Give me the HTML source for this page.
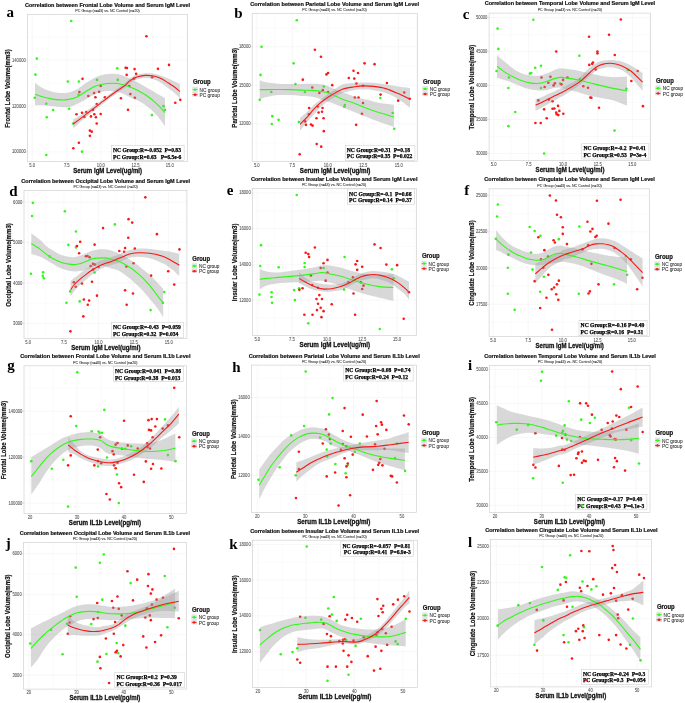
<!DOCTYPE html><html><head><meta charset="utf-8"><style>html,body{margin:0;padding:0;background:#fff;}svg{display:block;will-change:transform;}</style></head><body><svg width="685" height="703" viewBox="0 0 685 703">
<rect width="685" height="703" fill="#fff"/>
<clipPath id="clipa"><rect x="27.5" y="14.5" width="160.00" height="147.10"/></clipPath>
<line x1="49.45" y1="14.5" x2="49.45" y2="161.6" stroke="#f5f5f5" stroke-width="0.4"/><line x1="83.85" y1="14.5" x2="83.85" y2="161.6" stroke="#f5f5f5" stroke-width="0.4"/><line x1="118.25" y1="14.5" x2="118.25" y2="161.6" stroke="#f5f5f5" stroke-width="0.4"/><line x1="152.70" y1="14.5" x2="152.70" y2="161.6" stroke="#f5f5f5" stroke-width="0.4"/><line x1="187.01" y1="14.5" x2="187.01" y2="161.6" stroke="#f5f5f5" stroke-width="0.4"/><line x1="27.5" y1="37.28" x2="187.5" y2="37.28" stroke="#f5f5f5" stroke-width="0.4"/><line x1="27.5" y1="83.20" x2="187.5" y2="83.20" stroke="#f5f5f5" stroke-width="0.4"/><line x1="27.5" y1="129.05" x2="187.5" y2="129.05" stroke="#f5f5f5" stroke-width="0.4"/><line x1="32.10" y1="14.5" x2="32.10" y2="161.6" stroke="#efefef" stroke-width="0.45"/><line x1="66.80" y1="14.5" x2="66.80" y2="161.6" stroke="#efefef" stroke-width="0.45"/><line x1="100.90" y1="14.5" x2="100.90" y2="161.6" stroke="#efefef" stroke-width="0.45"/><line x1="135.60" y1="14.5" x2="135.60" y2="161.6" stroke="#efefef" stroke-width="0.45"/><line x1="169.80" y1="14.5" x2="169.80" y2="161.6" stroke="#efefef" stroke-width="0.45"/><line x1="27.5" y1="60.20" x2="187.5" y2="60.20" stroke="#efefef" stroke-width="0.45"/><line x1="27.5" y1="106.20" x2="187.5" y2="106.20" stroke="#efefef" stroke-width="0.45"/><line x1="27.5" y1="151.90" x2="187.5" y2="151.90" stroke="#efefef" stroke-width="0.45"/>
<g clip-path="url(#clipa)">
<rect x="111.4" y="145.39999999999998" width="72.69" height="15.20" fill="#fff" stroke="#c8c8c8" stroke-width="0.5"/>
<text x="113.00" y="151.90" font-family="Liberation Serif" font-size="5.6" fill="#000" stroke="#000" stroke-width="0.25" font-weight="bold" xml:space="preserve">NC Group:R=-0.052  P=0.83</text>
<text x="113.00" y="158.60" font-family="Liberation Serif" font-size="5.6" fill="#000" stroke="#000" stroke-width="0.25" font-weight="bold" xml:space="preserve">PC Group:R=0.63   P=6.5e-6</text>
<circle cx="71.24" cy="21.04" r="1.3" fill="#30f818"/>
<circle cx="36.82" cy="58.61" r="1.3" fill="#30f818"/>
<circle cx="35.50" cy="74.64" r="1.3" fill="#30f818"/>
<circle cx="67.82" cy="81.47" r="1.3" fill="#30f818"/>
<circle cx="78.86" cy="81.47" r="1.3" fill="#30f818"/>
<circle cx="96.99" cy="79.90" r="1.3" fill="#30f818"/>
<circle cx="117.23" cy="68.34" r="1.3" fill="#30f818"/>
<circle cx="117.75" cy="79.90" r="1.3" fill="#30f818"/>
<circle cx="34.72" cy="97.77" r="1.3" fill="#30f818"/>
<circle cx="78.60" cy="94.87" r="1.3" fill="#30f818"/>
<circle cx="46.28" cy="103.81" r="1.3" fill="#30f818"/>
<circle cx="53.11" cy="110.12" r="1.3" fill="#30f818"/>
<circle cx="69.14" cy="108.80" r="1.3" fill="#30f818"/>
<circle cx="46.80" cy="117.21" r="1.3" fill="#30f818"/>
<circle cx="73.08" cy="123.52" r="1.3" fill="#30f818"/>
<circle cx="82.01" cy="151.63" r="1.3" fill="#30f818"/>
<circle cx="46.28" cy="155.05" r="1.3" fill="#30f818"/>
<circle cx="151.91" cy="115.11" r="1.3" fill="#30f818"/>
<circle cx="163.47" cy="106.17" r="1.3" fill="#30f818"/>
<circle cx="165.05" cy="109.85" r="1.3" fill="#30f818"/>
<circle cx="146.39" cy="36.28" r="1.3" fill="#f81818"/>
<circle cx="168.99" cy="64.92" r="1.3" fill="#f81818"/>
<circle cx="157.95" cy="68.86" r="1.3" fill="#f81818"/>
<circle cx="125.63" cy="67.81" r="1.3" fill="#f81818"/>
<circle cx="126.95" cy="68.07" r="1.3" fill="#f81818"/>
<circle cx="134.57" cy="69.12" r="1.3" fill="#f81818"/>
<circle cx="126.68" cy="74.90" r="1.3" fill="#f81818"/>
<circle cx="136.14" cy="73.85" r="1.3" fill="#f81818"/>
<circle cx="82.54" cy="78.85" r="1.3" fill="#f81818"/>
<circle cx="134.04" cy="78.58" r="1.3" fill="#f81818"/>
<circle cx="152.17" cy="77.27" r="1.3" fill="#f81818"/>
<circle cx="129.31" cy="85.94" r="1.3" fill="#f81818"/>
<circle cx="100.67" cy="85.94" r="1.3" fill="#f81818"/>
<circle cx="79.39" cy="91.98" r="1.3" fill="#f81818"/>
<circle cx="94.10" cy="93.04" r="1.3" fill="#f81818"/>
<circle cx="99.09" cy="91.72" r="1.3" fill="#f81818"/>
<circle cx="88.32" cy="95.93" r="1.3" fill="#f81818"/>
<circle cx="95.42" cy="97.24" r="1.3" fill="#f81818"/>
<circle cx="104.87" cy="97.24" r="1.3" fill="#f81818"/>
<circle cx="130.36" cy="94.09" r="1.3" fill="#f81818"/>
<circle cx="134.83" cy="97.77" r="1.3" fill="#f81818"/>
<circle cx="120.90" cy="98.29" r="1.3" fill="#f81818"/>
<circle cx="96.73" cy="104.07" r="1.3" fill="#f81818"/>
<circle cx="128.00" cy="109.85" r="1.3" fill="#f81818"/>
<circle cx="175.30" cy="102.76" r="1.3" fill="#f81818"/>
<circle cx="180.29" cy="99.87" r="1.3" fill="#f81818"/>
<circle cx="76.50" cy="114.32" r="1.3" fill="#f81818"/>
<circle cx="82.01" cy="112.74" r="1.3" fill="#f81818"/>
<circle cx="86.22" cy="111.96" r="1.3" fill="#f81818"/>
<circle cx="84.38" cy="116.95" r="1.3" fill="#f81818"/>
<circle cx="90.95" cy="116.42" r="1.3" fill="#f81818"/>
<circle cx="94.36" cy="114.32" r="1.3" fill="#f81818"/>
<circle cx="95.94" cy="117.21" r="1.3" fill="#f81818"/>
<circle cx="100.67" cy="114.06" r="1.3" fill="#f81818"/>
<circle cx="93.05" cy="109.85" r="1.3" fill="#f81818"/>
<circle cx="96.73" cy="123.52" r="1.3" fill="#f81818"/>
<circle cx="89.90" cy="130.61" r="1.3" fill="#f81818"/>
<circle cx="91.74" cy="131.66" r="1.3" fill="#f81818"/>
<circle cx="89.90" cy="135.87" r="1.3" fill="#f81818"/>
<circle cx="78.86" cy="142.70" r="1.3" fill="#f81818"/>
<circle cx="73.34" cy="148.22" r="1.3" fill="#f81818"/>
<path d="M35.00,82.80 C36.25,83.67 39.78,86.55 42.50,88.00 C45.22,89.45 48.38,90.68 51.30,91.50 C54.22,92.32 57.08,92.75 60.00,92.90 C62.92,93.05 65.87,93.07 68.80,92.40 C71.73,91.73 74.68,90.50 77.60,88.90 C80.52,87.30 83.38,84.70 86.30,82.80 C89.22,80.90 92.18,78.90 95.10,77.50 C98.02,76.10 100.88,75.03 103.80,74.40 C106.72,73.77 109.67,73.62 112.60,73.70 C115.53,73.78 118.50,74.05 121.40,74.90 C124.30,75.75 127.10,77.43 130.00,78.80 C132.90,80.17 135.88,81.57 138.80,83.10 C141.72,84.63 144.58,86.32 147.50,88.00 C150.42,89.68 153.38,91.53 156.30,93.20 C159.22,94.87 163.55,97.20 165.00,98.00 L165.00,126.10 C163.55,124.20 159.22,117.92 156.30,114.70 C153.38,111.48 150.42,109.07 147.50,106.80 C144.58,104.53 141.72,102.70 138.80,101.10 C135.88,99.50 132.90,98.57 130.00,97.20 C127.10,95.83 124.30,93.90 121.40,92.90 C118.50,91.90 115.53,91.43 112.60,91.20 C109.67,90.97 106.72,91.00 103.80,91.50 C100.88,92.00 98.02,92.97 95.10,94.20 C92.18,95.43 89.22,97.30 86.30,98.90 C83.38,100.50 80.52,102.45 77.60,103.80 C74.68,105.15 71.73,106.47 68.80,107.00 C65.87,107.53 62.92,107.18 60.00,107.00 C57.08,106.82 54.22,106.20 51.30,105.90 C48.38,105.60 45.22,105.32 42.50,105.20 C39.78,105.08 36.25,105.20 35.00,105.20 Z" fill="#999" fill-opacity="0.38"/>
<path d="M73.20,119.60 C74.33,118.93 77.20,117.43 80.00,115.60 C82.80,113.77 86.67,110.98 90.00,108.60 C93.33,106.22 96.28,104.07 100.00,101.30 C103.72,98.53 109.03,94.40 112.30,92.00 C115.57,89.60 117.42,88.43 119.60,86.90 C121.78,85.37 123.82,84.12 125.40,82.80 C126.98,81.48 127.88,80.05 129.10,79.00 C130.32,77.95 131.25,77.28 132.70,76.50 C134.15,75.72 135.73,74.85 137.80,74.30 C139.87,73.75 142.67,73.33 145.10,73.20 C147.53,73.07 149.92,73.15 152.40,73.50 C154.88,73.85 157.38,74.47 160.00,75.30 C162.62,76.13 165.80,77.55 168.10,78.50 C170.40,79.45 171.83,80.08 173.80,81.00 C175.77,81.92 178.88,83.50 179.90,84.00 L179.90,98.00 C178.88,97.08 175.77,94.17 173.80,92.50 C171.83,90.83 170.40,89.72 168.10,88.00 C165.80,86.28 162.62,83.72 160.00,82.20 C157.38,80.68 154.88,79.58 152.40,78.90 C149.92,78.22 147.53,78.05 145.10,78.10 C142.67,78.15 139.87,78.65 137.80,79.20 C135.73,79.75 134.15,80.62 132.70,81.40 C131.25,82.18 130.32,82.88 129.10,83.90 C127.88,84.92 126.98,86.25 125.40,87.50 C123.82,88.75 121.78,89.92 119.60,91.40 C117.42,92.88 115.57,93.97 112.30,96.40 C109.03,98.83 103.72,103.07 100.00,106.00 C96.28,108.93 93.33,111.28 90.00,114.00 C86.67,116.72 82.80,119.85 80.00,122.30 C77.20,124.75 74.33,127.63 73.20,128.70 Z" fill="#999" fill-opacity="0.38"/>
<path d="M35.00,94.20 C36.25,94.63 39.78,96.02 42.50,96.80 C45.22,97.58 48.38,98.38 51.30,98.90 C54.22,99.42 57.08,99.82 60.00,99.90 C62.92,99.98 65.87,99.92 68.80,99.40 C71.73,98.88 74.68,98.17 77.60,96.80 C80.52,95.43 83.38,92.95 86.30,91.20 C89.22,89.45 92.18,87.50 95.10,86.30 C98.02,85.10 100.88,84.50 103.80,84.00 C106.72,83.50 109.67,83.27 112.60,83.30 C115.53,83.33 118.50,83.57 121.40,84.20 C124.30,84.83 127.10,85.97 130.00,87.10 C132.90,88.23 135.88,89.47 138.80,91.00 C141.72,92.53 144.58,94.25 147.50,96.30 C150.42,98.35 153.38,100.60 156.30,103.30 C159.22,106.00 163.55,110.97 165.00,112.50" fill="none" stroke="#30f818" stroke-width="1.1"/>
<path d="M73.20,124.00 C74.33,123.15 77.20,121.02 80.00,118.90 C82.80,116.78 86.67,113.85 90.00,111.30 C93.33,108.75 96.28,106.45 100.00,103.60 C103.72,100.75 109.03,96.62 112.30,94.20 C115.57,91.78 117.42,90.62 119.60,89.10 C121.78,87.58 123.82,86.38 125.40,85.10 C126.98,83.82 127.88,82.43 129.10,81.40 C130.32,80.37 131.25,79.68 132.70,78.90 C134.15,78.12 135.73,77.28 137.80,76.70 C139.87,76.12 142.67,75.55 145.10,75.40 C147.53,75.25 149.92,75.37 152.40,75.80 C154.88,76.23 157.38,76.83 160.00,78.00 C162.62,79.17 165.80,81.38 168.10,82.80 C170.40,84.22 171.83,85.05 173.80,86.50 C175.77,87.95 178.88,90.67 179.90,91.50" fill="none" stroke="#f81818" stroke-width="1.1"/>
</g>
<rect x="27.5" y="14.5" width="160.00" height="147.10" fill="none" stroke="#d2d2d2" stroke-width="0.7"/>
<line x1="32.10" y1="161.6" x2="32.10" y2="162.80" stroke="#c4c4c4" stroke-width="0.5"/>
<text x="0" y="0" transform="translate(32.10 166.80) scale(1 1.35)" font-family="Liberation Sans" font-size="4.15" fill="#5a5a5a" stroke="#5a5a5a" stroke-width="0.08" text-anchor="middle" xml:space="preserve">5.0</text>
<line x1="66.80" y1="161.6" x2="66.80" y2="162.80" stroke="#c4c4c4" stroke-width="0.5"/>
<text x="0" y="0" transform="translate(66.80 166.80) scale(1 1.35)" font-family="Liberation Sans" font-size="4.15" fill="#5a5a5a" stroke="#5a5a5a" stroke-width="0.08" text-anchor="middle" xml:space="preserve">7.5</text>
<line x1="100.90" y1="161.6" x2="100.90" y2="162.80" stroke="#c4c4c4" stroke-width="0.5"/>
<text x="0" y="0" transform="translate(100.90 166.80) scale(1 1.35)" font-family="Liberation Sans" font-size="4.15" fill="#5a5a5a" stroke="#5a5a5a" stroke-width="0.08" text-anchor="middle" xml:space="preserve">10.0</text>
<line x1="135.60" y1="161.6" x2="135.60" y2="162.80" stroke="#c4c4c4" stroke-width="0.5"/>
<text x="0" y="0" transform="translate(135.60 166.80) scale(1 1.35)" font-family="Liberation Sans" font-size="4.15" fill="#5a5a5a" stroke="#5a5a5a" stroke-width="0.08" text-anchor="middle" xml:space="preserve">12.5</text>
<line x1="169.80" y1="161.6" x2="169.80" y2="162.80" stroke="#c4c4c4" stroke-width="0.5"/>
<text x="0" y="0" transform="translate(169.80 166.80) scale(1 1.35)" font-family="Liberation Sans" font-size="4.15" fill="#5a5a5a" stroke="#5a5a5a" stroke-width="0.08" text-anchor="middle" xml:space="preserve">15.0</text>
<line x1="26.30" y1="60.20" x2="27.5" y2="60.20" stroke="#c4c4c4" stroke-width="0.5"/>
<text x="0" y="0" transform="translate(25.80 61.75) scale(1 1.35)" font-family="Liberation Sans" font-size="4.15" fill="#5a5a5a" stroke="#5a5a5a" stroke-width="0.08" text-anchor="end" xml:space="preserve">140000</text>
<line x1="26.30" y1="106.20" x2="27.5" y2="106.20" stroke="#c4c4c4" stroke-width="0.5"/>
<text x="0" y="0" transform="translate(25.80 107.75) scale(1 1.35)" font-family="Liberation Sans" font-size="4.15" fill="#5a5a5a" stroke="#5a5a5a" stroke-width="0.08" text-anchor="end" xml:space="preserve">120000</text>
<line x1="26.30" y1="151.90" x2="27.5" y2="151.90" stroke="#c4c4c4" stroke-width="0.5"/>
<text x="0" y="0" transform="translate(25.80 153.45) scale(1 1.35)" font-family="Liberation Sans" font-size="4.15" fill="#5a5a5a" stroke="#5a5a5a" stroke-width="0.08" text-anchor="end" xml:space="preserve">100000</text>
<text x="25.05" y="7.00" font-family="Liberation Sans" font-size="5.5" fill="#111" stroke="#111" stroke-width="0.2" font-weight="bold" textLength="165.10" lengthAdjust="spacingAndGlyphs" xml:space="preserve">Correlation between Frontal Lobe Volume and Serum IgM Level</text>
<text x="0" y="0" transform="translate(107.50 12.25) scale(1 1.15)" font-family="Liberation Sans" font-size="3.66" fill="#333" stroke="#333" stroke-width="0.08" text-anchor="middle" xml:space="preserve">PC Group (n=43) vs. NC Control (n=20)</text>
<text x="0" y="0" transform="translate(107.65 172.80) scale(1 1.12)" font-family="Liberation Sans" font-size="6.1" fill="#111" stroke="#111" stroke-width="0.25" font-weight="bold" text-anchor="middle" textLength="68.80" lengthAdjust="spacingAndGlyphs" xml:space="preserve">Serum IgM Level(ug/ml)</text>
<text x="0" y="0" transform="translate(9.86 88.45) rotate(-90) scale(1 1.12)" font-family="Liberation Sans" font-size="6.1" fill="#111" stroke="#111" stroke-width="0.18" font-weight="bold" text-anchor="middle" xml:space="preserve">Frontal Lobe Volume(mm3)</text>
<text x="0" y="0" transform="translate(192.90 84.30) scale(1 1.1)" font-family="Liberation Sans" font-size="5.95" fill="#111" stroke="#111" stroke-width="0.2" font-weight="bold" xml:space="preserve">Group</text>
<rect x="192.30" y="86.70" width="5.5" height="10.0" fill="#e4e4e4"/>
<line x1="192.60" y1="89.60" x2="197.50" y2="89.60" stroke="#30f818" stroke-width="0.9"/>
<circle cx="195.05" cy="89.60" r="1.2" fill="#30f818"/>
<text x="0" y="0" transform="translate(199.60 91.70) scale(1 1.12)" font-family="Liberation Sans" font-size="4.8" fill="#333" stroke="#333" stroke-width="0.08" xml:space="preserve">NC group</text>
<line x1="192.60" y1="94.70" x2="197.50" y2="94.70" stroke="#f81818" stroke-width="0.9"/>
<circle cx="195.05" cy="94.70" r="1.2" fill="#f81818"/>
<text x="0" y="0" transform="translate(199.60 96.80) scale(1 1.12)" font-family="Liberation Sans" font-size="4.8" fill="#333" stroke="#333" stroke-width="0.08" xml:space="preserve">PC group</text>
<text x="6.45" y="16.95" font-family="Liberation Serif" font-size="15" fill="#000" font-weight="bold" xml:space="preserve">a</text>
<clipPath id="clipb"><rect x="252.2" y="13.4" width="165.40" height="147.90"/></clipPath>
<line x1="274.55" y1="13.4" x2="274.55" y2="161.3" stroke="#f5f5f5" stroke-width="0.4"/><line x1="310.05" y1="13.4" x2="310.05" y2="161.3" stroke="#f5f5f5" stroke-width="0.4"/><line x1="345.50" y1="13.4" x2="345.50" y2="161.3" stroke="#f5f5f5" stroke-width="0.4"/><line x1="380.95" y1="13.4" x2="380.95" y2="161.3" stroke="#f5f5f5" stroke-width="0.4"/><line x1="416.44" y1="13.4" x2="416.44" y2="161.3" stroke="#f5f5f5" stroke-width="0.4"/><line x1="252.2" y1="27.55" x2="417.6" y2="27.55" stroke="#f5f5f5" stroke-width="0.4"/><line x1="252.2" y1="66.00" x2="417.6" y2="66.00" stroke="#f5f5f5" stroke-width="0.4"/><line x1="252.2" y1="104.50" x2="417.6" y2="104.50" stroke="#f5f5f5" stroke-width="0.4"/><line x1="252.2" y1="143.05" x2="417.6" y2="143.05" stroke="#f5f5f5" stroke-width="0.4"/><line x1="256.80" y1="13.4" x2="256.80" y2="161.3" stroke="#efefef" stroke-width="0.45"/><line x1="292.30" y1="13.4" x2="292.30" y2="161.3" stroke="#efefef" stroke-width="0.45"/><line x1="327.80" y1="13.4" x2="327.80" y2="161.3" stroke="#efefef" stroke-width="0.45"/><line x1="363.20" y1="13.4" x2="363.20" y2="161.3" stroke="#efefef" stroke-width="0.45"/><line x1="398.70" y1="13.4" x2="398.70" y2="161.3" stroke="#efefef" stroke-width="0.45"/><line x1="252.2" y1="46.80" x2="417.6" y2="46.80" stroke="#efefef" stroke-width="0.45"/><line x1="252.2" y1="85.20" x2="417.6" y2="85.20" stroke="#efefef" stroke-width="0.45"/><line x1="252.2" y1="123.80" x2="417.6" y2="123.80" stroke="#efefef" stroke-width="0.45"/>
<g clip-path="url(#clipb)">
<rect x="345.2" y="145.2" width="69.74" height="15.20" fill="#fff" stroke="#c8c8c8" stroke-width="0.5"/>
<text x="346.80" y="151.70" font-family="Liberation Serif" font-size="5.6" fill="#000" stroke="#000" stroke-width="0.25" font-weight="bold" xml:space="preserve">NC Group:R=0.31  P=0.18</text>
<text x="346.80" y="158.40" font-family="Liberation Serif" font-size="5.6" fill="#000" stroke="#000" stroke-width="0.25" font-weight="bold" xml:space="preserve">PC Group:R=0.35  P=0.022</text>
<circle cx="296.77" cy="20.25" r="1.3" fill="#30f818"/>
<circle cx="261.55" cy="46.79" r="1.3" fill="#30f818"/>
<circle cx="260.50" cy="74.90" r="1.3" fill="#30f818"/>
<circle cx="293.61" cy="63.34" r="1.3" fill="#30f818"/>
<circle cx="295.45" cy="84.10" r="1.3" fill="#30f818"/>
<circle cx="323.83" cy="86.47" r="1.3" fill="#30f818"/>
<circle cx="271.28" cy="91.98" r="1.3" fill="#30f818"/>
<circle cx="304.91" cy="91.98" r="1.3" fill="#30f818"/>
<circle cx="259.72" cy="99.87" r="1.3" fill="#30f818"/>
<circle cx="272.33" cy="116.16" r="1.3" fill="#30f818"/>
<circle cx="278.63" cy="119.84" r="1.3" fill="#30f818"/>
<circle cx="271.80" cy="124.04" r="1.3" fill="#30f818"/>
<circle cx="298.87" cy="121.94" r="1.3" fill="#30f818"/>
<circle cx="344.85" cy="105.12" r="1.3" fill="#30f818"/>
<circle cx="344.33" cy="106.70" r="1.3" fill="#30f818"/>
<circle cx="380.33" cy="98.03" r="1.3" fill="#30f818"/>
<circle cx="392.68" cy="113.01" r="1.3" fill="#30f818"/>
<circle cx="394.25" cy="128.77" r="1.3" fill="#30f818"/>
<circle cx="314.90" cy="49.68" r="1.3" fill="#f81818"/>
<circle cx="320.94" cy="56.77" r="1.3" fill="#f81818"/>
<circle cx="364.56" cy="63.34" r="1.3" fill="#f81818"/>
<circle cx="374.55" cy="64.13" r="1.3" fill="#f81818"/>
<circle cx="326.46" cy="74.38" r="1.3" fill="#f81818"/>
<circle cx="328.04" cy="73.06" r="1.3" fill="#f81818"/>
<circle cx="353.52" cy="70.70" r="1.3" fill="#f81818"/>
<circle cx="357.99" cy="73.06" r="1.3" fill="#f81818"/>
<circle cx="348.79" cy="78.06" r="1.3" fill="#f81818"/>
<circle cx="354.31" cy="78.58" r="1.3" fill="#f81818"/>
<circle cx="356.41" cy="83.58" r="1.3" fill="#f81818"/>
<circle cx="386.90" cy="83.05" r="1.3" fill="#f81818"/>
<circle cx="362.98" cy="85.68" r="1.3" fill="#f81818"/>
<circle cx="302.81" cy="79.63" r="1.3" fill="#f81818"/>
<circle cx="312.27" cy="87.52" r="1.3" fill="#f81818"/>
<circle cx="332.24" cy="85.15" r="1.3" fill="#f81818"/>
<circle cx="319.36" cy="93.04" r="1.3" fill="#f81818"/>
<circle cx="328.04" cy="91.98" r="1.3" fill="#f81818"/>
<circle cx="380.59" cy="94.61" r="1.3" fill="#f81818"/>
<circle cx="404.24" cy="92.51" r="1.3" fill="#f81818"/>
<circle cx="409.76" cy="98.82" r="1.3" fill="#f81818"/>
<circle cx="398.20" cy="100.66" r="1.3" fill="#f81818"/>
<circle cx="354.84" cy="97.50" r="1.3" fill="#f81818"/>
<circle cx="358.52" cy="97.50" r="1.3" fill="#f81818"/>
<circle cx="362.98" cy="103.02" r="1.3" fill="#f81818"/>
<circle cx="309.12" cy="108.01" r="1.3" fill="#f81818"/>
<circle cx="317.79" cy="106.44" r="1.3" fill="#f81818"/>
<circle cx="322.52" cy="108.01" r="1.3" fill="#f81818"/>
<circle cx="318.58" cy="112.48" r="1.3" fill="#f81818"/>
<circle cx="321.99" cy="111.69" r="1.3" fill="#f81818"/>
<circle cx="308.85" cy="114.32" r="1.3" fill="#f81818"/>
<circle cx="316.47" cy="118.26" r="1.3" fill="#f81818"/>
<circle cx="323.57" cy="118.26" r="1.3" fill="#f81818"/>
<circle cx="305.17" cy="121.41" r="1.3" fill="#f81818"/>
<circle cx="305.96" cy="124.83" r="1.3" fill="#f81818"/>
<circle cx="310.96" cy="124.57" r="1.3" fill="#f81818"/>
<circle cx="312.53" cy="125.62" r="1.3" fill="#f81818"/>
<circle cx="361.93" cy="113.79" r="1.3" fill="#f81818"/>
<circle cx="356.15" cy="124.83" r="1.3" fill="#f81818"/>
<circle cx="323.83" cy="131.14" r="1.3" fill="#f81818"/>
<circle cx="316.74" cy="144.01" r="1.3" fill="#f81818"/>
<circle cx="321.20" cy="146.64" r="1.3" fill="#f81818"/>
<circle cx="299.66" cy="154.26" r="1.3" fill="#f81818"/>
<circle cx="322.78" cy="90.15" r="1.3" fill="#f81818"/>
<path d="M259.70,80.30 C260.87,80.63 263.58,81.72 266.70,82.30 C269.82,82.88 274.52,83.52 278.40,83.80 C282.28,84.08 286.12,83.97 290.00,84.00 C293.88,84.03 297.80,84.03 301.70,84.00 C305.60,83.97 309.90,83.70 313.40,83.80 C316.90,83.90 319.93,84.07 322.70,84.60 C325.47,85.13 326.72,85.72 330.00,87.00 C333.28,88.28 338.27,90.68 342.40,92.30 C346.53,93.92 350.67,95.45 354.80,96.70 C358.93,97.95 363.07,98.77 367.20,99.80 C371.33,100.83 375.15,102.08 379.60,102.90 C384.05,103.72 391.52,104.40 393.90,104.70 L393.90,127.10 C391.52,126.27 384.05,123.75 379.60,122.10 C375.15,120.45 371.33,118.85 367.20,117.20 C363.07,115.55 358.93,113.87 354.80,112.20 C350.67,110.53 346.53,108.85 342.40,107.20 C338.27,105.55 333.28,103.53 330.00,102.30 C326.72,101.07 325.47,100.70 322.70,99.80 C319.93,98.90 316.90,97.55 313.40,96.90 C309.90,96.25 305.60,96.20 301.70,95.90 C297.80,95.60 293.88,95.23 290.00,95.10 C286.12,94.97 282.28,94.77 278.40,95.10 C274.52,95.43 269.82,96.42 266.70,97.10 C263.58,97.78 260.87,98.85 259.70,99.20 Z" fill="#999" fill-opacity="0.38"/>
<path d="M300.00,117.90 C301.27,116.83 305.37,113.55 307.60,111.50 C309.83,109.45 311.47,107.42 313.40,105.60 C315.33,103.78 317.25,102.15 319.20,100.60 C321.15,99.05 323.15,97.73 325.10,96.30 C327.05,94.87 328.02,93.95 330.90,92.00 C333.78,90.05 338.42,86.10 342.40,84.60 C346.38,83.10 351.28,83.37 354.80,83.00 C358.32,82.63 360.40,82.43 363.50,82.40 C366.60,82.37 369.68,82.45 373.40,82.80 C377.12,83.15 381.67,83.88 385.80,84.50 C389.93,85.12 394.17,85.92 398.20,86.50 C402.23,87.08 408.03,87.75 410.00,88.00 L410.00,107.80 C408.03,106.33 402.23,101.47 398.20,99.00 C394.17,96.53 389.93,94.45 385.80,93.00 C381.67,91.55 377.12,90.87 373.40,90.30 C369.68,89.73 366.60,89.67 363.50,89.60 C360.40,89.53 358.32,89.33 354.80,89.90 C351.28,90.47 346.38,91.40 342.40,93.00 C338.42,94.60 333.78,97.78 330.90,99.50 C328.02,101.22 327.05,101.80 325.10,103.30 C323.15,104.80 321.15,106.55 319.20,108.50 C317.25,110.45 315.33,112.85 313.40,115.00 C311.47,117.15 309.83,118.78 307.60,121.40 C305.37,124.02 301.27,129.15 300.00,130.70 Z" fill="#999" fill-opacity="0.38"/>
<path d="M259.70,89.60 C260.87,89.60 263.58,89.62 266.70,89.60 C269.82,89.58 274.52,89.50 278.40,89.50 C282.28,89.50 286.12,89.50 290.00,89.60 C293.88,89.70 297.80,89.97 301.70,90.10 C305.60,90.23 309.90,90.15 313.40,90.40 C316.90,90.65 319.93,91.07 322.70,91.60 C325.47,92.13 326.72,92.33 330.00,93.60 C333.28,94.87 338.27,97.55 342.40,99.20 C346.53,100.85 350.67,101.95 354.80,103.50 C358.93,105.05 363.07,106.95 367.20,108.50 C371.33,110.05 375.15,111.40 379.60,112.80 C384.05,114.20 391.52,116.22 393.90,116.90" fill="none" stroke="#30f818" stroke-width="1.1"/>
<path d="M300.00,124.30 C301.27,123.03 305.37,119.13 307.60,116.70 C309.83,114.27 311.47,111.83 313.40,109.70 C315.33,107.57 317.25,105.65 319.20,103.90 C321.15,102.15 323.15,100.62 325.10,99.20 C327.05,97.78 328.02,97.07 330.90,95.40 C333.78,93.73 338.42,90.63 342.40,89.20 C346.38,87.77 351.28,87.35 354.80,86.80 C358.32,86.25 360.40,85.97 363.50,85.90 C366.60,85.83 369.68,85.95 373.40,86.40 C377.12,86.85 381.67,87.40 385.80,88.60 C389.93,89.80 394.17,91.83 398.20,93.60 C402.23,95.37 408.03,98.27 410.00,99.20" fill="none" stroke="#f81818" stroke-width="1.1"/>
</g>
<rect x="252.2" y="13.4" width="165.40" height="147.90" fill="none" stroke="#d2d2d2" stroke-width="0.7"/>
<line x1="256.80" y1="161.3" x2="256.80" y2="162.50" stroke="#c4c4c4" stroke-width="0.5"/>
<text x="0" y="0" transform="translate(256.80 166.50) scale(1 1.35)" font-family="Liberation Sans" font-size="4.15" fill="#5a5a5a" stroke="#5a5a5a" stroke-width="0.08" text-anchor="middle" xml:space="preserve">5.0</text>
<line x1="292.30" y1="161.3" x2="292.30" y2="162.50" stroke="#c4c4c4" stroke-width="0.5"/>
<text x="0" y="0" transform="translate(292.30 166.50) scale(1 1.35)" font-family="Liberation Sans" font-size="4.15" fill="#5a5a5a" stroke="#5a5a5a" stroke-width="0.08" text-anchor="middle" xml:space="preserve">7.5</text>
<line x1="327.80" y1="161.3" x2="327.80" y2="162.50" stroke="#c4c4c4" stroke-width="0.5"/>
<text x="0" y="0" transform="translate(327.80 166.50) scale(1 1.35)" font-family="Liberation Sans" font-size="4.15" fill="#5a5a5a" stroke="#5a5a5a" stroke-width="0.08" text-anchor="middle" xml:space="preserve">10.0</text>
<line x1="363.20" y1="161.3" x2="363.20" y2="162.50" stroke="#c4c4c4" stroke-width="0.5"/>
<text x="0" y="0" transform="translate(363.20 166.50) scale(1 1.35)" font-family="Liberation Sans" font-size="4.15" fill="#5a5a5a" stroke="#5a5a5a" stroke-width="0.08" text-anchor="middle" xml:space="preserve">12.5</text>
<line x1="398.70" y1="161.3" x2="398.70" y2="162.50" stroke="#c4c4c4" stroke-width="0.5"/>
<text x="0" y="0" transform="translate(398.70 166.50) scale(1 1.35)" font-family="Liberation Sans" font-size="4.15" fill="#5a5a5a" stroke="#5a5a5a" stroke-width="0.08" text-anchor="middle" xml:space="preserve">15.0</text>
<line x1="251.00" y1="46.80" x2="252.2" y2="46.80" stroke="#c4c4c4" stroke-width="0.5"/>
<text x="0" y="0" transform="translate(250.50 48.35) scale(1 1.35)" font-family="Liberation Sans" font-size="4.15" fill="#5a5a5a" stroke="#5a5a5a" stroke-width="0.08" text-anchor="end" xml:space="preserve">18000</text>
<line x1="251.00" y1="85.20" x2="252.2" y2="85.20" stroke="#c4c4c4" stroke-width="0.5"/>
<text x="0" y="0" transform="translate(250.50 86.75) scale(1 1.35)" font-family="Liberation Sans" font-size="4.15" fill="#5a5a5a" stroke="#5a5a5a" stroke-width="0.08" text-anchor="end" xml:space="preserve">15000</text>
<line x1="251.00" y1="123.80" x2="252.2" y2="123.80" stroke="#c4c4c4" stroke-width="0.5"/>
<text x="0" y="0" transform="translate(250.50 125.35) scale(1 1.35)" font-family="Liberation Sans" font-size="4.15" fill="#5a5a5a" stroke="#5a5a5a" stroke-width="0.08" text-anchor="end" xml:space="preserve">12000</text>
<text x="250.25" y="5.90" font-family="Liberation Sans" font-size="5.5" fill="#111" stroke="#111" stroke-width="0.2" font-weight="bold" textLength="168.70" lengthAdjust="spacingAndGlyphs" xml:space="preserve">Correlation between Parietal Lobe Volume and Serum IgM Level</text>
<text x="0" y="0" transform="translate(334.50 11.15) scale(1 1.15)" font-family="Liberation Sans" font-size="3.66" fill="#333" stroke="#333" stroke-width="0.08" text-anchor="middle" xml:space="preserve">PC Group (n=43) vs. NC Control (n=20)</text>
<text x="0" y="0" transform="translate(335.10 172.50) scale(1 1.12)" font-family="Liberation Sans" font-size="6.1" fill="#111" stroke="#111" stroke-width="0.25" font-weight="bold" text-anchor="middle" textLength="70.70" lengthAdjust="spacingAndGlyphs" xml:space="preserve">Serum IgM Level(ug/ml)</text>
<text x="0" y="0" transform="translate(236.86 87.75) rotate(-90) scale(1 1.12)" font-family="Liberation Sans" font-size="6.1" fill="#111" stroke="#111" stroke-width="0.18" font-weight="bold" text-anchor="middle" xml:space="preserve">Parietal Lobe Volume(mm3)</text>
<text x="0" y="0" transform="translate(423.00 83.60) scale(1 1.1)" font-family="Liberation Sans" font-size="5.95" fill="#111" stroke="#111" stroke-width="0.2" font-weight="bold" xml:space="preserve">Group</text>
<rect x="422.40" y="86.00" width="5.5" height="10.0" fill="#e4e4e4"/>
<line x1="422.70" y1="88.90" x2="427.60" y2="88.90" stroke="#30f818" stroke-width="0.9"/>
<circle cx="425.15" cy="88.90" r="1.2" fill="#30f818"/>
<text x="0" y="0" transform="translate(429.70 91.00) scale(1 1.12)" font-family="Liberation Sans" font-size="4.8" fill="#333" stroke="#333" stroke-width="0.08" xml:space="preserve">NC group</text>
<line x1="422.70" y1="94.00" x2="427.60" y2="94.00" stroke="#f81818" stroke-width="0.9"/>
<circle cx="425.15" cy="94.00" r="1.2" fill="#f81818"/>
<text x="0" y="0" transform="translate(429.70 96.10) scale(1 1.12)" font-family="Liberation Sans" font-size="4.8" fill="#333" stroke="#333" stroke-width="0.08" xml:space="preserve">PC group</text>
<text x="234.35" y="17.80" font-family="Liberation Serif" font-size="15" fill="#000" font-weight="bold" xml:space="preserve">b</text>
<clipPath id="clipc"><rect x="489.1" y="13.1" width="161.50" height="147.30"/></clipPath>
<line x1="511.15" y1="13.1" x2="511.15" y2="160.4" stroke="#f5f5f5" stroke-width="0.4"/><line x1="545.80" y1="13.1" x2="545.80" y2="160.4" stroke="#f5f5f5" stroke-width="0.4"/><line x1="580.35" y1="13.1" x2="580.35" y2="160.4" stroke="#f5f5f5" stroke-width="0.4"/><line x1="615.05" y1="13.1" x2="615.05" y2="160.4" stroke="#f5f5f5" stroke-width="0.4"/><line x1="649.74" y1="13.1" x2="649.74" y2="160.4" stroke="#f5f5f5" stroke-width="0.4"/><line x1="489.1" y1="34.55" x2="650.6" y2="34.55" stroke="#f5f5f5" stroke-width="0.4"/><line x1="489.1" y1="68.45" x2="650.6" y2="68.45" stroke="#f5f5f5" stroke-width="0.4"/><line x1="489.1" y1="102.50" x2="650.6" y2="102.50" stroke="#f5f5f5" stroke-width="0.4"/><line x1="489.1" y1="136.55" x2="650.6" y2="136.55" stroke="#f5f5f5" stroke-width="0.4"/><line x1="493.70" y1="13.1" x2="493.70" y2="160.4" stroke="#efefef" stroke-width="0.45"/><line x1="528.60" y1="13.1" x2="528.60" y2="160.4" stroke="#efefef" stroke-width="0.45"/><line x1="563.00" y1="13.1" x2="563.00" y2="160.4" stroke="#efefef" stroke-width="0.45"/><line x1="597.70" y1="13.1" x2="597.70" y2="160.4" stroke="#efefef" stroke-width="0.45"/><line x1="632.40" y1="13.1" x2="632.40" y2="160.4" stroke="#efefef" stroke-width="0.45"/><line x1="489.1" y1="17.60" x2="650.6" y2="17.60" stroke="#efefef" stroke-width="0.45"/><line x1="489.1" y1="51.50" x2="650.6" y2="51.50" stroke="#efefef" stroke-width="0.45"/><line x1="489.1" y1="85.40" x2="650.6" y2="85.40" stroke="#efefef" stroke-width="0.45"/><line x1="489.1" y1="119.60" x2="650.6" y2="119.60" stroke="#efefef" stroke-width="0.45"/><line x1="489.1" y1="153.50" x2="650.6" y2="153.50" stroke="#efefef" stroke-width="0.45"/>
<g clip-path="url(#clipc)">
<rect x="581.8" y="143.79999999999998" width="67.10" height="15.20" fill="#fff" stroke="#c8c8c8" stroke-width="0.5"/>
<text x="583.40" y="150.30" font-family="Liberation Serif" font-size="5.6" fill="#000" stroke="#000" stroke-width="0.25" font-weight="bold" xml:space="preserve">NC Group:R=-0.2  P=0.41</text>
<text x="583.40" y="157.00" font-family="Liberation Serif" font-size="5.6" fill="#000" stroke="#000" stroke-width="0.25" font-weight="bold" xml:space="preserve">PC Group:R=0.53  P=3e-4</text>
<circle cx="533.34" cy="19.72" r="1.3" fill="#30f818"/>
<circle cx="497.61" cy="28.66" r="1.3" fill="#30f818"/>
<circle cx="498.39" cy="48.89" r="1.3" fill="#30f818"/>
<circle cx="579.33" cy="55.72" r="1.3" fill="#30f818"/>
<circle cx="540.96" cy="65.71" r="1.3" fill="#30f818"/>
<circle cx="535.18" cy="67.81" r="1.3" fill="#30f818"/>
<circle cx="531.24" cy="73.06" r="1.3" fill="#30f818"/>
<circle cx="529.93" cy="73.59" r="1.3" fill="#30f818"/>
<circle cx="496.55" cy="70.96" r="1.3" fill="#30f818"/>
<circle cx="508.90" cy="77.53" r="1.3" fill="#30f818"/>
<circle cx="508.38" cy="88.04" r="1.3" fill="#30f818"/>
<circle cx="540.96" cy="88.04" r="1.3" fill="#30f818"/>
<circle cx="560.15" cy="83.58" r="1.3" fill="#30f818"/>
<circle cx="579.85" cy="79.11" r="1.3" fill="#30f818"/>
<circle cx="627.94" cy="69.91" r="1.3" fill="#30f818"/>
<circle cx="626.36" cy="88.83" r="1.3" fill="#30f818"/>
<circle cx="515.21" cy="111.96" r="1.3" fill="#30f818"/>
<circle cx="508.38" cy="126.14" r="1.3" fill="#30f818"/>
<circle cx="614.54" cy="130.61" r="1.3" fill="#30f818"/>
<circle cx="544.12" cy="153.47" r="1.3" fill="#30f818"/>
<circle cx="620.85" cy="19.46" r="1.3" fill="#f81818"/>
<circle cx="589.05" cy="36.80" r="1.3" fill="#f81818"/>
<circle cx="609.02" cy="34.70" r="1.3" fill="#f81818"/>
<circle cx="556.20" cy="51.52" r="1.3" fill="#f81818"/>
<circle cx="597.46" cy="51.52" r="1.3" fill="#f81818"/>
<circle cx="597.46" cy="53.36" r="1.3" fill="#f81818"/>
<circle cx="614.80" cy="54.93" r="1.3" fill="#f81818"/>
<circle cx="592.99" cy="62.55" r="1.3" fill="#f81818"/>
<circle cx="592.20" cy="63.87" r="1.3" fill="#f81818"/>
<circle cx="589.31" cy="64.92" r="1.3" fill="#f81818"/>
<circle cx="595.62" cy="69.39" r="1.3" fill="#f81818"/>
<circle cx="637.66" cy="70.96" r="1.3" fill="#f81818"/>
<circle cx="541.49" cy="77.53" r="1.3" fill="#f81818"/>
<circle cx="550.42" cy="76.74" r="1.3" fill="#f81818"/>
<circle cx="567.50" cy="77.53" r="1.3" fill="#f81818"/>
<circle cx="563.04" cy="79.90" r="1.3" fill="#f81818"/>
<circle cx="548.32" cy="82.79" r="1.3" fill="#f81818"/>
<circle cx="554.89" cy="83.31" r="1.3" fill="#f81818"/>
<circle cx="553.58" cy="85.42" r="1.3" fill="#f81818"/>
<circle cx="561.46" cy="84.36" r="1.3" fill="#f81818"/>
<circle cx="544.64" cy="86.99" r="1.3" fill="#f81818"/>
<circle cx="583.27" cy="86.20" r="1.3" fill="#f81818"/>
<circle cx="588.00" cy="87.78" r="1.3" fill="#f81818"/>
<circle cx="631.36" cy="80.95" r="1.3" fill="#f81818"/>
<circle cx="590.36" cy="97.50" r="1.3" fill="#f81818"/>
<circle cx="591.41" cy="97.77" r="1.3" fill="#f81818"/>
<circle cx="538.34" cy="100.39" r="1.3" fill="#f81818"/>
<circle cx="548.85" cy="99.60" r="1.3" fill="#f81818"/>
<circle cx="552.52" cy="101.18" r="1.3" fill="#f81818"/>
<circle cx="558.04" cy="105.91" r="1.3" fill="#f81818"/>
<circle cx="552.52" cy="108.80" r="1.3" fill="#f81818"/>
<circle cx="554.36" cy="108.54" r="1.3" fill="#f81818"/>
<circle cx="544.12" cy="109.33" r="1.3" fill="#f81818"/>
<circle cx="559.36" cy="110.90" r="1.3" fill="#f81818"/>
<circle cx="556.20" cy="112.48" r="1.3" fill="#f81818"/>
<circle cx="556.73" cy="114.32" r="1.3" fill="#f81818"/>
<circle cx="558.31" cy="115.11" r="1.3" fill="#f81818"/>
<circle cx="563.30" cy="113.79" r="1.3" fill="#f81818"/>
<circle cx="546.74" cy="118.26" r="1.3" fill="#f81818"/>
<circle cx="535.44" cy="122.99" r="1.3" fill="#f81818"/>
<circle cx="540.70" cy="122.99" r="1.3" fill="#f81818"/>
<circle cx="599.04" cy="107.75" r="1.3" fill="#f81818"/>
<circle cx="642.92" cy="106.17" r="1.3" fill="#f81818"/>
<path d="M497.00,54.90 C497.78,55.63 499.95,57.78 501.70,59.30 C503.45,60.82 505.55,62.43 507.50,64.00 C509.45,65.57 511.45,67.33 513.40,68.70 C515.35,70.07 517.27,71.23 519.20,72.20 C521.13,73.17 523.05,73.95 525.00,74.50 C526.95,75.05 528.95,75.27 530.90,75.50 C532.85,75.73 534.75,75.97 536.70,75.90 C538.65,75.83 540.65,75.62 542.60,75.10 C544.55,74.58 546.47,73.67 548.40,72.80 C550.33,71.93 552.25,70.62 554.20,69.90 C556.15,69.18 558.30,68.68 560.10,68.50 C561.90,68.32 562.12,68.48 565.00,68.80 C567.88,69.12 573.27,69.65 577.40,70.40 C581.53,71.15 585.67,72.37 589.80,73.30 C593.93,74.23 598.07,75.35 602.20,76.00 C606.33,76.65 610.47,77.10 614.60,77.20 C618.73,77.30 624.93,76.70 627.00,76.60 L627.00,105.80 C624.93,104.97 618.73,102.05 614.60,100.80 C610.47,99.55 606.33,99.13 602.20,98.30 C598.07,97.47 593.93,96.83 589.80,95.80 C585.67,94.77 581.53,93.23 577.40,92.10 C573.27,90.97 567.88,89.77 565.00,89.00 C562.12,88.23 561.90,87.67 560.10,87.50 C558.30,87.33 556.15,87.63 554.20,88.00 C552.25,88.37 550.33,89.27 548.40,89.70 C546.47,90.13 544.55,90.50 542.60,90.60 C540.65,90.70 538.65,90.48 536.70,90.30 C534.75,90.12 532.85,89.88 530.90,89.50 C528.95,89.12 526.95,88.65 525.00,88.00 C523.05,87.35 521.13,86.38 519.20,85.60 C517.27,84.82 515.35,84.08 513.40,83.30 C511.45,82.52 509.45,81.58 507.50,80.90 C505.55,80.22 503.45,79.72 501.70,79.20 C499.95,78.68 497.78,78.03 497.00,77.80 Z" fill="#999" fill-opacity="0.38"/>
<path d="M535.50,99.10 C536.68,98.70 540.45,97.58 542.60,96.70 C544.75,95.82 546.47,94.67 548.40,93.80 C550.33,92.93 552.25,92.38 554.20,91.50 C556.15,90.62 558.22,89.38 560.10,88.50 C561.98,87.62 562.62,87.70 565.50,86.20 C568.38,84.70 574.38,81.62 577.40,79.50 C580.42,77.38 581.53,75.50 583.60,73.50 C585.67,71.50 587.73,69.20 589.80,67.50 C591.87,65.80 593.93,64.42 596.00,63.30 C598.07,62.18 599.72,61.37 602.20,60.80 C604.68,60.23 607.80,59.82 610.90,59.90 C614.00,59.98 617.48,60.38 620.80,61.30 C624.12,62.22 627.17,63.47 630.80,65.40 C634.43,67.33 640.63,71.65 642.60,72.90 L642.60,90.90 C640.63,88.62 634.43,80.72 630.80,77.20 C627.17,73.68 624.12,71.45 620.80,69.80 C617.48,68.15 614.00,67.55 610.90,67.30 C607.80,67.05 604.68,67.68 602.20,68.30 C599.72,68.92 598.07,69.72 596.00,71.00 C593.93,72.28 591.87,74.25 589.80,76.00 C587.73,77.75 585.67,79.75 583.60,81.50 C581.53,83.25 580.42,84.33 577.40,86.50 C574.38,88.67 568.38,92.70 565.50,94.50 C562.62,96.30 561.98,96.25 560.10,97.30 C558.22,98.35 556.15,99.73 554.20,100.80 C552.25,101.87 550.33,102.63 548.40,103.70 C546.47,104.77 544.75,105.98 542.60,107.20 C540.45,108.42 536.68,110.37 535.50,111.00 Z" fill="#999" fill-opacity="0.38"/>
<path d="M497.00,66.10 C497.78,66.73 499.95,68.60 501.70,69.90 C503.45,71.20 505.55,72.70 507.50,73.90 C509.45,75.10 511.45,76.12 513.40,77.10 C515.35,78.08 517.27,79.02 519.20,79.80 C521.13,80.58 523.05,81.25 525.00,81.80 C526.95,82.35 528.95,82.82 530.90,83.10 C532.85,83.38 534.75,83.57 536.70,83.50 C538.65,83.43 540.65,83.13 542.60,82.70 C544.55,82.27 546.47,81.58 548.40,80.90 C550.33,80.22 552.25,79.18 554.20,78.60 C556.15,78.02 558.30,77.53 560.10,77.40 C561.90,77.27 562.12,77.42 565.00,77.80 C567.88,78.18 573.27,78.87 577.40,79.70 C581.53,80.53 585.67,81.77 589.80,82.80 C593.93,83.83 598.07,84.93 602.20,85.90 C606.33,86.87 610.47,87.77 614.60,88.60 C618.73,89.43 624.93,90.52 627.00,90.90" fill="none" stroke="#30f818" stroke-width="1.1"/>
<path d="M535.50,105.10 C536.68,104.58 540.45,103.00 542.60,102.00 C544.75,101.00 546.47,100.08 548.40,99.10 C550.33,98.12 552.25,97.08 554.20,96.10 C556.15,95.12 558.22,94.12 560.10,93.20 C561.98,92.28 562.62,92.23 565.50,90.60 C568.38,88.97 574.38,85.42 577.40,83.40 C580.42,81.38 581.53,80.32 583.60,78.50 C585.67,76.68 587.73,74.37 589.80,72.50 C591.87,70.63 593.93,68.65 596.00,67.30 C598.07,65.95 599.72,65.07 602.20,64.40 C604.68,63.73 607.80,63.13 610.90,63.30 C614.00,63.47 617.48,64.12 620.80,65.40 C624.12,66.68 627.17,68.20 630.80,71.00 C634.43,73.80 640.63,80.33 642.60,82.20" fill="none" stroke="#f81818" stroke-width="1.1"/>
</g>
<rect x="489.1" y="13.1" width="161.50" height="147.30" fill="none" stroke="#d2d2d2" stroke-width="0.7"/>
<line x1="493.70" y1="160.4" x2="493.70" y2="161.60" stroke="#c4c4c4" stroke-width="0.5"/>
<text x="0" y="0" transform="translate(493.70 165.60) scale(1 1.35)" font-family="Liberation Sans" font-size="4.15" fill="#5a5a5a" stroke="#5a5a5a" stroke-width="0.08" text-anchor="middle" xml:space="preserve">5.0</text>
<line x1="528.60" y1="160.4" x2="528.60" y2="161.60" stroke="#c4c4c4" stroke-width="0.5"/>
<text x="0" y="0" transform="translate(528.60 165.60) scale(1 1.35)" font-family="Liberation Sans" font-size="4.15" fill="#5a5a5a" stroke="#5a5a5a" stroke-width="0.08" text-anchor="middle" xml:space="preserve">7.5</text>
<line x1="563.00" y1="160.4" x2="563.00" y2="161.60" stroke="#c4c4c4" stroke-width="0.5"/>
<text x="0" y="0" transform="translate(563.00 165.60) scale(1 1.35)" font-family="Liberation Sans" font-size="4.15" fill="#5a5a5a" stroke="#5a5a5a" stroke-width="0.08" text-anchor="middle" xml:space="preserve">10.0</text>
<line x1="597.70" y1="160.4" x2="597.70" y2="161.60" stroke="#c4c4c4" stroke-width="0.5"/>
<text x="0" y="0" transform="translate(597.70 165.60) scale(1 1.35)" font-family="Liberation Sans" font-size="4.15" fill="#5a5a5a" stroke="#5a5a5a" stroke-width="0.08" text-anchor="middle" xml:space="preserve">12.5</text>
<line x1="632.40" y1="160.4" x2="632.40" y2="161.60" stroke="#c4c4c4" stroke-width="0.5"/>
<text x="0" y="0" transform="translate(632.40 165.60) scale(1 1.35)" font-family="Liberation Sans" font-size="4.15" fill="#5a5a5a" stroke="#5a5a5a" stroke-width="0.08" text-anchor="middle" xml:space="preserve">15.0</text>
<line x1="487.90" y1="17.60" x2="489.1" y2="17.60" stroke="#c4c4c4" stroke-width="0.5"/>
<text x="0" y="0" transform="translate(487.40 19.15) scale(1 1.35)" font-family="Liberation Sans" font-size="4.15" fill="#5a5a5a" stroke="#5a5a5a" stroke-width="0.08" text-anchor="end" xml:space="preserve">50000</text>
<line x1="487.90" y1="51.50" x2="489.1" y2="51.50" stroke="#c4c4c4" stroke-width="0.5"/>
<text x="0" y="0" transform="translate(487.40 53.05) scale(1 1.35)" font-family="Liberation Sans" font-size="4.15" fill="#5a5a5a" stroke="#5a5a5a" stroke-width="0.08" text-anchor="end" xml:space="preserve">45000</text>
<line x1="487.90" y1="85.40" x2="489.1" y2="85.40" stroke="#c4c4c4" stroke-width="0.5"/>
<text x="0" y="0" transform="translate(487.40 86.95) scale(1 1.35)" font-family="Liberation Sans" font-size="4.15" fill="#5a5a5a" stroke="#5a5a5a" stroke-width="0.08" text-anchor="end" xml:space="preserve">40000</text>
<line x1="487.90" y1="119.60" x2="489.1" y2="119.60" stroke="#c4c4c4" stroke-width="0.5"/>
<text x="0" y="0" transform="translate(487.40 121.15) scale(1 1.35)" font-family="Liberation Sans" font-size="4.15" fill="#5a5a5a" stroke="#5a5a5a" stroke-width="0.08" text-anchor="end" xml:space="preserve">35000</text>
<line x1="487.90" y1="153.50" x2="489.1" y2="153.50" stroke="#c4c4c4" stroke-width="0.5"/>
<text x="0" y="0" transform="translate(487.40 155.05) scale(1 1.35)" font-family="Liberation Sans" font-size="4.15" fill="#5a5a5a" stroke="#5a5a5a" stroke-width="0.08" text-anchor="end" xml:space="preserve">30000</text>
<text x="484.75" y="5.30" font-family="Liberation Sans" font-size="5.5" fill="#111" stroke="#111" stroke-width="0.2" font-weight="bold" textLength="170.40" lengthAdjust="spacingAndGlyphs" xml:space="preserve">Correlation between Temporal Lobe Volume and Serum IgM Level</text>
<text x="0" y="0" transform="translate(569.85 10.85) scale(1 1.15)" font-family="Liberation Sans" font-size="3.66" fill="#333" stroke="#333" stroke-width="0.08" text-anchor="middle" xml:space="preserve">PC Group (n=43) vs. NC Control (n=20)</text>
<text x="0" y="0" transform="translate(570.00 171.60) scale(1 1.12)" font-family="Liberation Sans" font-size="6.1" fill="#111" stroke="#111" stroke-width="0.25" font-weight="bold" text-anchor="middle" textLength="68.90" lengthAdjust="spacingAndGlyphs" xml:space="preserve">Serum IgM Level(ug/ml)</text>
<text x="0" y="0" transform="translate(473.76 87.15) rotate(-90) scale(1 1.12)" font-family="Liberation Sans" font-size="6.1" fill="#111" stroke="#111" stroke-width="0.18" font-weight="bold" text-anchor="middle" xml:space="preserve">Temporal Lobe Volume(mm3)</text>
<text x="0" y="0" transform="translate(656.00 83.00) scale(1 1.1)" font-family="Liberation Sans" font-size="5.95" fill="#111" stroke="#111" stroke-width="0.2" font-weight="bold" xml:space="preserve">Group</text>
<rect x="655.40" y="85.40" width="5.5" height="10.0" fill="#e4e4e4"/>
<line x1="655.70" y1="88.30" x2="660.60" y2="88.30" stroke="#30f818" stroke-width="0.9"/>
<circle cx="658.15" cy="88.30" r="1.2" fill="#30f818"/>
<text x="0" y="0" transform="translate(662.70 90.40) scale(1 1.12)" font-family="Liberation Sans" font-size="4.8" fill="#333" stroke="#333" stroke-width="0.08" xml:space="preserve">NC group</text>
<line x1="655.70" y1="93.40" x2="660.60" y2="93.40" stroke="#f81818" stroke-width="0.9"/>
<circle cx="658.15" cy="93.40" r="1.2" fill="#f81818"/>
<text x="0" y="0" transform="translate(662.70 95.50) scale(1 1.12)" font-family="Liberation Sans" font-size="4.8" fill="#333" stroke="#333" stroke-width="0.08" xml:space="preserve">PC group</text>
<text x="462.75" y="18.60" font-family="Liberation Serif" font-size="15" fill="#000" font-weight="bold" xml:space="preserve">c</text>
<clipPath id="clipd"><rect x="24.0" y="190.6" width="162.90" height="147.80"/></clipPath>
<line x1="46.00" y1="190.6" x2="46.00" y2="338.4" stroke="#f5f5f5" stroke-width="0.4"/><line x1="81.25" y1="190.6" x2="81.25" y2="338.4" stroke="#f5f5f5" stroke-width="0.4"/><line x1="116.20" y1="190.6" x2="116.20" y2="338.4" stroke="#f5f5f5" stroke-width="0.4"/><line x1="151.25" y1="190.6" x2="151.25" y2="338.4" stroke="#f5f5f5" stroke-width="0.4"/><line x1="186.27" y1="190.6" x2="186.27" y2="338.4" stroke="#f5f5f5" stroke-width="0.4"/><line x1="24.0" y1="222.20" x2="186.9" y2="222.20" stroke="#f5f5f5" stroke-width="0.4"/><line x1="24.0" y1="262.65" x2="186.9" y2="262.65" stroke="#f5f5f5" stroke-width="0.4"/><line x1="24.0" y1="303.25" x2="186.9" y2="303.25" stroke="#f5f5f5" stroke-width="0.4"/><line x1="28.10" y1="190.6" x2="28.10" y2="338.4" stroke="#efefef" stroke-width="0.45"/><line x1="63.90" y1="190.6" x2="63.90" y2="338.4" stroke="#efefef" stroke-width="0.45"/><line x1="98.60" y1="190.6" x2="98.60" y2="338.4" stroke="#efefef" stroke-width="0.45"/><line x1="133.80" y1="190.6" x2="133.80" y2="338.4" stroke="#efefef" stroke-width="0.45"/><line x1="168.70" y1="190.6" x2="168.70" y2="338.4" stroke="#efefef" stroke-width="0.45"/><line x1="24.0" y1="202.10" x2="186.9" y2="202.10" stroke="#efefef" stroke-width="0.45"/><line x1="24.0" y1="242.30" x2="186.9" y2="242.30" stroke="#efefef" stroke-width="0.45"/><line x1="24.0" y1="283.00" x2="186.9" y2="283.00" stroke="#efefef" stroke-width="0.45"/><line x1="24.0" y1="323.50" x2="186.9" y2="323.50" stroke="#efefef" stroke-width="0.45"/>
<g clip-path="url(#clipd)">
<rect x="111.3" y="322.59999999999997" width="72.23" height="15.20" fill="#fff" stroke="#c8c8c8" stroke-width="0.5"/>
<text x="112.90" y="329.10" font-family="Liberation Serif" font-size="5.6" fill="#000" stroke="#000" stroke-width="0.25" font-weight="bold" xml:space="preserve">NC Group:R=-0.43  P=0.059</text>
<text x="112.90" y="335.80" font-family="Liberation Serif" font-size="5.6" fill="#000" stroke="#000" stroke-width="0.25" font-weight="bold" xml:space="preserve">PC Group:R=0.32  P=0.034</text>
<circle cx="32.87" cy="202.87" r="1.3" fill="#30f818"/>
<circle cx="32.08" cy="216.01" r="1.3" fill="#30f818"/>
<circle cx="64.93" cy="211.28" r="1.3" fill="#30f818"/>
<circle cx="75.96" cy="231.51" r="1.3" fill="#30f818"/>
<circle cx="68.34" cy="244.91" r="1.3" fill="#30f818"/>
<circle cx="75.96" cy="247.54" r="1.3" fill="#30f818"/>
<circle cx="76.49" cy="246.49" r="1.3" fill="#30f818"/>
<circle cx="49.69" cy="256.47" r="1.3" fill="#30f818"/>
<circle cx="114.85" cy="224.42" r="1.3" fill="#30f818"/>
<circle cx="31.03" cy="273.82" r="1.3" fill="#30f818"/>
<circle cx="43.12" cy="272.24" r="1.3" fill="#30f818"/>
<circle cx="42.85" cy="275.92" r="1.3" fill="#30f818"/>
<circle cx="43.90" cy="278.28" r="1.3" fill="#30f818"/>
<circle cx="94.62" cy="272.50" r="1.3" fill="#30f818"/>
<circle cx="70.18" cy="291.42" r="1.3" fill="#30f818"/>
<circle cx="66.50" cy="302.72" r="1.3" fill="#30f818"/>
<circle cx="79.64" cy="301.41" r="1.3" fill="#30f818"/>
<circle cx="164.25" cy="291.95" r="1.3" fill="#30f818"/>
<circle cx="162.94" cy="302.72" r="1.3" fill="#30f818"/>
<circle cx="150.59" cy="310.08" r="1.3" fill="#30f818"/>
<circle cx="145.33" cy="197.35" r="1.3" fill="#f81818"/>
<circle cx="128.52" cy="219.16" r="1.3" fill="#f81818"/>
<circle cx="132.20" cy="222.58" r="1.3" fill="#f81818"/>
<circle cx="103.03" cy="228.09" r="1.3" fill="#f81818"/>
<circle cx="156.90" cy="234.14" r="1.3" fill="#f81818"/>
<circle cx="128.25" cy="237.82" r="1.3" fill="#f81818"/>
<circle cx="80.17" cy="241.76" r="1.3" fill="#f81818"/>
<circle cx="77.01" cy="245.96" r="1.3" fill="#f81818"/>
<circle cx="94.62" cy="244.65" r="1.3" fill="#f81818"/>
<circle cx="79.12" cy="253.32" r="1.3" fill="#f81818"/>
<circle cx="125.10" cy="248.06" r="1.3" fill="#f81818"/>
<circle cx="124.05" cy="251.74" r="1.3" fill="#f81818"/>
<circle cx="119.32" cy="250.96" r="1.3" fill="#f81818"/>
<circle cx="134.82" cy="248.59" r="1.3" fill="#f81818"/>
<circle cx="179.49" cy="249.38" r="1.3" fill="#f81818"/>
<circle cx="85.95" cy="256.21" r="1.3" fill="#f81818"/>
<circle cx="87.52" cy="255.95" r="1.3" fill="#f81818"/>
<circle cx="89.63" cy="257.26" r="1.3" fill="#f81818"/>
<circle cx="93.04" cy="263.83" r="1.3" fill="#f81818"/>
<circle cx="94.88" cy="264.62" r="1.3" fill="#f81818"/>
<circle cx="90.68" cy="265.93" r="1.3" fill="#f81818"/>
<circle cx="98.56" cy="266.98" r="1.3" fill="#f81818"/>
<circle cx="93.04" cy="269.61" r="1.3" fill="#f81818"/>
<circle cx="126.41" cy="266.46" r="1.3" fill="#f81818"/>
<circle cx="133.51" cy="263.31" r="1.3" fill="#f81818"/>
<circle cx="168.20" cy="271.19" r="1.3" fill="#f81818"/>
<circle cx="151.12" cy="275.66" r="1.3" fill="#f81818"/>
<circle cx="174.24" cy="284.59" r="1.3" fill="#f81818"/>
<circle cx="73.86" cy="282.23" r="1.3" fill="#f81818"/>
<circle cx="75.70" cy="286.69" r="1.3" fill="#f81818"/>
<circle cx="82.01" cy="283.54" r="1.3" fill="#f81818"/>
<circle cx="91.99" cy="281.70" r="1.3" fill="#f81818"/>
<circle cx="125.10" cy="290.37" r="1.3" fill="#f81818"/>
<circle cx="132.98" cy="293.52" r="1.3" fill="#f81818"/>
<circle cx="96.98" cy="295.63" r="1.3" fill="#f81818"/>
<circle cx="83.85" cy="299.57" r="1.3" fill="#f81818"/>
<circle cx="89.10" cy="300.62" r="1.3" fill="#f81818"/>
<circle cx="87.79" cy="304.82" r="1.3" fill="#f81818"/>
<circle cx="126.68" cy="304.82" r="1.3" fill="#f81818"/>
<circle cx="83.32" cy="316.39" r="1.3" fill="#f81818"/>
<circle cx="70.44" cy="331.36" r="1.3" fill="#f81818"/>
<path d="M31.30,233.20 C32.70,234.27 37.33,237.57 39.70,239.60 C42.07,241.63 43.55,243.75 45.50,245.40 C47.45,247.05 49.45,248.23 51.40,249.50 C53.35,250.77 55.27,251.98 57.20,253.00 C59.13,254.02 61.05,254.97 63.00,255.60 C64.95,256.23 66.95,256.55 68.90,256.80 C70.85,257.05 72.75,257.30 74.70,257.10 C76.65,256.90 78.65,256.28 80.60,255.60 C82.55,254.92 84.47,253.82 86.40,253.00 C88.33,252.18 90.25,251.28 92.20,250.70 C94.15,250.12 95.97,249.75 98.10,249.50 C100.23,249.25 102.78,249.03 105.00,249.20 C107.22,249.37 109.27,249.87 111.40,250.50 C113.53,251.13 115.67,252.05 117.80,253.00 C119.93,253.95 122.07,255.02 124.20,256.20 C126.33,257.38 128.47,258.70 130.60,260.10 C132.73,261.50 134.87,263.00 137.00,264.60 C139.13,266.20 141.27,268.00 143.40,269.70 C145.53,271.40 147.67,272.88 149.80,274.80 C151.93,276.72 153.97,278.85 156.20,281.20 C158.43,283.55 162.03,287.62 163.20,288.90 L163.20,317.00 C162.03,315.30 158.43,309.78 156.20,306.80 C153.97,303.82 151.93,301.67 149.80,299.10 C147.67,296.53 145.53,293.75 143.40,291.40 C141.27,289.05 139.13,287.02 137.00,285.00 C134.87,282.98 132.73,281.10 130.60,279.30 C128.47,277.50 126.33,275.70 124.20,274.20 C122.07,272.70 119.93,271.27 117.80,270.30 C115.67,269.33 113.53,269.03 111.40,268.40 C109.27,267.77 107.22,267.02 105.00,266.50 C102.78,265.98 100.23,265.22 98.10,265.30 C95.97,265.38 94.15,266.32 92.20,267.00 C90.25,267.68 88.33,268.72 86.40,269.40 C84.47,270.08 82.55,270.75 80.60,271.10 C78.65,271.45 76.65,271.55 74.70,271.50 C72.75,271.45 70.85,271.20 68.90,270.80 C66.95,270.40 64.95,269.82 63.00,269.10 C61.05,268.38 59.13,267.52 57.20,266.50 C55.27,265.48 53.35,264.17 51.40,263.00 C49.45,261.83 47.45,260.58 45.50,259.50 C43.55,258.42 42.07,257.42 39.70,256.50 C37.33,255.58 32.70,254.42 31.30,254.00 Z" fill="#999" fill-opacity="0.38"/>
<path d="M70.60,281.10 C71.28,280.52 73.03,278.97 74.70,277.60 C76.37,276.23 78.65,274.37 80.60,272.90 C82.55,271.43 84.47,270.07 86.40,268.80 C88.33,267.53 90.25,266.47 92.20,265.30 C94.15,264.13 95.97,262.88 98.10,261.80 C100.23,260.72 102.78,259.62 105.00,258.80 C107.22,257.98 109.27,257.53 111.40,256.90 C113.53,256.27 115.67,255.82 117.80,255.00 C119.93,254.18 122.07,252.87 124.20,252.00 C126.33,251.13 128.03,250.37 130.60,249.80 C133.17,249.23 136.40,248.75 139.60,248.60 C142.80,248.45 145.97,248.58 149.80,248.90 C153.63,249.22 158.97,249.98 162.60,250.50 C166.23,251.02 168.83,251.47 171.60,252.00 C174.37,252.53 177.93,253.42 179.20,253.70 L179.20,276.10 C177.93,274.92 174.37,271.13 171.60,269.00 C168.83,266.87 166.23,265.10 162.60,263.30 C158.97,261.50 153.63,259.27 149.80,258.20 C145.97,257.13 142.80,257.02 139.60,256.90 C136.40,256.78 133.17,256.98 130.60,257.50 C128.03,258.02 126.33,259.08 124.20,260.00 C122.07,260.92 119.93,262.17 117.80,263.00 C115.67,263.83 113.53,264.32 111.40,265.00 C109.27,265.68 107.22,266.18 105.00,267.10 C102.78,268.02 100.23,269.25 98.10,270.50 C95.97,271.75 94.15,273.13 92.20,274.60 C90.25,276.07 88.33,277.63 86.40,279.30 C84.47,280.97 82.55,282.75 80.60,284.60 C78.65,286.45 76.37,288.42 74.70,290.40 C73.03,292.38 71.28,295.48 70.60,296.50 Z" fill="#999" fill-opacity="0.38"/>
<path d="M31.30,243.50 C32.70,244.40 37.33,247.22 39.70,248.90 C42.07,250.58 43.55,252.13 45.50,253.60 C47.45,255.07 49.45,256.53 51.40,257.70 C53.35,258.87 55.27,259.72 57.20,260.60 C59.13,261.48 61.05,262.42 63.00,263.00 C64.95,263.58 66.95,263.85 68.90,264.10 C70.85,264.35 72.75,264.60 74.70,264.50 C76.65,264.40 78.65,264.05 80.60,263.50 C82.55,262.95 84.47,261.97 86.40,261.20 C88.33,260.43 90.25,259.42 92.20,258.90 C94.15,258.38 95.97,258.27 98.10,258.10 C100.23,257.93 102.78,257.72 105.00,257.90 C107.22,258.08 109.27,258.68 111.40,259.20 C113.53,259.72 115.67,260.22 117.80,261.00 C119.93,261.78 122.07,262.77 124.20,263.90 C126.33,265.03 128.47,266.30 130.60,267.80 C132.73,269.30 134.87,271.10 137.00,272.90 C139.13,274.70 141.27,276.47 143.40,278.60 C145.53,280.73 147.67,283.13 149.80,285.70 C151.93,288.27 153.97,291.12 156.20,294.00 C158.43,296.88 162.03,301.50 163.20,303.00" fill="none" stroke="#30f818" stroke-width="1.1"/>
<path d="M70.60,289.80 C71.28,288.83 73.03,285.85 74.70,284.00 C76.37,282.15 78.65,280.35 80.60,278.70 C82.55,277.05 84.47,275.55 86.40,274.10 C88.33,272.65 90.25,271.27 92.20,270.00 C94.15,268.73 95.97,267.58 98.10,266.50 C100.23,265.42 102.78,264.35 105.00,263.50 C107.22,262.65 109.27,262.18 111.40,261.40 C113.53,260.62 115.67,259.67 117.80,258.80 C119.93,257.93 122.07,257.05 124.20,256.20 C126.33,255.35 128.03,254.27 130.60,253.70 C133.17,253.13 136.40,252.87 139.60,252.80 C142.80,252.73 145.97,252.73 149.80,253.30 C153.63,253.87 158.97,254.97 162.60,256.20 C166.23,257.43 168.83,259.20 171.60,260.70 C174.37,262.20 177.93,264.45 179.20,265.20" fill="none" stroke="#f81818" stroke-width="1.1"/>
</g>
<rect x="24.0" y="190.6" width="162.90" height="147.80" fill="none" stroke="#d2d2d2" stroke-width="0.7"/>
<line x1="28.10" y1="338.4" x2="28.10" y2="339.60" stroke="#c4c4c4" stroke-width="0.5"/>
<text x="0" y="0" transform="translate(28.10 343.60) scale(1 1.35)" font-family="Liberation Sans" font-size="4.15" fill="#5a5a5a" stroke="#5a5a5a" stroke-width="0.08" text-anchor="middle" xml:space="preserve">5.0</text>
<line x1="63.90" y1="338.4" x2="63.90" y2="339.60" stroke="#c4c4c4" stroke-width="0.5"/>
<text x="0" y="0" transform="translate(63.90 343.60) scale(1 1.35)" font-family="Liberation Sans" font-size="4.15" fill="#5a5a5a" stroke="#5a5a5a" stroke-width="0.08" text-anchor="middle" xml:space="preserve">7.5</text>
<line x1="98.60" y1="338.4" x2="98.60" y2="339.60" stroke="#c4c4c4" stroke-width="0.5"/>
<text x="0" y="0" transform="translate(98.60 343.60) scale(1 1.35)" font-family="Liberation Sans" font-size="4.15" fill="#5a5a5a" stroke="#5a5a5a" stroke-width="0.08" text-anchor="middle" xml:space="preserve">10.0</text>
<line x1="133.80" y1="338.4" x2="133.80" y2="339.60" stroke="#c4c4c4" stroke-width="0.5"/>
<text x="0" y="0" transform="translate(133.80 343.60) scale(1 1.35)" font-family="Liberation Sans" font-size="4.15" fill="#5a5a5a" stroke="#5a5a5a" stroke-width="0.08" text-anchor="middle" xml:space="preserve">12.5</text>
<line x1="168.70" y1="338.4" x2="168.70" y2="339.60" stroke="#c4c4c4" stroke-width="0.5"/>
<text x="0" y="0" transform="translate(168.70 343.60) scale(1 1.35)" font-family="Liberation Sans" font-size="4.15" fill="#5a5a5a" stroke="#5a5a5a" stroke-width="0.08" text-anchor="middle" xml:space="preserve">15.0</text>
<line x1="22.80" y1="202.10" x2="24.0" y2="202.10" stroke="#c4c4c4" stroke-width="0.5"/>
<text x="0" y="0" transform="translate(22.30 203.65) scale(1 1.35)" font-family="Liberation Sans" font-size="4.15" fill="#5a5a5a" stroke="#5a5a5a" stroke-width="0.08" text-anchor="end" xml:space="preserve">6000</text>
<line x1="22.80" y1="242.30" x2="24.0" y2="242.30" stroke="#c4c4c4" stroke-width="0.5"/>
<text x="0" y="0" transform="translate(22.30 243.85) scale(1 1.35)" font-family="Liberation Sans" font-size="4.15" fill="#5a5a5a" stroke="#5a5a5a" stroke-width="0.08" text-anchor="end" xml:space="preserve">5000</text>
<line x1="22.80" y1="283.00" x2="24.0" y2="283.00" stroke="#c4c4c4" stroke-width="0.5"/>
<text x="0" y="0" transform="translate(22.30 284.55) scale(1 1.35)" font-family="Liberation Sans" font-size="4.15" fill="#5a5a5a" stroke="#5a5a5a" stroke-width="0.08" text-anchor="end" xml:space="preserve">4000</text>
<line x1="22.80" y1="323.50" x2="24.0" y2="323.50" stroke="#c4c4c4" stroke-width="0.5"/>
<text x="0" y="0" transform="translate(22.30 325.05) scale(1 1.35)" font-family="Liberation Sans" font-size="4.15" fill="#5a5a5a" stroke="#5a5a5a" stroke-width="0.08" text-anchor="end" xml:space="preserve">3000</text>
<text x="21.35" y="183.00" font-family="Liberation Sans" font-size="5.5" fill="#111" stroke="#111" stroke-width="0.2" font-weight="bold" textLength="168.80" lengthAdjust="spacingAndGlyphs" xml:space="preserve">Correlation between Occipital Lobe Volume and Serum IgM Level</text>
<text x="0" y="0" transform="translate(105.65 188.35) scale(1 1.15)" font-family="Liberation Sans" font-size="3.66" fill="#333" stroke="#333" stroke-width="0.08" text-anchor="middle" xml:space="preserve">PC Group (n=43) vs. NC Control (n=20)</text>
<text x="0" y="0" transform="translate(105.80 349.60) scale(1 1.12)" font-family="Liberation Sans" font-size="6.1" fill="#111" stroke="#111" stroke-width="0.25" font-weight="bold" text-anchor="middle" textLength="69.30" lengthAdjust="spacingAndGlyphs" xml:space="preserve">Serum IgM Level(ug/ml)</text>
<text x="0" y="0" transform="translate(10.97 264.90) rotate(-90) scale(1 1.12)" font-family="Liberation Sans" font-size="6.1" fill="#111" stroke="#111" stroke-width="0.18" font-weight="bold" text-anchor="middle" xml:space="preserve">Occipital Lobe Volume(mm3)</text>
<text x="0" y="0" transform="translate(192.30 260.75) scale(1 1.1)" font-family="Liberation Sans" font-size="5.95" fill="#111" stroke="#111" stroke-width="0.2" font-weight="bold" xml:space="preserve">Group</text>
<rect x="191.70" y="263.15" width="5.5" height="10.0" fill="#e4e4e4"/>
<line x1="192.00" y1="266.05" x2="196.90" y2="266.05" stroke="#30f818" stroke-width="0.9"/>
<circle cx="194.45" cy="266.05" r="1.2" fill="#30f818"/>
<text x="0" y="0" transform="translate(199.00 268.15) scale(1 1.12)" font-family="Liberation Sans" font-size="4.8" fill="#333" stroke="#333" stroke-width="0.08" xml:space="preserve">NC group</text>
<line x1="192.00" y1="271.15" x2="196.90" y2="271.15" stroke="#f81818" stroke-width="0.9"/>
<circle cx="194.45" cy="271.15" r="1.2" fill="#f81818"/>
<text x="0" y="0" transform="translate(199.00 273.25) scale(1 1.12)" font-family="Liberation Sans" font-size="4.8" fill="#333" stroke="#333" stroke-width="0.08" xml:space="preserve">PC group</text>
<text x="9.30" y="196.10" font-family="Liberation Serif" font-size="15" fill="#000" font-weight="bold" xml:space="preserve">d</text>
<clipPath id="clipe"><rect x="252.4" y="188.5" width="164.10" height="146.90"/></clipPath>
<line x1="274.65" y1="188.5" x2="274.65" y2="335.4" stroke="#f5f5f5" stroke-width="0.4"/><line x1="309.50" y1="188.5" x2="309.50" y2="335.4" stroke="#f5f5f5" stroke-width="0.4"/><line x1="344.60" y1="188.5" x2="344.60" y2="335.4" stroke="#f5f5f5" stroke-width="0.4"/><line x1="379.65" y1="188.5" x2="379.65" y2="335.4" stroke="#f5f5f5" stroke-width="0.4"/><line x1="414.58" y1="188.5" x2="414.58" y2="335.4" stroke="#f5f5f5" stroke-width="0.4"/><line x1="252.4" y1="210.75" x2="416.5" y2="210.75" stroke="#f5f5f5" stroke-width="0.4"/><line x1="252.4" y1="246.50" x2="416.5" y2="246.50" stroke="#f5f5f5" stroke-width="0.4"/><line x1="252.4" y1="282.25" x2="416.5" y2="282.25" stroke="#f5f5f5" stroke-width="0.4"/><line x1="252.4" y1="317.97" x2="416.5" y2="317.97" stroke="#f5f5f5" stroke-width="0.4"/><line x1="257.30" y1="188.5" x2="257.30" y2="335.4" stroke="#efefef" stroke-width="0.45"/><line x1="292.00" y1="188.5" x2="292.00" y2="335.4" stroke="#efefef" stroke-width="0.45"/><line x1="327.00" y1="188.5" x2="327.00" y2="335.4" stroke="#efefef" stroke-width="0.45"/><line x1="362.20" y1="188.5" x2="362.20" y2="335.4" stroke="#efefef" stroke-width="0.45"/><line x1="397.10" y1="188.5" x2="397.10" y2="335.4" stroke="#efefef" stroke-width="0.45"/><line x1="252.4" y1="192.90" x2="416.5" y2="192.90" stroke="#efefef" stroke-width="0.45"/><line x1="252.4" y1="228.60" x2="416.5" y2="228.60" stroke="#efefef" stroke-width="0.45"/><line x1="252.4" y1="264.40" x2="416.5" y2="264.40" stroke="#efefef" stroke-width="0.45"/><line x1="252.4" y1="300.10" x2="416.5" y2="300.10" stroke="#efefef" stroke-width="0.45"/>
<g clip-path="url(#clipe)">
<rect x="347.5" y="189.0" width="66.94" height="15.20" fill="#fff" stroke="#c8c8c8" stroke-width="0.5"/>
<text x="349.10" y="195.50" font-family="Liberation Serif" font-size="5.6" fill="#000" stroke="#000" stroke-width="0.25" font-weight="bold" xml:space="preserve">NC Group:R=-0.1  P=0.66</text>
<text x="349.10" y="202.20" font-family="Liberation Serif" font-size="5.6" fill="#000" stroke="#000" stroke-width="0.25" font-weight="bold" xml:space="preserve">PC Group:R=0.14  P=0.37</text>
<circle cx="296.76" cy="194.99" r="1.3" fill="#30f818"/>
<circle cx="261.02" cy="245.17" r="1.3" fill="#30f818"/>
<circle cx="260.23" cy="265.93" r="1.3" fill="#30f818"/>
<circle cx="278.63" cy="267.25" r="1.3" fill="#30f818"/>
<circle cx="304.64" cy="263.04" r="1.3" fill="#30f818"/>
<circle cx="304.64" cy="266.98" r="1.3" fill="#30f818"/>
<circle cx="344.58" cy="257.00" r="1.3" fill="#30f818"/>
<circle cx="323.56" cy="268.04" r="1.3" fill="#30f818"/>
<circle cx="259.45" cy="294.58" r="1.3" fill="#30f818"/>
<circle cx="271.53" cy="292.21" r="1.3" fill="#30f818"/>
<circle cx="271.53" cy="296.94" r="1.3" fill="#30f818"/>
<circle cx="272.06" cy="302.72" r="1.3" fill="#30f818"/>
<circle cx="294.13" cy="290.11" r="1.3" fill="#30f818"/>
<circle cx="299.12" cy="288.27" r="1.3" fill="#30f818"/>
<circle cx="294.92" cy="300.09" r="1.3" fill="#30f818"/>
<circle cx="344.06" cy="289.58" r="1.3" fill="#30f818"/>
<circle cx="391.88" cy="269.35" r="1.3" fill="#30f818"/>
<circle cx="393.72" cy="278.28" r="1.3" fill="#30f818"/>
<circle cx="308.32" cy="323.22" r="1.3" fill="#30f818"/>
<circle cx="379.79" cy="329.00" r="1.3" fill="#30f818"/>
<circle cx="374.54" cy="244.39" r="1.3" fill="#f81818"/>
<circle cx="380.58" cy="248.06" r="1.3" fill="#f81818"/>
<circle cx="314.89" cy="247.54" r="1.3" fill="#f81818"/>
<circle cx="305.69" cy="252.79" r="1.3" fill="#f81818"/>
<circle cx="308.32" cy="254.11" r="1.3" fill="#f81818"/>
<circle cx="309.11" cy="257.00" r="1.3" fill="#f81818"/>
<circle cx="327.50" cy="259.89" r="1.3" fill="#f81818"/>
<circle cx="323.56" cy="263.31" r="1.3" fill="#f81818"/>
<circle cx="320.67" cy="268.04" r="1.3" fill="#f81818"/>
<circle cx="327.50" cy="272.50" r="1.3" fill="#f81818"/>
<circle cx="357.20" cy="260.94" r="1.3" fill="#f81818"/>
<circle cx="355.62" cy="264.36" r="1.3" fill="#f81818"/>
<circle cx="362.19" cy="266.72" r="1.3" fill="#f81818"/>
<circle cx="357.20" cy="269.87" r="1.3" fill="#f81818"/>
<circle cx="386.36" cy="264.62" r="1.3" fill="#f81818"/>
<circle cx="397.14" cy="265.15" r="1.3" fill="#f81818"/>
<circle cx="310.95" cy="275.39" r="1.3" fill="#f81818"/>
<circle cx="325.66" cy="280.65" r="1.3" fill="#f81818"/>
<circle cx="352.99" cy="277.23" r="1.3" fill="#f81818"/>
<circle cx="348.52" cy="282.23" r="1.3" fill="#f81818"/>
<circle cx="360.87" cy="282.23" r="1.3" fill="#f81818"/>
<circle cx="363.50" cy="285.64" r="1.3" fill="#f81818"/>
<circle cx="362.19" cy="289.06" r="1.3" fill="#f81818"/>
<circle cx="312.26" cy="285.12" r="1.3" fill="#f81818"/>
<circle cx="318.04" cy="287.74" r="1.3" fill="#f81818"/>
<circle cx="302.54" cy="288.27" r="1.3" fill="#f81818"/>
<circle cx="299.39" cy="289.85" r="1.3" fill="#f81818"/>
<circle cx="353.52" cy="293.52" r="1.3" fill="#f81818"/>
<circle cx="319.36" cy="295.10" r="1.3" fill="#f81818"/>
<circle cx="316.47" cy="299.04" r="1.3" fill="#f81818"/>
<circle cx="321.98" cy="299.04" r="1.3" fill="#f81818"/>
<circle cx="318.04" cy="303.77" r="1.3" fill="#f81818"/>
<circle cx="331.71" cy="304.30" r="1.3" fill="#f81818"/>
<circle cx="320.67" cy="307.71" r="1.3" fill="#f81818"/>
<circle cx="316.99" cy="310.08" r="1.3" fill="#f81818"/>
<circle cx="323.56" cy="311.13" r="1.3" fill="#f81818"/>
<circle cx="304.38" cy="314.81" r="1.3" fill="#f81818"/>
<circle cx="312.52" cy="314.81" r="1.3" fill="#f81818"/>
<circle cx="321.46" cy="317.17" r="1.3" fill="#f81818"/>
<circle cx="355.09" cy="314.81" r="1.3" fill="#f81818"/>
<circle cx="403.71" cy="318.75" r="1.3" fill="#f81818"/>
<circle cx="408.96" cy="292.21" r="1.3" fill="#f81818"/>
<path d="M259.70,269.00 C260.87,269.40 263.58,270.82 266.70,271.40 C269.82,271.98 274.52,272.55 278.40,272.50 C282.28,272.45 286.12,271.58 290.00,271.10 C293.88,270.62 297.80,270.18 301.70,269.60 C305.60,269.02 310.08,268.28 313.40,267.60 C316.72,266.92 318.83,265.83 321.60,265.50 C324.37,265.17 326.53,265.18 330.00,265.60 C333.47,266.02 338.27,266.97 342.40,268.00 C346.53,269.03 350.67,270.77 354.80,271.80 C358.93,272.83 363.07,273.68 367.20,274.20 C371.33,274.72 375.25,274.90 379.60,274.90 C383.95,274.90 391.02,274.32 393.30,274.20 L393.30,300.90 C391.02,300.38 383.95,298.83 379.60,297.80 C375.25,296.77 371.33,295.83 367.20,294.70 C363.07,293.57 358.93,292.35 354.80,291.00 C350.67,289.65 346.53,288.00 342.40,286.60 C338.27,285.20 333.47,283.58 330.00,282.60 C326.53,281.62 324.37,280.92 321.60,280.70 C318.83,280.48 316.72,281.02 313.40,281.30 C310.08,281.58 305.60,282.22 301.70,282.40 C297.80,282.58 293.88,282.25 290.00,282.40 C286.12,282.55 282.28,282.77 278.40,283.30 C274.52,283.83 269.82,284.57 266.70,285.60 C263.58,286.63 260.87,288.85 259.70,289.50 Z" fill="#999" fill-opacity="0.38"/>
<path d="M299.10,272.30 C300.12,273.22 303.20,276.30 305.20,277.80 C307.20,279.30 309.15,280.43 311.10,281.30 C313.05,282.17 314.97,282.55 316.90,283.00 C318.83,283.45 320.75,283.75 322.70,284.00 C324.65,284.25 326.55,284.42 328.60,284.50 C330.65,284.58 332.70,284.70 335.00,284.50 C337.30,284.30 340.13,284.05 342.40,283.30 C344.67,282.55 346.53,281.10 348.60,280.00 C350.67,278.90 352.73,277.73 354.80,276.70 C356.87,275.67 358.93,274.62 361.00,273.80 C363.07,272.98 365.13,272.28 367.20,271.80 C369.27,271.32 371.33,270.97 373.40,270.90 C375.47,270.83 377.53,271.18 379.60,271.40 C381.67,271.62 383.73,271.83 385.80,272.20 C387.87,272.57 389.93,272.97 392.00,273.60 C394.07,274.23 396.12,275.07 398.20,276.00 C400.28,276.93 402.70,278.25 404.50,279.20 C406.30,280.15 408.25,281.28 409.00,281.70 L409.00,299.70 C408.25,298.77 406.30,295.88 404.50,294.10 C402.70,292.32 400.28,290.65 398.20,289.00 C396.12,287.35 394.07,285.48 392.00,284.20 C389.93,282.92 387.87,282.13 385.80,281.30 C383.73,280.47 381.67,279.70 379.60,279.20 C377.53,278.70 375.47,278.30 373.40,278.30 C371.33,278.30 369.27,278.83 367.20,279.20 C365.13,279.57 363.07,279.88 361.00,280.50 C358.93,281.12 356.87,281.90 354.80,282.90 C352.73,283.90 350.67,285.37 348.60,286.50 C346.53,287.63 344.67,288.95 342.40,289.70 C340.13,290.45 337.30,290.65 335.00,291.00 C332.70,291.35 330.65,291.73 328.60,291.80 C326.55,291.87 324.65,291.60 322.70,291.40 C320.75,291.20 318.83,291.02 316.90,290.60 C314.97,290.18 313.05,289.62 311.10,288.90 C309.15,288.18 307.20,287.28 305.20,286.30 C303.20,285.32 300.12,283.55 299.10,283.00 Z" fill="#999" fill-opacity="0.38"/>
<path d="M259.70,279.30 C260.87,279.15 263.58,278.72 266.70,278.40 C269.82,278.08 274.52,277.73 278.40,277.40 C282.28,277.07 286.12,276.73 290.00,276.40 C293.88,276.07 297.80,275.82 301.70,275.40 C305.60,274.98 310.08,274.38 313.40,273.90 C316.72,273.42 318.83,272.50 321.60,272.50 C324.37,272.50 326.53,273.20 330.00,273.90 C333.47,274.60 338.27,275.55 342.40,276.70 C346.53,277.85 350.67,279.55 354.80,280.80 C358.93,282.05 363.07,283.23 367.20,284.20 C371.33,285.17 375.25,286.05 379.60,286.60 C383.95,287.15 391.02,287.35 393.30,287.50" fill="none" stroke="#30f818" stroke-width="1.1"/>
<path d="M299.10,278.40 C300.12,279.02 303.20,280.98 305.20,282.10 C307.20,283.22 309.15,284.20 311.10,285.10 C313.05,286.00 314.97,286.87 316.90,287.50 C318.83,288.13 320.75,288.65 322.70,288.90 C324.65,289.15 326.55,289.15 328.60,289.00 C330.65,288.85 332.70,288.50 335.00,288.00 C337.30,287.50 340.13,286.78 342.40,286.00 C344.67,285.22 346.53,284.33 348.60,283.30 C350.67,282.27 352.73,280.90 354.80,279.80 C356.87,278.70 358.93,277.48 361.00,276.70 C363.07,275.92 365.13,275.47 367.20,275.10 C369.27,274.73 371.33,274.50 373.40,274.50 C375.47,274.50 377.53,274.73 379.60,275.10 C381.67,275.47 383.73,276.02 385.80,276.70 C387.87,277.38 389.93,278.17 392.00,279.20 C394.07,280.23 396.12,281.45 398.20,282.90 C400.28,284.35 402.70,286.35 404.50,287.90 C406.30,289.45 408.25,291.48 409.00,292.20" fill="none" stroke="#f81818" stroke-width="1.1"/>
</g>
<rect x="252.4" y="188.5" width="164.10" height="146.90" fill="none" stroke="#d2d2d2" stroke-width="0.7"/>
<line x1="257.30" y1="335.4" x2="257.30" y2="336.60" stroke="#c4c4c4" stroke-width="0.5"/>
<text x="0" y="0" transform="translate(257.30 340.60) scale(1 1.35)" font-family="Liberation Sans" font-size="4.15" fill="#5a5a5a" stroke="#5a5a5a" stroke-width="0.08" text-anchor="middle" xml:space="preserve">5.0</text>
<line x1="292.00" y1="335.4" x2="292.00" y2="336.60" stroke="#c4c4c4" stroke-width="0.5"/>
<text x="0" y="0" transform="translate(292.00 340.60) scale(1 1.35)" font-family="Liberation Sans" font-size="4.15" fill="#5a5a5a" stroke="#5a5a5a" stroke-width="0.08" text-anchor="middle" xml:space="preserve">7.5</text>
<line x1="327.00" y1="335.4" x2="327.00" y2="336.60" stroke="#c4c4c4" stroke-width="0.5"/>
<text x="0" y="0" transform="translate(327.00 340.60) scale(1 1.35)" font-family="Liberation Sans" font-size="4.15" fill="#5a5a5a" stroke="#5a5a5a" stroke-width="0.08" text-anchor="middle" xml:space="preserve">10.0</text>
<line x1="362.20" y1="335.4" x2="362.20" y2="336.60" stroke="#c4c4c4" stroke-width="0.5"/>
<text x="0" y="0" transform="translate(362.20 340.60) scale(1 1.35)" font-family="Liberation Sans" font-size="4.15" fill="#5a5a5a" stroke="#5a5a5a" stroke-width="0.08" text-anchor="middle" xml:space="preserve">12.5</text>
<line x1="397.10" y1="335.4" x2="397.10" y2="336.60" stroke="#c4c4c4" stroke-width="0.5"/>
<text x="0" y="0" transform="translate(397.10 340.60) scale(1 1.35)" font-family="Liberation Sans" font-size="4.15" fill="#5a5a5a" stroke="#5a5a5a" stroke-width="0.08" text-anchor="middle" xml:space="preserve">15.0</text>
<line x1="251.20" y1="192.90" x2="252.4" y2="192.90" stroke="#c4c4c4" stroke-width="0.5"/>
<text x="0" y="0" transform="translate(250.70 194.45) scale(1 1.35)" font-family="Liberation Sans" font-size="4.15" fill="#5a5a5a" stroke="#5a5a5a" stroke-width="0.08" text-anchor="end" xml:space="preserve">18000</text>
<line x1="251.20" y1="228.60" x2="252.4" y2="228.60" stroke="#c4c4c4" stroke-width="0.5"/>
<text x="0" y="0" transform="translate(250.70 230.15) scale(1 1.35)" font-family="Liberation Sans" font-size="4.15" fill="#5a5a5a" stroke="#5a5a5a" stroke-width="0.08" text-anchor="end" xml:space="preserve">16000</text>
<line x1="251.20" y1="264.40" x2="252.4" y2="264.40" stroke="#c4c4c4" stroke-width="0.5"/>
<text x="0" y="0" transform="translate(250.70 265.95) scale(1 1.35)" font-family="Liberation Sans" font-size="4.15" fill="#5a5a5a" stroke="#5a5a5a" stroke-width="0.08" text-anchor="end" xml:space="preserve">14000</text>
<line x1="251.20" y1="300.10" x2="252.4" y2="300.10" stroke="#c4c4c4" stroke-width="0.5"/>
<text x="0" y="0" transform="translate(250.70 301.65) scale(1 1.35)" font-family="Liberation Sans" font-size="4.15" fill="#5a5a5a" stroke="#5a5a5a" stroke-width="0.08" text-anchor="end" xml:space="preserve">12000</text>
<text x="250.95" y="180.90" font-family="Liberation Sans" font-size="5.5" fill="#111" stroke="#111" stroke-width="0.2" font-weight="bold" textLength="166.50" lengthAdjust="spacingAndGlyphs" xml:space="preserve">Correlation between Insular Lobe Volume and Serum IgM Level</text>
<text x="0" y="0" transform="translate(334.10 186.25) scale(1 1.15)" font-family="Liberation Sans" font-size="3.66" fill="#333" stroke="#333" stroke-width="0.08" text-anchor="middle" xml:space="preserve">PC Group (n=43) vs. NC Control (n=20)</text>
<text x="0" y="0" transform="translate(334.75 346.60) scale(1 1.12)" font-family="Liberation Sans" font-size="6.1" fill="#111" stroke="#111" stroke-width="0.25" font-weight="bold" text-anchor="middle" textLength="70.60" lengthAdjust="spacingAndGlyphs" xml:space="preserve">Serum IgM Level(ug/ml)</text>
<text x="0" y="0" transform="translate(237.06 262.35) rotate(-90) scale(1 1.12)" font-family="Liberation Sans" font-size="6.1" fill="#111" stroke="#111" stroke-width="0.18" font-weight="bold" text-anchor="middle" xml:space="preserve">Insular Lobe Volume(mm3)</text>
<text x="0" y="0" transform="translate(421.90 258.20) scale(1 1.1)" font-family="Liberation Sans" font-size="5.95" fill="#111" stroke="#111" stroke-width="0.2" font-weight="bold" xml:space="preserve">Group</text>
<rect x="421.30" y="260.60" width="5.5" height="10.0" fill="#e4e4e4"/>
<line x1="421.60" y1="263.50" x2="426.50" y2="263.50" stroke="#30f818" stroke-width="0.9"/>
<circle cx="424.05" cy="263.50" r="1.2" fill="#30f818"/>
<text x="0" y="0" transform="translate(428.60 265.60) scale(1 1.12)" font-family="Liberation Sans" font-size="4.8" fill="#333" stroke="#333" stroke-width="0.08" xml:space="preserve">NC group</text>
<line x1="421.60" y1="268.60" x2="426.50" y2="268.60" stroke="#f81818" stroke-width="0.9"/>
<circle cx="424.05" cy="268.60" r="1.2" fill="#f81818"/>
<text x="0" y="0" transform="translate(428.60 270.70) scale(1 1.12)" font-family="Liberation Sans" font-size="4.8" fill="#333" stroke="#333" stroke-width="0.08" xml:space="preserve">PC group</text>
<text x="226.65" y="194.85" font-family="Liberation Serif" font-size="15" fill="#000" font-weight="bold" xml:space="preserve">e</text>
<clipPath id="clipf"><rect x="489.1" y="188.8" width="160.50" height="147.60"/></clipPath>
<line x1="510.60" y1="188.8" x2="510.60" y2="336.4" stroke="#f5f5f5" stroke-width="0.4"/><line x1="545.45" y1="188.8" x2="545.45" y2="336.4" stroke="#f5f5f5" stroke-width="0.4"/><line x1="580.15" y1="188.8" x2="580.15" y2="336.4" stroke="#f5f5f5" stroke-width="0.4"/><line x1="614.70" y1="188.8" x2="614.70" y2="336.4" stroke="#f5f5f5" stroke-width="0.4"/><line x1="649.25" y1="188.8" x2="649.25" y2="336.4" stroke="#f5f5f5" stroke-width="0.4"/><line x1="489.1" y1="213.65" x2="649.6" y2="213.65" stroke="#f5f5f5" stroke-width="0.4"/><line x1="489.1" y1="249.90" x2="649.6" y2="249.90" stroke="#f5f5f5" stroke-width="0.4"/><line x1="489.1" y1="286.15" x2="649.6" y2="286.15" stroke="#f5f5f5" stroke-width="0.4"/><line x1="489.1" y1="322.43" x2="649.6" y2="322.43" stroke="#f5f5f5" stroke-width="0.4"/><line x1="493.10" y1="188.8" x2="493.10" y2="336.4" stroke="#efefef" stroke-width="0.45"/><line x1="528.10" y1="188.8" x2="528.10" y2="336.4" stroke="#efefef" stroke-width="0.45"/><line x1="562.80" y1="188.8" x2="562.80" y2="336.4" stroke="#efefef" stroke-width="0.45"/><line x1="597.50" y1="188.8" x2="597.50" y2="336.4" stroke="#efefef" stroke-width="0.45"/><line x1="631.90" y1="188.8" x2="631.90" y2="336.4" stroke="#efefef" stroke-width="0.45"/><line x1="489.1" y1="195.50" x2="649.6" y2="195.50" stroke="#efefef" stroke-width="0.45"/><line x1="489.1" y1="231.80" x2="649.6" y2="231.80" stroke="#efefef" stroke-width="0.45"/><line x1="489.1" y1="268.00" x2="649.6" y2="268.00" stroke="#efefef" stroke-width="0.45"/><line x1="489.1" y1="304.30" x2="649.6" y2="304.30" stroke="#efefef" stroke-width="0.45"/>
<g clip-path="url(#clipf)">
<rect x="579.0" y="320.59999999999997" width="68.03" height="15.20" fill="#fff" stroke="#c8c8c8" stroke-width="0.5"/>
<text x="580.60" y="327.10" font-family="Liberation Serif" font-size="5.6" fill="#000" stroke="#000" stroke-width="0.25" font-weight="bold" xml:space="preserve">NC Group:R=-0.16 P=0.49</text>
<text x="580.60" y="333.80" font-family="Liberation Serif" font-size="5.6" fill="#000" stroke="#000" stroke-width="0.25" font-weight="bold" xml:space="preserve">PC Group:R=0.16  P=0.31</text>
<circle cx="497.87" cy="204.45" r="1.3" fill="#30f818"/>
<circle cx="497.08" cy="216.53" r="1.3" fill="#30f818"/>
<circle cx="529.66" cy="227.04" r="1.3" fill="#30f818"/>
<circle cx="534.66" cy="230.98" r="1.3" fill="#30f818"/>
<circle cx="540.44" cy="235.71" r="1.3" fill="#30f818"/>
<circle cx="558.83" cy="239.13" r="1.3" fill="#30f818"/>
<circle cx="579.33" cy="226.52" r="1.3" fill="#30f818"/>
<circle cx="495.77" cy="238.87" r="1.3" fill="#30f818"/>
<circle cx="530.98" cy="252.53" r="1.3" fill="#30f818"/>
<circle cx="508.38" cy="254.63" r="1.3" fill="#30f818"/>
<circle cx="507.85" cy="267.77" r="1.3" fill="#30f818"/>
<circle cx="532.55" cy="269.61" r="1.3" fill="#30f818"/>
<circle cx="543.85" cy="276.71" r="1.3" fill="#30f818"/>
<circle cx="540.17" cy="291.68" r="1.3" fill="#30f818"/>
<circle cx="507.85" cy="293.79" r="1.3" fill="#30f818"/>
<circle cx="514.69" cy="309.82" r="1.3" fill="#30f818"/>
<circle cx="578.80" cy="293.79" r="1.3" fill="#30f818"/>
<circle cx="614.01" cy="284.33" r="1.3" fill="#30f818"/>
<circle cx="625.84" cy="255.95" r="1.3" fill="#30f818"/>
<circle cx="627.15" cy="274.87" r="1.3" fill="#30f818"/>
<circle cx="549.90" cy="195.51" r="1.3" fill="#f81818"/>
<circle cx="555.94" cy="200.50" r="1.3" fill="#f81818"/>
<circle cx="620.58" cy="199.72" r="1.3" fill="#f81818"/>
<circle cx="596.93" cy="200.77" r="1.3" fill="#f81818"/>
<circle cx="556.99" cy="214.69" r="1.3" fill="#f81818"/>
<circle cx="560.93" cy="217.32" r="1.3" fill="#f81818"/>
<circle cx="587.47" cy="221.79" r="1.3" fill="#f81818"/>
<circle cx="608.49" cy="223.63" r="1.3" fill="#f81818"/>
<circle cx="562.77" cy="227.31" r="1.3" fill="#f81818"/>
<circle cx="592.47" cy="228.88" r="1.3" fill="#f81818"/>
<circle cx="590.36" cy="231.51" r="1.3" fill="#f81818"/>
<circle cx="562.77" cy="233.88" r="1.3" fill="#f81818"/>
<circle cx="596.67" cy="235.71" r="1.3" fill="#f81818"/>
<circle cx="595.36" cy="237.03" r="1.3" fill="#f81818"/>
<circle cx="538.34" cy="237.29" r="1.3" fill="#f81818"/>
<circle cx="553.58" cy="240.18" r="1.3" fill="#f81818"/>
<circle cx="554.89" cy="242.55" r="1.3" fill="#f81818"/>
<circle cx="566.98" cy="244.12" r="1.3" fill="#f81818"/>
<circle cx="588.26" cy="245.17" r="1.3" fill="#f81818"/>
<circle cx="544.38" cy="250.17" r="1.3" fill="#f81818"/>
<circle cx="582.48" cy="249.38" r="1.3" fill="#f81818"/>
<circle cx="548.06" cy="256.47" r="1.3" fill="#f81818"/>
<circle cx="540.96" cy="259.36" r="1.3" fill="#f81818"/>
<circle cx="614.54" cy="248.06" r="1.3" fill="#f81818"/>
<circle cx="630.83" cy="259.36" r="1.3" fill="#f81818"/>
<circle cx="591.41" cy="263.83" r="1.3" fill="#f81818"/>
<circle cx="543.33" cy="267.77" r="1.3" fill="#f81818"/>
<circle cx="548.32" cy="274.87" r="1.3" fill="#f81818"/>
<circle cx="558.83" cy="280.65" r="1.3" fill="#f81818"/>
<circle cx="556.99" cy="284.33" r="1.3" fill="#f81818"/>
<circle cx="554.10" cy="287.48" r="1.3" fill="#f81818"/>
<circle cx="551.74" cy="289.32" r="1.3" fill="#f81818"/>
<circle cx="534.66" cy="281.17" r="1.3" fill="#f81818"/>
<circle cx="556.20" cy="294.31" r="1.3" fill="#f81818"/>
<circle cx="558.31" cy="299.83" r="1.3" fill="#f81818"/>
<circle cx="546.48" cy="297.73" r="1.3" fill="#f81818"/>
<circle cx="540.17" cy="307.98" r="1.3" fill="#f81818"/>
<circle cx="598.51" cy="284.33" r="1.3" fill="#f81818"/>
<circle cx="589.84" cy="291.42" r="1.3" fill="#f81818"/>
<circle cx="588.52" cy="293.52" r="1.3" fill="#f81818"/>
<circle cx="637.14" cy="289.32" r="1.3" fill="#f81818"/>
<circle cx="642.39" cy="277.76" r="1.3" fill="#f81818"/>
<circle cx="552.00" cy="329.79" r="1.3" fill="#f81818"/>
<path d="M496.10,230.30 C497.03,231.37 499.80,234.67 501.70,236.70 C503.60,238.73 505.55,240.85 507.50,242.50 C509.45,244.15 511.45,245.47 513.40,246.60 C515.35,247.73 517.27,248.47 519.20,249.30 C521.13,250.13 523.05,250.98 525.00,251.60 C526.95,252.22 528.95,252.60 530.90,253.00 C532.85,253.40 534.75,254.03 536.70,254.00 C538.65,253.97 540.65,253.55 542.60,252.80 C544.55,252.05 546.47,250.53 548.40,249.50 C550.33,248.47 552.25,247.28 554.20,246.60 C556.15,245.92 558.30,245.40 560.10,245.40 C561.90,245.40 562.12,245.98 565.00,246.60 C567.88,247.22 573.27,248.20 577.40,249.10 C581.53,250.00 585.67,251.10 589.80,252.00 C593.93,252.90 598.07,253.73 602.20,254.50 C606.33,255.27 610.47,256.05 614.60,256.60 C618.73,257.15 624.93,257.60 627.00,257.80 L627.00,283.90 C624.93,282.97 618.73,279.97 614.60,278.30 C610.47,276.63 606.33,275.45 602.20,273.90 C598.07,272.35 593.93,270.55 589.80,269.00 C585.67,267.45 581.53,265.78 577.40,264.60 C573.27,263.42 567.88,262.32 565.00,261.90 C562.12,261.48 561.90,261.92 560.10,262.10 C558.30,262.28 556.15,262.67 554.20,263.00 C552.25,263.33 550.33,263.72 548.40,264.10 C546.47,264.48 544.55,265.10 542.60,265.30 C540.65,265.50 538.65,265.40 536.70,265.30 C534.75,265.20 532.85,265.00 530.90,264.70 C528.95,264.40 526.95,264.08 525.00,263.50 C523.05,262.92 521.13,262.07 519.20,261.20 C517.27,260.33 515.35,259.27 513.40,258.30 C511.45,257.33 509.45,256.38 507.50,255.40 C505.55,254.42 503.60,253.28 501.70,252.40 C499.80,251.52 497.03,250.48 496.10,250.10 Z" fill="#999" fill-opacity="0.38"/>
<path d="M535.30,263.50 C536.52,263.02 540.42,261.57 542.60,260.60 C544.78,259.63 546.47,258.67 548.40,257.70 C550.33,256.73 552.25,255.77 554.20,254.80 C556.15,253.83 558.30,252.78 560.10,251.90 C561.90,251.02 563.35,250.13 565.00,249.50 C566.65,248.87 567.93,248.78 570.00,248.10 C572.07,247.42 575.13,246.22 577.40,245.40 C579.67,244.58 581.53,243.92 583.60,243.20 C585.67,242.48 587.73,241.83 589.80,241.10 C591.87,240.37 593.93,239.28 596.00,238.80 C598.07,238.32 600.13,238.17 602.20,238.20 C604.27,238.23 606.33,238.52 608.40,239.00 C610.47,239.48 612.53,240.18 614.60,241.10 C616.67,242.02 618.73,243.27 620.80,244.50 C622.87,245.73 624.93,247.17 627.00,248.50 C629.07,249.83 630.60,250.85 633.20,252.50 C635.80,254.15 641.03,257.42 642.60,258.40 L642.60,286.30 C641.03,284.00 635.80,276.22 633.20,272.50 C630.60,268.78 629.07,266.45 627.00,264.00 C624.93,261.55 622.87,259.67 620.80,257.80 C618.73,255.93 616.67,254.10 614.60,252.80 C612.53,251.50 610.47,250.67 608.40,250.00 C606.33,249.33 604.27,248.98 602.20,248.80 C600.13,248.62 598.07,248.75 596.00,248.90 C593.93,249.05 591.87,249.15 589.80,249.70 C587.73,250.25 585.67,251.37 583.60,252.20 C581.53,253.03 579.67,253.68 577.40,254.70 C575.13,255.72 572.07,257.58 570.00,258.30 C567.93,259.02 566.65,258.42 565.00,259.00 C563.35,259.58 561.90,260.85 560.10,261.80 C558.30,262.75 556.15,263.53 554.20,264.70 C552.25,265.87 550.33,267.05 548.40,268.80 C546.47,270.55 544.78,272.77 542.60,275.20 C540.42,277.63 536.52,282.03 535.30,283.40 Z" fill="#999" fill-opacity="0.38"/>
<path d="M496.10,239.00 C497.03,239.88 499.80,242.65 501.70,244.30 C503.60,245.95 505.55,247.48 507.50,248.90 C509.45,250.32 511.45,251.68 513.40,252.80 C515.35,253.92 517.27,254.75 519.20,255.60 C521.13,256.45 523.05,257.25 525.00,257.90 C526.95,258.55 528.95,259.10 530.90,259.50 C532.85,259.90 534.75,260.25 536.70,260.30 C538.65,260.35 540.65,260.33 542.60,259.80 C544.55,259.27 546.47,258.03 548.40,257.10 C550.33,256.17 552.25,254.83 554.20,254.20 C556.15,253.57 558.30,253.32 560.10,253.30 C561.90,253.28 562.12,253.45 565.00,254.10 C567.88,254.75 573.27,256.07 577.40,257.20 C581.53,258.33 585.67,259.70 589.80,260.90 C593.93,262.10 598.07,263.27 602.20,264.40 C606.33,265.53 610.47,266.52 614.60,267.70 C618.73,268.88 624.93,270.87 627.00,271.50" fill="none" stroke="#30f818" stroke-width="1.1"/>
<path d="M535.30,273.80 C536.52,272.77 540.42,269.40 542.60,267.60 C544.78,265.80 546.47,264.35 548.40,263.00 C550.33,261.65 552.25,260.58 554.20,259.50 C556.15,258.42 558.30,257.33 560.10,256.50 C561.90,255.67 563.35,255.12 565.00,254.50 C566.65,253.88 567.93,253.48 570.00,252.80 C572.07,252.12 575.13,251.12 577.40,250.40 C579.67,249.68 581.53,249.33 583.60,248.50 C585.67,247.67 587.73,246.17 589.80,245.40 C591.87,244.63 593.93,244.17 596.00,243.90 C598.07,243.63 600.13,243.65 602.20,243.80 C604.27,243.95 606.33,244.22 608.40,244.80 C610.47,245.38 612.53,246.17 614.60,247.30 C616.67,248.43 618.73,250.05 620.80,251.60 C622.87,253.15 624.93,254.73 627.00,256.60 C629.07,258.47 630.60,260.12 633.20,262.80 C635.80,265.48 641.03,271.05 642.60,272.70" fill="none" stroke="#f81818" stroke-width="1.1"/>
</g>
<rect x="489.1" y="188.8" width="160.50" height="147.60" fill="none" stroke="#d2d2d2" stroke-width="0.7"/>
<line x1="493.10" y1="336.4" x2="493.10" y2="337.60" stroke="#c4c4c4" stroke-width="0.5"/>
<text x="0" y="0" transform="translate(493.10 341.60) scale(1 1.35)" font-family="Liberation Sans" font-size="4.15" fill="#5a5a5a" stroke="#5a5a5a" stroke-width="0.08" text-anchor="middle" xml:space="preserve">5.0</text>
<line x1="528.10" y1="336.4" x2="528.10" y2="337.60" stroke="#c4c4c4" stroke-width="0.5"/>
<text x="0" y="0" transform="translate(528.10 341.60) scale(1 1.35)" font-family="Liberation Sans" font-size="4.15" fill="#5a5a5a" stroke="#5a5a5a" stroke-width="0.08" text-anchor="middle" xml:space="preserve">7.5</text>
<line x1="562.80" y1="336.4" x2="562.80" y2="337.60" stroke="#c4c4c4" stroke-width="0.5"/>
<text x="0" y="0" transform="translate(562.80 341.60) scale(1 1.35)" font-family="Liberation Sans" font-size="4.15" fill="#5a5a5a" stroke="#5a5a5a" stroke-width="0.08" text-anchor="middle" xml:space="preserve">10.0</text>
<line x1="597.50" y1="336.4" x2="597.50" y2="337.60" stroke="#c4c4c4" stroke-width="0.5"/>
<text x="0" y="0" transform="translate(597.50 341.60) scale(1 1.35)" font-family="Liberation Sans" font-size="4.15" fill="#5a5a5a" stroke="#5a5a5a" stroke-width="0.08" text-anchor="middle" xml:space="preserve">12.5</text>
<line x1="631.90" y1="336.4" x2="631.90" y2="337.60" stroke="#c4c4c4" stroke-width="0.5"/>
<text x="0" y="0" transform="translate(631.90 341.60) scale(1 1.35)" font-family="Liberation Sans" font-size="4.15" fill="#5a5a5a" stroke="#5a5a5a" stroke-width="0.08" text-anchor="middle" xml:space="preserve">15.0</text>
<line x1="487.90" y1="195.50" x2="489.1" y2="195.50" stroke="#c4c4c4" stroke-width="0.5"/>
<text x="0" y="0" transform="translate(487.40 197.05) scale(1 1.35)" font-family="Liberation Sans" font-size="4.15" fill="#5a5a5a" stroke="#5a5a5a" stroke-width="0.08" text-anchor="end" xml:space="preserve">25000</text>
<line x1="487.90" y1="231.80" x2="489.1" y2="231.80" stroke="#c4c4c4" stroke-width="0.5"/>
<text x="0" y="0" transform="translate(487.40 233.35) scale(1 1.35)" font-family="Liberation Sans" font-size="4.15" fill="#5a5a5a" stroke="#5a5a5a" stroke-width="0.08" text-anchor="end" xml:space="preserve">22500</text>
<line x1="487.90" y1="268.00" x2="489.1" y2="268.00" stroke="#c4c4c4" stroke-width="0.5"/>
<text x="0" y="0" transform="translate(487.40 269.55) scale(1 1.35)" font-family="Liberation Sans" font-size="4.15" fill="#5a5a5a" stroke="#5a5a5a" stroke-width="0.08" text-anchor="end" xml:space="preserve">20000</text>
<line x1="487.90" y1="304.30" x2="489.1" y2="304.30" stroke="#c4c4c4" stroke-width="0.5"/>
<text x="0" y="0" transform="translate(487.40 305.85) scale(1 1.35)" font-family="Liberation Sans" font-size="4.15" fill="#5a5a5a" stroke="#5a5a5a" stroke-width="0.08" text-anchor="end" xml:space="preserve">17500</text>
<text x="484.35" y="181.20" font-family="Liberation Sans" font-size="5.5" fill="#111" stroke="#111" stroke-width="0.2" font-weight="bold" textLength="170.50" lengthAdjust="spacingAndGlyphs" xml:space="preserve">Correlation between Cingulate Lobe Volume and Serum IgM Level</text>
<text x="0" y="0" transform="translate(569.50 186.55) scale(1 1.15)" font-family="Liberation Sans" font-size="3.66" fill="#333" stroke="#333" stroke-width="0.08" text-anchor="middle" xml:space="preserve">PC Group (n=43) vs. NC Control (n=20)</text>
<text x="0" y="0" transform="translate(569.70 347.60) scale(1 1.12)" font-family="Liberation Sans" font-size="6.1" fill="#111" stroke="#111" stroke-width="0.25" font-weight="bold" text-anchor="middle" textLength="68.30" lengthAdjust="spacingAndGlyphs" xml:space="preserve">Serum IgM Level(ug/ml)</text>
<text x="0" y="0" transform="translate(473.76 263.00) rotate(-90) scale(1 1.12)" font-family="Liberation Sans" font-size="6.1" fill="#111" stroke="#111" stroke-width="0.18" font-weight="bold" text-anchor="middle" xml:space="preserve">Cingulate Lobe Volume(mm3)</text>
<text x="0" y="0" transform="translate(655.00 258.85) scale(1 1.1)" font-family="Liberation Sans" font-size="5.95" fill="#111" stroke="#111" stroke-width="0.2" font-weight="bold" xml:space="preserve">Group</text>
<rect x="654.40" y="261.25" width="5.5" height="10.0" fill="#e4e4e4"/>
<line x1="654.70" y1="264.15" x2="659.60" y2="264.15" stroke="#30f818" stroke-width="0.9"/>
<circle cx="657.15" cy="264.15" r="1.2" fill="#30f818"/>
<text x="0" y="0" transform="translate(661.70 266.25) scale(1 1.12)" font-family="Liberation Sans" font-size="4.8" fill="#333" stroke="#333" stroke-width="0.08" xml:space="preserve">NC group</text>
<line x1="654.70" y1="269.25" x2="659.60" y2="269.25" stroke="#f81818" stroke-width="0.9"/>
<circle cx="657.15" cy="269.25" r="1.2" fill="#f81818"/>
<text x="0" y="0" transform="translate(661.70 271.35) scale(1 1.12)" font-family="Liberation Sans" font-size="4.8" fill="#333" stroke="#333" stroke-width="0.08" xml:space="preserve">PC group</text>
<text x="464.15" y="195.15" font-family="Liberation Serif" font-size="15" fill="#000" font-weight="bold" xml:space="preserve">f</text>
<clipPath id="clipg"><rect x="24.0" y="365.8" width="162.60" height="147.60"/></clipPath>
<line x1="53.50" y1="365.8" x2="53.50" y2="513.4" stroke="#f5f5f5" stroke-width="0.4"/><line x1="100.55" y1="365.8" x2="100.55" y2="513.4" stroke="#f5f5f5" stroke-width="0.4"/><line x1="147.70" y1="365.8" x2="147.70" y2="513.4" stroke="#f5f5f5" stroke-width="0.4"/><line x1="24.0" y1="388.20" x2="186.6" y2="388.20" stroke="#f5f5f5" stroke-width="0.4"/><line x1="24.0" y1="434.20" x2="186.6" y2="434.20" stroke="#f5f5f5" stroke-width="0.4"/><line x1="24.0" y1="480.20" x2="186.6" y2="480.20" stroke="#f5f5f5" stroke-width="0.4"/><line x1="30.00" y1="365.8" x2="30.00" y2="513.4" stroke="#efefef" stroke-width="0.45"/><line x1="77.00" y1="365.8" x2="77.00" y2="513.4" stroke="#efefef" stroke-width="0.45"/><line x1="124.10" y1="365.8" x2="124.10" y2="513.4" stroke="#efefef" stroke-width="0.45"/><line x1="171.30" y1="365.8" x2="171.30" y2="513.4" stroke="#efefef" stroke-width="0.45"/><line x1="24.0" y1="411.20" x2="186.6" y2="411.20" stroke="#efefef" stroke-width="0.45"/><line x1="24.0" y1="457.20" x2="186.6" y2="457.20" stroke="#efefef" stroke-width="0.45"/><line x1="24.0" y1="503.20" x2="186.6" y2="503.20" stroke="#efefef" stroke-width="0.45"/>
<g clip-path="url(#clipg)">
<rect x="113.3" y="366.5" width="70.37" height="15.20" fill="#fff" stroke="#c8c8c8" stroke-width="0.5"/>
<text x="114.90" y="373.00" font-family="Liberation Serif" font-size="5.6" fill="#000" stroke="#000" stroke-width="0.25" font-weight="bold" xml:space="preserve">NC Group:R=0.041  P=0.86</text>
<text x="114.90" y="379.70" font-family="Liberation Serif" font-size="5.6" fill="#000" stroke="#000" stroke-width="0.25" font-weight="bold" xml:space="preserve">PC Group:R=0.38  P=0.013</text>
<circle cx="77.28" cy="372.34" r="1.3" fill="#30f818"/>
<circle cx="104.34" cy="409.92" r="1.3" fill="#30f818"/>
<circle cx="76.23" cy="425.95" r="1.3" fill="#30f818"/>
<circle cx="91.73" cy="431.20" r="1.3" fill="#30f818"/>
<circle cx="98.56" cy="431.47" r="1.3" fill="#30f818"/>
<circle cx="99.61" cy="432.78" r="1.3" fill="#30f818"/>
<circle cx="101.98" cy="432.78" r="1.3" fill="#30f818"/>
<circle cx="165.04" cy="419.38" r="1.3" fill="#30f818"/>
<circle cx="131.14" cy="446.18" r="1.3" fill="#30f818"/>
<circle cx="125.36" cy="448.81" r="1.3" fill="#30f818"/>
<circle cx="31.29" cy="461.16" r="1.3" fill="#30f818"/>
<circle cx="63.35" cy="459.85" r="1.3" fill="#30f818"/>
<circle cx="51.79" cy="468.78" r="1.3" fill="#30f818"/>
<circle cx="106.97" cy="457.48" r="1.3" fill="#30f818"/>
<circle cx="98.04" cy="466.41" r="1.3" fill="#30f818"/>
<circle cx="167.93" cy="455.12" r="1.3" fill="#30f818"/>
<circle cx="175.55" cy="461.16" r="1.3" fill="#30f818"/>
<circle cx="116.96" cy="474.56" r="1.3" fill="#30f818"/>
<circle cx="68.08" cy="506.62" r="1.3" fill="#30f818"/>
<circle cx="118.79" cy="502.94" r="1.3" fill="#30f818"/>
<circle cx="174.24" cy="387.85" r="1.3" fill="#f81818"/>
<circle cx="70.71" cy="416.23" r="1.3" fill="#f81818"/>
<circle cx="124.05" cy="420.69" r="1.3" fill="#f81818"/>
<circle cx="148.49" cy="420.17" r="1.3" fill="#f81818"/>
<circle cx="151.64" cy="419.12" r="1.3" fill="#f81818"/>
<circle cx="156.90" cy="419.12" r="1.3" fill="#f81818"/>
<circle cx="155.32" cy="426.47" r="1.3" fill="#f81818"/>
<circle cx="149.01" cy="429.89" r="1.3" fill="#f81818"/>
<circle cx="151.12" cy="430.42" r="1.3" fill="#f81818"/>
<circle cx="167.93" cy="425.42" r="1.3" fill="#f81818"/>
<circle cx="162.68" cy="428.58" r="1.3" fill="#f81818"/>
<circle cx="152.69" cy="437.25" r="1.3" fill="#f81818"/>
<circle cx="179.23" cy="437.25" r="1.3" fill="#f81818"/>
<circle cx="100.14" cy="437.25" r="1.3" fill="#f81818"/>
<circle cx="117.48" cy="443.03" r="1.3" fill="#f81818"/>
<circle cx="115.64" cy="444.60" r="1.3" fill="#f81818"/>
<circle cx="127.73" cy="445.39" r="1.3" fill="#f81818"/>
<circle cx="137.71" cy="448.55" r="1.3" fill="#f81818"/>
<circle cx="147.17" cy="443.29" r="1.3" fill="#f81818"/>
<circle cx="147.70" cy="446.97" r="1.3" fill="#f81818"/>
<circle cx="150.06" cy="448.55" r="1.3" fill="#f81818"/>
<circle cx="121.95" cy="448.81" r="1.3" fill="#f81818"/>
<circle cx="97.77" cy="449.60" r="1.3" fill="#f81818"/>
<circle cx="112.49" cy="451.17" r="1.3" fill="#f81818"/>
<circle cx="113.80" cy="454.33" r="1.3" fill="#f81818"/>
<circle cx="70.71" cy="455.38" r="1.3" fill="#f81818"/>
<circle cx="68.08" cy="465.36" r="1.3" fill="#f81818"/>
<circle cx="98.04" cy="461.16" r="1.3" fill="#f81818"/>
<circle cx="101.19" cy="463.26" r="1.3" fill="#f81818"/>
<circle cx="117.48" cy="462.74" r="1.3" fill="#f81818"/>
<circle cx="114.06" cy="465.36" r="1.3" fill="#f81818"/>
<circle cx="115.64" cy="468.25" r="1.3" fill="#f81818"/>
<circle cx="94.36" cy="465.36" r="1.3" fill="#f81818"/>
<circle cx="145.86" cy="461.42" r="1.3" fill="#f81818"/>
<circle cx="152.95" cy="464.05" r="1.3" fill="#f81818"/>
<circle cx="151.12" cy="468.78" r="1.3" fill="#f81818"/>
<circle cx="161.36" cy="468.52" r="1.3" fill="#f81818"/>
<circle cx="134.04" cy="474.82" r="1.3" fill="#f81818"/>
<circle cx="143.76" cy="481.92" r="1.3" fill="#f81818"/>
<circle cx="119.06" cy="483.23" r="1.3" fill="#f81818"/>
<circle cx="121.16" cy="487.17" r="1.3" fill="#f81818"/>
<circle cx="106.44" cy="494.01" r="1.3" fill="#f81818"/>
<circle cx="109.86" cy="499.52" r="1.3" fill="#f81818"/>
<path d="M31.30,457.30 C32.70,456.42 37.33,453.47 39.70,452.00 C42.07,450.53 43.55,449.67 45.50,448.50 C47.45,447.33 49.45,446.20 51.40,445.00 C53.35,443.80 55.27,442.50 57.20,441.30 C59.13,440.10 61.05,438.73 63.00,437.80 C64.95,436.87 66.95,436.35 68.90,435.70 C70.85,435.05 72.75,434.38 74.70,433.90 C76.65,433.42 78.65,433.08 80.60,432.80 C82.55,432.52 84.47,432.30 86.40,432.20 C88.33,432.10 90.25,432.00 92.20,432.20 C94.15,432.40 96.53,432.97 98.10,433.40 C99.67,433.83 100.25,433.97 101.60,434.80 C102.95,435.63 104.40,437.38 106.20,438.40 C108.00,439.42 109.30,440.17 112.40,440.90 C115.50,441.63 120.67,442.35 124.80,442.80 C128.93,443.25 133.07,443.50 137.20,443.60 C141.33,443.70 145.47,444.05 149.60,443.40 C153.73,442.75 157.70,441.35 162.00,439.70 C166.30,438.05 173.17,434.53 175.40,433.50 L175.40,462.00 C173.17,461.68 166.30,460.62 162.00,460.10 C157.70,459.58 153.73,459.30 149.60,458.90 C145.47,458.50 141.33,458.22 137.20,457.70 C133.07,457.18 128.93,456.37 124.80,455.80 C120.67,455.23 115.50,454.82 112.40,454.30 C109.30,453.78 108.00,453.58 106.20,452.70 C104.40,451.82 102.95,449.93 101.60,449.00 C100.25,448.07 99.67,447.67 98.10,447.10 C96.53,446.53 94.15,445.85 92.20,445.60 C90.25,445.35 88.33,445.50 86.40,445.60 C84.47,445.70 82.55,445.90 80.60,446.20 C78.65,446.50 76.65,446.82 74.70,447.40 C72.75,447.98 70.85,448.73 68.90,449.70 C66.95,450.67 64.95,451.73 63.00,453.20 C61.05,454.67 59.13,456.55 57.20,458.50 C55.27,460.45 53.35,462.47 51.40,464.90 C49.45,467.33 47.45,470.18 45.50,473.10 C43.55,476.02 42.07,478.87 39.70,482.40 C37.33,485.93 32.70,492.32 31.30,494.30 Z" fill="#999" fill-opacity="0.38"/>
<path d="M68.30,437.10 C69.37,438.33 72.65,442.17 74.70,444.50 C76.75,446.83 78.65,449.45 80.60,451.10 C82.55,452.75 84.47,453.50 86.40,454.40 C88.33,455.30 90.25,455.92 92.20,456.50 C94.15,457.08 96.15,457.52 98.10,457.90 C100.05,458.28 101.52,458.53 103.90,458.80 C106.28,459.07 108.92,459.97 112.40,459.50 C115.88,459.03 120.67,457.65 124.80,456.00 C128.93,454.35 133.07,452.32 137.20,449.60 C141.33,446.88 145.47,443.53 149.60,439.70 C153.73,435.87 158.27,430.63 162.00,426.60 C165.73,422.57 169.20,418.80 172.00,415.50 C174.80,412.20 177.67,408.25 178.80,406.80 L178.80,423.50 C177.67,424.53 174.80,427.32 172.00,429.70 C169.20,432.08 165.73,434.65 162.00,437.80 C158.27,440.95 153.73,445.40 149.60,448.60 C145.47,451.80 141.33,454.67 137.20,457.00 C133.07,459.33 128.93,461.15 124.80,462.60 C120.67,464.05 115.88,465.17 112.40,465.70 C108.92,466.23 106.28,465.93 103.90,465.80 C101.52,465.67 100.05,465.35 98.10,464.90 C96.15,464.45 94.15,463.78 92.20,463.10 C90.25,462.42 88.33,461.67 86.40,460.80 C84.47,459.93 82.55,458.97 80.60,457.90 C78.65,456.83 76.75,455.38 74.70,454.40 C72.65,453.42 69.37,452.40 68.30,452.00 Z" fill="#999" fill-opacity="0.38"/>
<path d="M31.30,476.60 C32.70,474.85 37.33,469.02 39.70,466.10 C42.07,463.18 43.55,461.25 45.50,459.10 C47.45,456.95 49.45,454.97 51.40,453.20 C53.35,451.43 55.27,449.90 57.20,448.50 C59.13,447.10 61.05,445.87 63.00,444.80 C64.95,443.73 66.95,442.83 68.90,442.10 C70.85,441.37 72.75,440.85 74.70,440.40 C76.65,439.95 78.65,439.63 80.60,439.40 C82.55,439.17 84.47,439.07 86.40,439.00 C88.33,438.93 90.25,438.87 92.20,439.00 C94.15,439.13 96.53,439.48 98.10,439.80 C99.67,440.12 100.25,440.10 101.60,440.90 C102.95,441.70 104.40,443.60 106.20,444.60 C108.00,445.60 109.30,446.17 112.40,446.90 C115.50,447.63 120.67,448.38 124.80,449.00 C128.93,449.62 133.07,450.18 137.20,450.60 C141.33,451.02 145.47,451.47 149.60,451.50 C153.73,451.53 157.70,451.37 162.00,450.80 C166.30,450.23 173.17,448.55 175.40,448.10" fill="none" stroke="#30f818" stroke-width="1.1"/>
<path d="M68.30,445.00 C69.37,445.88 72.65,448.78 74.70,450.30 C76.75,451.82 78.65,452.93 80.60,454.10 C82.55,455.27 84.47,456.38 86.40,457.30 C88.33,458.22 90.25,458.95 92.20,459.60 C94.15,460.25 96.15,460.75 98.10,461.20 C100.05,461.65 101.52,462.07 103.90,462.30 C106.28,462.53 108.92,463.07 112.40,462.60 C115.88,462.13 120.67,461.05 124.80,459.50 C128.93,457.95 133.07,455.88 137.20,453.30 C141.33,450.72 145.47,447.52 149.60,444.00 C153.73,440.48 158.27,435.82 162.00,432.20 C165.73,428.58 169.20,425.30 172.00,422.30 C174.80,419.30 177.67,415.55 178.80,414.20" fill="none" stroke="#f81818" stroke-width="1.1"/>
</g>
<rect x="24.0" y="365.8" width="162.60" height="147.60" fill="none" stroke="#d2d2d2" stroke-width="0.7"/>
<line x1="30.00" y1="513.4" x2="30.00" y2="514.60" stroke="#c4c4c4" stroke-width="0.5"/>
<text x="0" y="0" transform="translate(30.00 518.60) scale(1 1.35)" font-family="Liberation Sans" font-size="4.15" fill="#5a5a5a" stroke="#5a5a5a" stroke-width="0.08" text-anchor="middle" xml:space="preserve">20</text>
<line x1="77.00" y1="513.4" x2="77.00" y2="514.60" stroke="#c4c4c4" stroke-width="0.5"/>
<text x="0" y="0" transform="translate(77.00 518.60) scale(1 1.35)" font-family="Liberation Sans" font-size="4.15" fill="#5a5a5a" stroke="#5a5a5a" stroke-width="0.08" text-anchor="middle" xml:space="preserve">30</text>
<line x1="124.10" y1="513.4" x2="124.10" y2="514.60" stroke="#c4c4c4" stroke-width="0.5"/>
<text x="0" y="0" transform="translate(124.10 518.60) scale(1 1.35)" font-family="Liberation Sans" font-size="4.15" fill="#5a5a5a" stroke="#5a5a5a" stroke-width="0.08" text-anchor="middle" xml:space="preserve">40</text>
<line x1="171.30" y1="513.4" x2="171.30" y2="514.60" stroke="#c4c4c4" stroke-width="0.5"/>
<text x="0" y="0" transform="translate(171.30 518.60) scale(1 1.35)" font-family="Liberation Sans" font-size="4.15" fill="#5a5a5a" stroke="#5a5a5a" stroke-width="0.08" text-anchor="middle" xml:space="preserve">50</text>
<line x1="22.80" y1="411.20" x2="24.0" y2="411.20" stroke="#c4c4c4" stroke-width="0.5"/>
<text x="0" y="0" transform="translate(22.30 412.75) scale(1 1.35)" font-family="Liberation Sans" font-size="4.15" fill="#5a5a5a" stroke="#5a5a5a" stroke-width="0.08" text-anchor="end" xml:space="preserve">140000</text>
<line x1="22.80" y1="457.20" x2="24.0" y2="457.20" stroke="#c4c4c4" stroke-width="0.5"/>
<text x="0" y="0" transform="translate(22.30 458.75) scale(1 1.35)" font-family="Liberation Sans" font-size="4.15" fill="#5a5a5a" stroke="#5a5a5a" stroke-width="0.08" text-anchor="end" xml:space="preserve">120000</text>
<line x1="22.80" y1="503.20" x2="24.0" y2="503.20" stroke="#c4c4c4" stroke-width="0.5"/>
<text x="0" y="0" transform="translate(22.30 504.75) scale(1 1.35)" font-family="Liberation Sans" font-size="4.15" fill="#5a5a5a" stroke="#5a5a5a" stroke-width="0.08" text-anchor="end" xml:space="preserve">100000</text>
<text x="20.25" y="358.20" font-family="Liberation Sans" font-size="5.5" fill="#111" stroke="#111" stroke-width="0.2" font-weight="bold" textLength="170.20" lengthAdjust="spacingAndGlyphs" xml:space="preserve">Correlation between Frontal Lobe Volume and Serum IL1b Level</text>
<text x="0" y="0" transform="translate(105.25 363.55) scale(1 1.15)" font-family="Liberation Sans" font-size="3.66" fill="#333" stroke="#333" stroke-width="0.08" text-anchor="middle" xml:space="preserve">PC Group (n=43) vs. NC Control (n=20)</text>
<text x="0" y="0" transform="translate(104.90 524.60) scale(1 1.12)" font-family="Liberation Sans" font-size="6.1" fill="#111" stroke="#111" stroke-width="0.25" font-weight="bold" text-anchor="middle" textLength="72.30" lengthAdjust="spacingAndGlyphs" xml:space="preserve">Serum IL1b Level(pg/ml)</text>
<text x="0" y="0" transform="translate(6.36 440.00) rotate(-90) scale(1 1.12)" font-family="Liberation Sans" font-size="6.1" fill="#111" stroke="#111" stroke-width="0.18" font-weight="bold" text-anchor="middle" xml:space="preserve">Frontal Lobe Volume(mm3)</text>
<text x="0" y="0" transform="translate(192.00 435.85) scale(1 1.1)" font-family="Liberation Sans" font-size="5.95" fill="#111" stroke="#111" stroke-width="0.2" font-weight="bold" xml:space="preserve">Group</text>
<rect x="191.40" y="438.25" width="5.5" height="10.0" fill="#e4e4e4"/>
<line x1="191.70" y1="441.15" x2="196.60" y2="441.15" stroke="#30f818" stroke-width="0.9"/>
<circle cx="194.15" cy="441.15" r="1.2" fill="#30f818"/>
<text x="0" y="0" transform="translate(198.70 443.25) scale(1 1.12)" font-family="Liberation Sans" font-size="4.8" fill="#333" stroke="#333" stroke-width="0.08" xml:space="preserve">NC group</text>
<line x1="191.70" y1="446.25" x2="196.60" y2="446.25" stroke="#f81818" stroke-width="0.9"/>
<circle cx="194.15" cy="446.25" r="1.2" fill="#f81818"/>
<text x="0" y="0" transform="translate(198.70 448.35) scale(1 1.12)" font-family="Liberation Sans" font-size="4.8" fill="#333" stroke="#333" stroke-width="0.08" xml:space="preserve">PC group</text>
<text x="7.25" y="369.65" font-family="Liberation Serif" font-size="15" fill="#000" font-weight="bold" xml:space="preserve">g</text>
<clipPath id="cliph"><rect x="251.4" y="365.1" width="165.10" height="147.30"/></clipPath>
<line x1="281.25" y1="365.1" x2="281.25" y2="512.4" stroke="#f5f5f5" stroke-width="0.4"/><line x1="329.35" y1="365.1" x2="329.35" y2="512.4" stroke="#f5f5f5" stroke-width="0.4"/><line x1="377.70" y1="365.1" x2="377.70" y2="512.4" stroke="#f5f5f5" stroke-width="0.4"/><line x1="251.4" y1="378.23" x2="416.5" y2="378.23" stroke="#f5f5f5" stroke-width="0.4"/><line x1="251.4" y1="417.05" x2="416.5" y2="417.05" stroke="#f5f5f5" stroke-width="0.4"/><line x1="251.4" y1="455.80" x2="416.5" y2="455.80" stroke="#f5f5f5" stroke-width="0.4"/><line x1="251.4" y1="494.48" x2="416.5" y2="494.48" stroke="#f5f5f5" stroke-width="0.4"/><line x1="257.30" y1="365.1" x2="257.30" y2="512.4" stroke="#efefef" stroke-width="0.45"/><line x1="305.20" y1="365.1" x2="305.20" y2="512.4" stroke="#efefef" stroke-width="0.45"/><line x1="353.50" y1="365.1" x2="353.50" y2="512.4" stroke="#efefef" stroke-width="0.45"/><line x1="401.90" y1="365.1" x2="401.90" y2="512.4" stroke="#efefef" stroke-width="0.45"/><line x1="251.4" y1="397.60" x2="416.5" y2="397.60" stroke="#efefef" stroke-width="0.45"/><line x1="251.4" y1="436.50" x2="416.5" y2="436.50" stroke="#efefef" stroke-width="0.45"/><line x1="251.4" y1="475.10" x2="416.5" y2="475.10" stroke="#efefef" stroke-width="0.45"/>
<g clip-path="url(#cliph)">
<rect x="343.7" y="365.8" width="69.43" height="15.20" fill="#fff" stroke="#c8c8c8" stroke-width="0.5"/>
<text x="345.30" y="372.30" font-family="Liberation Serif" font-size="5.6" fill="#000" stroke="#000" stroke-width="0.25" font-weight="bold" xml:space="preserve">NC Group:R=-0.08  P=0.74</text>
<text x="345.30" y="379.00" font-family="Liberation Serif" font-size="5.6" fill="#000" stroke="#000" stroke-width="0.25" font-weight="bold" xml:space="preserve">PC Group:R=0.24  P=0.12</text>
<circle cx="305.69" cy="371.55" r="1.3" fill="#30f818"/>
<circle cx="332.50" cy="398.09" r="1.3" fill="#30f818"/>
<circle cx="329.08" cy="414.39" r="1.3" fill="#30f818"/>
<circle cx="304.12" cy="425.95" r="1.3" fill="#30f818"/>
<circle cx="291.24" cy="435.41" r="1.3" fill="#30f818"/>
<circle cx="320.15" cy="437.51" r="1.3" fill="#30f818"/>
<circle cx="330.66" cy="443.55" r="1.3" fill="#30f818"/>
<circle cx="326.71" cy="449.60" r="1.3" fill="#30f818"/>
<circle cx="359.82" cy="443.55" r="1.3" fill="#30f818"/>
<circle cx="354.83" cy="451.70" r="1.3" fill="#30f818"/>
<circle cx="327.24" cy="456.43" r="1.3" fill="#30f818"/>
<circle cx="335.39" cy="464.05" r="1.3" fill="#30f818"/>
<circle cx="347.74" cy="465.36" r="1.3" fill="#30f818"/>
<circle cx="345.63" cy="473.25" r="1.3" fill="#30f818"/>
<circle cx="295.71" cy="475.35" r="1.3" fill="#30f818"/>
<circle cx="279.68" cy="467.20" r="1.3" fill="#30f818"/>
<circle cx="258.39" cy="479.82" r="1.3" fill="#30f818"/>
<circle cx="396.87" cy="443.55" r="1.3" fill="#30f818"/>
<circle cx="395.03" cy="458.01" r="1.3" fill="#30f818"/>
<circle cx="405.02" cy="470.88" r="1.3" fill="#30f818"/>
<circle cx="376.64" cy="400.98" r="1.3" fill="#f81818"/>
<circle cx="344.58" cy="408.08" r="1.3" fill="#f81818"/>
<circle cx="362.71" cy="414.65" r="1.3" fill="#f81818"/>
<circle cx="403.97" cy="415.44" r="1.3" fill="#f81818"/>
<circle cx="381.11" cy="422.27" r="1.3" fill="#f81818"/>
<circle cx="381.90" cy="424.63" r="1.3" fill="#f81818"/>
<circle cx="376.12" cy="425.95" r="1.3" fill="#f81818"/>
<circle cx="408.70" cy="424.37" r="1.3" fill="#f81818"/>
<circle cx="386.36" cy="429.89" r="1.3" fill="#f81818"/>
<circle cx="325.93" cy="429.36" r="1.3" fill="#f81818"/>
<circle cx="342.74" cy="430.94" r="1.3" fill="#f81818"/>
<circle cx="328.82" cy="434.62" r="1.3" fill="#f81818"/>
<circle cx="377.69" cy="434.36" r="1.3" fill="#f81818"/>
<circle cx="366.92" cy="436.46" r="1.3" fill="#f81818"/>
<circle cx="350.89" cy="436.72" r="1.3" fill="#f81818"/>
<circle cx="329.87" cy="439.09" r="1.3" fill="#f81818"/>
<circle cx="322.77" cy="443.55" r="1.3" fill="#f81818"/>
<circle cx="342.74" cy="444.08" r="1.3" fill="#f81818"/>
<circle cx="375.06" cy="444.34" r="1.3" fill="#f81818"/>
<circle cx="346.42" cy="446.18" r="1.3" fill="#f81818"/>
<circle cx="384.52" cy="448.81" r="1.3" fill="#f81818"/>
<circle cx="340.90" cy="449.86" r="1.3" fill="#f81818"/>
<circle cx="298.86" cy="451.70" r="1.3" fill="#f81818"/>
<circle cx="352.73" cy="454.59" r="1.3" fill="#f81818"/>
<circle cx="344.58" cy="458.27" r="1.3" fill="#f81818"/>
<circle cx="380.32" cy="459.06" r="1.3" fill="#f81818"/>
<circle cx="379.27" cy="462.74" r="1.3" fill="#f81818"/>
<circle cx="378.22" cy="464.84" r="1.3" fill="#f81818"/>
<circle cx="382.42" cy="465.36" r="1.3" fill="#f81818"/>
<circle cx="347.74" cy="463.52" r="1.3" fill="#f81818"/>
<circle cx="346.42" cy="466.41" r="1.3" fill="#f81818"/>
<circle cx="335.12" cy="472.46" r="1.3" fill="#f81818"/>
<circle cx="298.86" cy="469.04" r="1.3" fill="#f81818"/>
<circle cx="372.96" cy="469.83" r="1.3" fill="#f81818"/>
<circle cx="326.71" cy="476.40" r="1.3" fill="#f81818"/>
<circle cx="346.42" cy="477.19" r="1.3" fill="#f81818"/>
<circle cx="390.83" cy="475.87" r="1.3" fill="#f81818"/>
<circle cx="392.14" cy="476.40" r="1.3" fill="#f81818"/>
<circle cx="396.87" cy="482.44" r="1.3" fill="#f81818"/>
<circle cx="295.97" cy="497.95" r="1.3" fill="#f81818"/>
<circle cx="350.10" cy="495.32" r="1.3" fill="#f81818"/>
<circle cx="338.54" cy="505.57" r="1.3" fill="#f81818"/>
<path d="M259.20,469.50 C260.12,468.20 262.78,464.32 264.70,461.70 C266.62,459.08 268.68,456.22 270.70,453.80 C272.72,451.38 274.78,449.32 276.80,447.20 C278.82,445.08 280.80,442.92 282.80,441.10 C284.80,439.28 286.78,437.70 288.80,436.30 C290.82,434.90 292.88,433.80 294.90,432.70 C296.92,431.60 298.88,430.50 300.90,429.70 C302.92,428.90 304.98,428.30 307.00,427.90 C309.02,427.50 311.00,427.30 313.00,427.30 C315.00,427.30 316.98,427.57 319.00,427.90 C321.02,428.23 323.00,428.38 325.10,429.30 C327.20,430.22 329.43,432.07 331.60,433.40 C333.77,434.73 335.92,436.10 338.10,437.30 C340.28,438.50 342.50,439.65 344.70,440.60 C346.90,441.55 348.02,442.18 351.30,443.00 C354.58,443.82 360.02,444.80 364.40,445.50 C368.78,446.20 373.22,446.70 377.60,447.20 C381.98,447.70 386.15,448.28 390.70,448.50 C395.25,448.72 402.53,448.50 404.90,448.50 L404.90,470.20 C402.53,469.53 395.25,467.52 390.70,466.20 C386.15,464.88 381.98,463.83 377.60,462.30 C373.22,460.77 368.78,458.70 364.40,457.00 C360.02,455.30 354.58,453.30 351.30,452.10 C348.02,450.90 346.90,450.52 344.70,449.80 C342.50,449.08 340.28,448.60 338.10,447.80 C335.92,447.00 333.77,446.10 331.60,445.00 C329.43,443.90 327.20,442.15 325.10,441.20 C323.00,440.25 321.02,439.72 319.00,439.30 C316.98,438.88 315.00,438.60 313.00,438.70 C311.00,438.80 309.02,439.18 307.00,439.90 C304.98,440.62 302.92,441.78 300.90,443.00 C298.88,444.22 296.92,445.60 294.90,447.20 C292.88,448.80 290.82,450.48 288.80,452.60 C286.78,454.72 284.80,457.28 282.80,459.90 C280.80,462.52 278.82,465.28 276.80,468.30 C274.78,471.32 272.72,474.67 270.70,478.00 C268.68,481.33 266.62,484.67 264.70,488.30 C262.78,491.93 260.12,497.88 259.20,499.80 Z" fill="#999" fill-opacity="0.38"/>
<path d="M296.30,462.30 C297.47,461.90 301.12,460.70 303.30,459.90 C305.48,459.10 307.38,458.32 309.40,457.50 C311.42,456.68 313.38,455.82 315.40,455.00 C317.42,454.18 319.48,453.30 321.50,452.60 C323.52,451.90 325.50,451.40 327.50,450.80 C329.50,450.20 331.73,449.50 333.50,449.00 C335.27,448.50 335.13,448.43 338.10,447.80 C341.07,447.17 346.92,446.07 351.30,445.20 C355.68,444.33 360.02,443.37 364.40,442.60 C368.78,441.83 373.22,441.37 377.60,440.60 C381.98,439.83 385.52,439.42 390.70,438.00 C395.88,436.58 405.70,433.08 408.70,432.10 L408.70,453.10 C405.70,452.62 395.88,450.68 390.70,450.20 C385.52,449.72 381.98,450.20 377.60,450.20 C373.22,450.20 368.78,450.15 364.40,450.20 C360.02,450.25 355.68,449.62 351.30,450.50 C346.92,451.38 341.07,454.30 338.10,455.50 C335.13,456.70 335.27,456.97 333.50,457.70 C331.73,458.43 329.50,459.13 327.50,459.90 C325.50,460.67 323.52,461.33 321.50,462.30 C319.48,463.27 317.42,464.38 315.40,465.70 C313.38,467.02 311.42,468.65 309.40,470.20 C307.38,471.75 305.48,473.10 303.30,475.00 C301.12,476.90 297.47,480.50 296.30,481.60 Z" fill="#999" fill-opacity="0.38"/>
<path d="M259.20,485.30 C260.12,483.78 262.78,479.33 264.70,476.20 C266.62,473.07 268.68,469.47 270.70,466.50 C272.72,463.53 274.78,460.95 276.80,458.40 C278.82,455.85 280.80,453.47 282.80,451.20 C284.80,448.93 286.78,446.68 288.80,444.80 C290.82,442.92 292.88,441.32 294.90,439.90 C296.92,438.48 298.88,437.30 300.90,436.30 C302.92,435.30 304.98,434.43 307.00,433.90 C309.02,433.37 311.00,433.17 313.00,433.10 C315.00,433.03 316.98,433.13 319.00,433.50 C321.02,433.87 323.00,434.40 325.10,435.30 C327.20,436.20 329.43,437.68 331.60,438.90 C333.77,440.12 335.92,441.50 338.10,442.60 C340.28,443.70 342.50,444.63 344.70,445.50 C346.90,446.37 348.02,446.65 351.30,447.80 C354.58,448.95 360.02,451.03 364.40,452.40 C368.78,453.77 373.22,455.00 377.60,456.00 C381.98,457.00 386.15,457.68 390.70,458.40 C395.25,459.12 402.53,459.98 404.90,460.30" fill="none" stroke="#30f818" stroke-width="1.1"/>
<path d="M296.30,472.20 C297.47,471.45 301.12,469.12 303.30,467.70 C305.48,466.28 307.38,464.90 309.40,463.70 C311.42,462.50 313.38,461.50 315.40,460.50 C317.42,459.50 319.48,458.57 321.50,457.70 C323.52,456.83 325.50,456.05 327.50,455.30 C329.50,454.55 331.73,453.78 333.50,453.20 C335.27,452.62 335.13,452.58 338.10,451.80 C341.07,451.02 346.92,449.32 351.30,448.50 C355.68,447.68 360.02,447.27 364.40,446.90 C368.78,446.53 373.22,446.67 377.60,446.30 C381.98,445.93 385.52,445.38 390.70,444.70 C395.88,444.02 405.70,442.62 408.70,442.20" fill="none" stroke="#f81818" stroke-width="1.1"/>
</g>
<rect x="251.4" y="365.1" width="165.10" height="147.30" fill="none" stroke="#d2d2d2" stroke-width="0.7"/>
<line x1="257.30" y1="512.4" x2="257.30" y2="513.60" stroke="#c4c4c4" stroke-width="0.5"/>
<text x="0" y="0" transform="translate(257.30 517.60) scale(1 1.35)" font-family="Liberation Sans" font-size="4.15" fill="#5a5a5a" stroke="#5a5a5a" stroke-width="0.08" text-anchor="middle" xml:space="preserve">20</text>
<line x1="305.20" y1="512.4" x2="305.20" y2="513.60" stroke="#c4c4c4" stroke-width="0.5"/>
<text x="0" y="0" transform="translate(305.20 517.60) scale(1 1.35)" font-family="Liberation Sans" font-size="4.15" fill="#5a5a5a" stroke="#5a5a5a" stroke-width="0.08" text-anchor="middle" xml:space="preserve">30</text>
<line x1="353.50" y1="512.4" x2="353.50" y2="513.60" stroke="#c4c4c4" stroke-width="0.5"/>
<text x="0" y="0" transform="translate(353.50 517.60) scale(1 1.35)" font-family="Liberation Sans" font-size="4.15" fill="#5a5a5a" stroke="#5a5a5a" stroke-width="0.08" text-anchor="middle" xml:space="preserve">40</text>
<line x1="401.90" y1="512.4" x2="401.90" y2="513.60" stroke="#c4c4c4" stroke-width="0.5"/>
<text x="0" y="0" transform="translate(401.90 517.60) scale(1 1.35)" font-family="Liberation Sans" font-size="4.15" fill="#5a5a5a" stroke="#5a5a5a" stroke-width="0.08" text-anchor="middle" xml:space="preserve">50</text>
<line x1="250.20" y1="397.60" x2="251.4" y2="397.60" stroke="#c4c4c4" stroke-width="0.5"/>
<text x="0" y="0" transform="translate(249.70 399.15) scale(1 1.35)" font-family="Liberation Sans" font-size="4.15" fill="#5a5a5a" stroke="#5a5a5a" stroke-width="0.08" text-anchor="end" xml:space="preserve">16000</text>
<line x1="250.20" y1="436.50" x2="251.4" y2="436.50" stroke="#c4c4c4" stroke-width="0.5"/>
<text x="0" y="0" transform="translate(249.70 438.05) scale(1 1.35)" font-family="Liberation Sans" font-size="4.15" fill="#5a5a5a" stroke="#5a5a5a" stroke-width="0.08" text-anchor="end" xml:space="preserve">14000</text>
<line x1="250.20" y1="475.10" x2="251.4" y2="475.10" stroke="#c4c4c4" stroke-width="0.5"/>
<text x="0" y="0" transform="translate(249.70 476.65) scale(1 1.35)" font-family="Liberation Sans" font-size="4.15" fill="#5a5a5a" stroke="#5a5a5a" stroke-width="0.08" text-anchor="end" xml:space="preserve">12000</text>
<text x="248.65" y="357.50" font-family="Liberation Sans" font-size="5.5" fill="#111" stroke="#111" stroke-width="0.2" font-weight="bold" textLength="171.10" lengthAdjust="spacingAndGlyphs" xml:space="preserve">Correlation between Parietal Lobe Volume and Serum IL1b Level</text>
<text x="0" y="0" transform="translate(334.10 362.85) scale(1 1.15)" font-family="Liberation Sans" font-size="3.66" fill="#333" stroke="#333" stroke-width="0.08" text-anchor="middle" xml:space="preserve">PC Group (n=43) vs. NC Control (n=20)</text>
<text x="0" y="0" transform="translate(333.80 523.60) scale(1 1.12)" font-family="Liberation Sans" font-size="6.1" fill="#111" stroke="#111" stroke-width="0.25" font-weight="bold" text-anchor="middle" textLength="73.30" lengthAdjust="spacingAndGlyphs" xml:space="preserve">Serum IL1b Level(pg/ml)</text>
<text x="0" y="0" transform="translate(236.06 439.15) rotate(-90) scale(1 1.12)" font-family="Liberation Sans" font-size="6.1" fill="#111" stroke="#111" stroke-width="0.18" font-weight="bold" text-anchor="middle" xml:space="preserve">Parietal Lobe Volume(mm3)</text>
<text x="0" y="0" transform="translate(421.90 435.00) scale(1 1.1)" font-family="Liberation Sans" font-size="5.95" fill="#111" stroke="#111" stroke-width="0.2" font-weight="bold" xml:space="preserve">Group</text>
<rect x="421.30" y="437.40" width="5.5" height="10.0" fill="#e4e4e4"/>
<line x1="421.60" y1="440.30" x2="426.50" y2="440.30" stroke="#30f818" stroke-width="0.9"/>
<circle cx="424.05" cy="440.30" r="1.2" fill="#30f818"/>
<text x="0" y="0" transform="translate(428.60 442.40) scale(1 1.12)" font-family="Liberation Sans" font-size="4.8" fill="#333" stroke="#333" stroke-width="0.08" xml:space="preserve">NC group</text>
<line x1="421.60" y1="445.40" x2="426.50" y2="445.40" stroke="#f81818" stroke-width="0.9"/>
<circle cx="424.05" cy="445.40" r="1.2" fill="#f81818"/>
<text x="0" y="0" transform="translate(428.60 447.50) scale(1 1.12)" font-family="Liberation Sans" font-size="4.8" fill="#333" stroke="#333" stroke-width="0.08" xml:space="preserve">PC group</text>
<text x="232.20" y="371.75" font-family="Liberation Serif" font-size="15" fill="#000" font-weight="bold" xml:space="preserve">h</text>
<clipPath id="clipi"><rect x="489.5" y="365.4" width="160.50" height="147.00"/></clipPath>
<line x1="518.40" y1="365.4" x2="518.40" y2="512.4" stroke="#f5f5f5" stroke-width="0.4"/><line x1="565.45" y1="365.4" x2="565.45" y2="512.4" stroke="#f5f5f5" stroke-width="0.4"/><line x1="612.60" y1="365.4" x2="612.60" y2="512.4" stroke="#f5f5f5" stroke-width="0.4"/><line x1="489.5" y1="386.55" x2="650.0" y2="386.55" stroke="#f5f5f5" stroke-width="0.4"/><line x1="489.5" y1="420.55" x2="650.0" y2="420.55" stroke="#f5f5f5" stroke-width="0.4"/><line x1="489.5" y1="454.45" x2="650.0" y2="454.45" stroke="#f5f5f5" stroke-width="0.4"/><line x1="489.5" y1="488.35" x2="650.0" y2="488.35" stroke="#f5f5f5" stroke-width="0.4"/><line x1="495.00" y1="365.4" x2="495.00" y2="512.4" stroke="#efefef" stroke-width="0.45"/><line x1="541.80" y1="365.4" x2="541.80" y2="512.4" stroke="#efefef" stroke-width="0.45"/><line x1="589.10" y1="365.4" x2="589.10" y2="512.4" stroke="#efefef" stroke-width="0.45"/><line x1="636.10" y1="365.4" x2="636.10" y2="512.4" stroke="#efefef" stroke-width="0.45"/><line x1="489.5" y1="369.50" x2="650.0" y2="369.50" stroke="#efefef" stroke-width="0.45"/><line x1="489.5" y1="403.60" x2="650.0" y2="403.60" stroke="#efefef" stroke-width="0.45"/><line x1="489.5" y1="437.50" x2="650.0" y2="437.50" stroke="#efefef" stroke-width="0.45"/><line x1="489.5" y1="471.40" x2="650.0" y2="471.40" stroke="#efefef" stroke-width="0.45"/><line x1="489.5" y1="505.30" x2="650.0" y2="505.30" stroke="#efefef" stroke-width="0.45"/>
<g clip-path="url(#clipi)">
<rect x="575.6" y="494.59999999999997" width="71.30" height="15.20" fill="#fff" stroke="#c8c8c8" stroke-width="0.5"/>
<text x="577.20" y="501.10" font-family="Liberation Serif" font-size="5.6" fill="#000" stroke="#000" stroke-width="0.25" font-weight="bold" xml:space="preserve">NC Group:R=-0.17  P=0.49</text>
<text x="577.20" y="507.80" font-family="Liberation Serif" font-size="5.6" fill="#000" stroke="#000" stroke-width="0.25" font-weight="bold" xml:space="preserve">PC Group:R=0.43  P=4.1e-3</text>
<circle cx="542.01" cy="371.82" r="1.3" fill="#30f818"/>
<circle cx="540.96" cy="380.75" r="1.3" fill="#30f818"/>
<circle cx="568.82" cy="401.25" r="1.3" fill="#30f818"/>
<circle cx="581.17" cy="419.64" r="1.3" fill="#30f818"/>
<circle cx="594.83" cy="417.80" r="1.3" fill="#30f818"/>
<circle cx="589.84" cy="423.06" r="1.3" fill="#30f818"/>
<circle cx="628.99" cy="407.82" r="1.3" fill="#30f818"/>
<circle cx="496.29" cy="422.27" r="1.3" fill="#30f818"/>
<circle cx="516.79" cy="429.63" r="1.3" fill="#30f818"/>
<circle cx="528.09" cy="424.90" r="1.3" fill="#30f818"/>
<circle cx="564.61" cy="425.42" r="1.3" fill="#30f818"/>
<circle cx="563.04" cy="430.68" r="1.3" fill="#30f818"/>
<circle cx="562.25" cy="432.52" r="1.3" fill="#30f818"/>
<circle cx="556.20" cy="435.67" r="1.3" fill="#30f818"/>
<circle cx="566.98" cy="439.61" r="1.3" fill="#30f818"/>
<circle cx="571.18" cy="440.93" r="1.3" fill="#30f818"/>
<circle cx="631.09" cy="440.14" r="1.3" fill="#30f818"/>
<circle cx="638.98" cy="463.52" r="1.3" fill="#30f818"/>
<circle cx="533.08" cy="478.24" r="1.3" fill="#30f818"/>
<circle cx="562.77" cy="482.71" r="1.3" fill="#30f818"/>
<circle cx="582.22" cy="505.57" r="1.3" fill="#30f818"/>
<circle cx="612.17" cy="371.55" r="1.3" fill="#f81818"/>
<circle cx="620.85" cy="389.16" r="1.3" fill="#f81818"/>
<circle cx="637.66" cy="386.53" r="1.3" fill="#f81818"/>
<circle cx="580.12" cy="403.35" r="1.3" fill="#f81818"/>
<circle cx="586.16" cy="403.35" r="1.3" fill="#f81818"/>
<circle cx="588.00" cy="405.71" r="1.3" fill="#f81818"/>
<circle cx="631.09" cy="407.03" r="1.3" fill="#f81818"/>
<circle cx="591.94" cy="414.65" r="1.3" fill="#f81818"/>
<circle cx="616.38" cy="415.44" r="1.3" fill="#f81818"/>
<circle cx="619.27" cy="417.01" r="1.3" fill="#f81818"/>
<circle cx="612.70" cy="421.48" r="1.3" fill="#f81818"/>
<circle cx="607.71" cy="423.06" r="1.3" fill="#f81818"/>
<circle cx="601.66" cy="429.89" r="1.3" fill="#f81818"/>
<circle cx="611.91" cy="428.58" r="1.3" fill="#f81818"/>
<circle cx="626.36" cy="429.63" r="1.3" fill="#f81818"/>
<circle cx="642.66" cy="431.99" r="1.3" fill="#f81818"/>
<circle cx="535.44" cy="433.31" r="1.3" fill="#f81818"/>
<circle cx="565.40" cy="434.62" r="1.3" fill="#f81818"/>
<circle cx="561.98" cy="438.04" r="1.3" fill="#f81818"/>
<circle cx="579.85" cy="436.98" r="1.3" fill="#f81818"/>
<circle cx="609.81" cy="435.15" r="1.3" fill="#f81818"/>
<circle cx="610.60" cy="436.46" r="1.3" fill="#f81818"/>
<circle cx="614.54" cy="439.09" r="1.3" fill="#f81818"/>
<circle cx="615.85" cy="439.61" r="1.3" fill="#f81818"/>
<circle cx="562.25" cy="449.60" r="1.3" fill="#f81818"/>
<circle cx="564.61" cy="449.86" r="1.3" fill="#f81818"/>
<circle cx="581.96" cy="451.44" r="1.3" fill="#f81818"/>
<circle cx="578.54" cy="452.49" r="1.3" fill="#f81818"/>
<circle cx="578.01" cy="454.06" r="1.3" fill="#f81818"/>
<circle cx="576.44" cy="458.27" r="1.3" fill="#f81818"/>
<circle cx="581.96" cy="462.74" r="1.3" fill="#f81818"/>
<circle cx="583.79" cy="460.63" r="1.3" fill="#f81818"/>
<circle cx="585.63" cy="461.16" r="1.3" fill="#f81818"/>
<circle cx="597.98" cy="459.85" r="1.3" fill="#f81818"/>
<circle cx="615.06" cy="458.01" r="1.3" fill="#f81818"/>
<circle cx="616.90" cy="461.16" r="1.3" fill="#f81818"/>
<circle cx="614.01" cy="467.20" r="1.3" fill="#f81818"/>
<circle cx="625.05" cy="470.62" r="1.3" fill="#f81818"/>
<circle cx="533.34" cy="464.84" r="1.3" fill="#f81818"/>
<circle cx="535.44" cy="467.47" r="1.3" fill="#f81818"/>
<circle cx="558.83" cy="465.89" r="1.3" fill="#f81818"/>
<circle cx="570.66" cy="475.09" r="1.3" fill="#f81818"/>
<circle cx="574.07" cy="474.82" r="1.3" fill="#f81818"/>
<path d="M496.80,405.30 C497.62,405.68 499.92,406.77 501.70,407.60 C503.48,408.43 505.55,409.52 507.50,410.30 C509.45,411.08 511.45,411.72 513.40,412.30 C515.35,412.88 517.27,413.37 519.20,413.80 C521.13,414.23 523.05,414.47 525.00,414.90 C526.95,415.33 528.95,415.97 530.90,416.40 C532.85,416.83 534.75,417.08 536.70,417.50 C538.65,417.92 540.65,418.42 542.60,418.90 C544.55,419.38 546.47,419.82 548.40,420.40 C550.33,420.98 552.25,421.72 554.20,422.40 C556.15,423.08 558.30,423.82 560.10,424.50 C561.90,425.18 562.12,425.58 565.00,426.50 C567.88,427.42 573.27,429.15 577.40,430.00 C581.53,430.85 585.67,431.33 589.80,431.60 C593.93,431.87 598.07,431.80 602.20,431.60 C606.33,431.40 610.47,431.08 614.60,430.40 C618.73,429.72 622.97,428.68 627.00,427.50 C631.03,426.32 636.83,424.00 638.80,423.30 L638.80,453.90 C636.83,453.38 631.03,451.67 627.00,450.80 C622.97,449.93 618.73,449.32 614.60,448.70 C610.47,448.08 606.33,447.62 602.20,447.10 C598.07,446.58 593.93,446.12 589.80,445.60 C585.67,445.08 581.53,445.10 577.40,444.00 C573.27,442.90 567.88,440.20 565.00,439.00 C562.12,437.80 561.90,437.37 560.10,436.80 C558.30,436.23 556.15,435.93 554.20,435.60 C552.25,435.27 550.33,435.08 548.40,434.80 C546.47,434.52 544.55,434.15 542.60,433.90 C540.65,433.65 538.65,433.47 536.70,433.30 C534.75,433.13 532.85,432.97 530.90,432.90 C528.95,432.83 526.95,432.73 525.00,432.90 C523.05,433.07 521.13,433.45 519.20,433.90 C517.27,434.35 515.35,434.92 513.40,435.60 C511.45,436.28 509.45,437.02 507.50,438.00 C505.55,438.98 503.48,440.33 501.70,441.50 C499.92,442.67 497.62,444.42 496.80,445.00 Z" fill="#999" fill-opacity="0.38"/>
<path d="M533.20,447.90 C534.77,448.00 540.07,448.47 542.60,448.50 C545.13,448.53 546.47,448.37 548.40,448.10 C550.33,447.83 552.25,447.33 554.20,446.90 C556.15,446.47 558.30,445.82 560.10,445.50 C561.90,445.18 562.12,445.97 565.00,445.00 C567.88,444.03 573.27,441.52 577.40,439.70 C581.53,437.88 585.67,435.97 589.80,434.10 C593.93,432.23 598.07,430.43 602.20,428.50 C606.33,426.57 610.47,424.57 614.60,422.50 C618.73,420.43 622.33,418.62 627.00,416.10 C631.67,413.58 640.00,408.85 642.60,407.40 L642.60,426.60 C640.00,427.12 631.67,428.67 627.00,429.70 C622.33,430.73 618.73,431.45 614.60,432.80 C610.47,434.15 606.33,436.13 602.20,437.80 C598.07,439.47 593.93,441.15 589.80,442.80 C585.67,444.45 581.53,445.92 577.40,447.70 C573.27,449.48 567.88,452.35 565.00,453.50 C562.12,454.65 561.90,454.08 560.10,454.60 C558.30,455.12 556.15,455.87 554.20,456.60 C552.25,457.33 550.33,458.22 548.40,459.00 C546.47,459.78 545.13,460.33 542.60,461.30 C540.07,462.27 534.77,464.22 533.20,464.80 Z" fill="#999" fill-opacity="0.38"/>
<path d="M496.80,425.10 C497.62,424.97 499.92,424.53 501.70,424.30 C503.48,424.07 505.55,423.85 507.50,423.70 C509.45,423.55 511.45,423.45 513.40,423.40 C515.35,423.35 517.27,423.35 519.20,423.40 C521.13,423.45 523.05,423.52 525.00,423.70 C526.95,423.88 528.95,424.13 530.90,424.50 C532.85,424.87 534.75,425.42 536.70,425.90 C538.65,426.38 540.65,426.82 542.60,427.40 C544.55,427.98 546.47,428.75 548.40,429.40 C550.33,430.05 552.25,430.65 554.20,431.30 C556.15,431.95 558.30,432.77 560.10,433.30 C561.90,433.83 562.12,433.85 565.00,434.50 C567.88,435.15 573.27,436.50 577.40,437.20 C581.53,437.90 585.67,438.35 589.80,438.70 C593.93,439.05 598.07,439.13 602.20,439.30 C606.33,439.47 610.47,439.68 614.60,439.70 C618.73,439.72 622.97,439.62 627.00,439.40 C631.03,439.18 636.83,438.57 638.80,438.40" fill="none" stroke="#30f818" stroke-width="1.1"/>
<path d="M533.20,457.20 C534.77,456.87 540.07,455.73 542.60,455.20 C545.13,454.67 546.47,454.48 548.40,454.00 C550.33,453.52 552.25,452.88 554.20,452.30 C556.15,451.72 558.30,451.00 560.10,450.50 C561.90,450.00 562.12,450.38 565.00,449.30 C567.88,448.22 573.27,445.82 577.40,444.00 C581.53,442.18 585.67,440.27 589.80,438.40 C593.93,436.53 598.07,434.55 602.20,432.80 C606.33,431.05 610.47,429.55 614.60,427.90 C618.73,426.25 622.33,424.70 627.00,422.90 C631.67,421.10 640.00,418.07 642.60,417.10" fill="none" stroke="#f81818" stroke-width="1.1"/>
</g>
<rect x="489.5" y="365.4" width="160.50" height="147.00" fill="none" stroke="#d2d2d2" stroke-width="0.7"/>
<line x1="495.00" y1="512.4" x2="495.00" y2="513.60" stroke="#c4c4c4" stroke-width="0.5"/>
<text x="0" y="0" transform="translate(495.00 517.60) scale(1 1.35)" font-family="Liberation Sans" font-size="4.15" fill="#5a5a5a" stroke="#5a5a5a" stroke-width="0.08" text-anchor="middle" xml:space="preserve">20</text>
<line x1="541.80" y1="512.4" x2="541.80" y2="513.60" stroke="#c4c4c4" stroke-width="0.5"/>
<text x="0" y="0" transform="translate(541.80 517.60) scale(1 1.35)" font-family="Liberation Sans" font-size="4.15" fill="#5a5a5a" stroke="#5a5a5a" stroke-width="0.08" text-anchor="middle" xml:space="preserve">30</text>
<line x1="589.10" y1="512.4" x2="589.10" y2="513.60" stroke="#c4c4c4" stroke-width="0.5"/>
<text x="0" y="0" transform="translate(589.10 517.60) scale(1 1.35)" font-family="Liberation Sans" font-size="4.15" fill="#5a5a5a" stroke="#5a5a5a" stroke-width="0.08" text-anchor="middle" xml:space="preserve">40</text>
<line x1="636.10" y1="512.4" x2="636.10" y2="513.60" stroke="#c4c4c4" stroke-width="0.5"/>
<text x="0" y="0" transform="translate(636.10 517.60) scale(1 1.35)" font-family="Liberation Sans" font-size="4.15" fill="#5a5a5a" stroke="#5a5a5a" stroke-width="0.08" text-anchor="middle" xml:space="preserve">50</text>
<line x1="488.30" y1="369.50" x2="489.5" y2="369.50" stroke="#c4c4c4" stroke-width="0.5"/>
<text x="0" y="0" transform="translate(487.80 371.05) scale(1 1.35)" font-family="Liberation Sans" font-size="4.15" fill="#5a5a5a" stroke="#5a5a5a" stroke-width="0.08" text-anchor="end" xml:space="preserve">50000</text>
<line x1="488.30" y1="403.60" x2="489.5" y2="403.60" stroke="#c4c4c4" stroke-width="0.5"/>
<text x="0" y="0" transform="translate(487.80 405.15) scale(1 1.35)" font-family="Liberation Sans" font-size="4.15" fill="#5a5a5a" stroke="#5a5a5a" stroke-width="0.08" text-anchor="end" xml:space="preserve">45000</text>
<line x1="488.30" y1="437.50" x2="489.5" y2="437.50" stroke="#c4c4c4" stroke-width="0.5"/>
<text x="0" y="0" transform="translate(487.80 439.05) scale(1 1.35)" font-family="Liberation Sans" font-size="4.15" fill="#5a5a5a" stroke="#5a5a5a" stroke-width="0.08" text-anchor="end" xml:space="preserve">40000</text>
<line x1="488.30" y1="471.40" x2="489.5" y2="471.40" stroke="#c4c4c4" stroke-width="0.5"/>
<text x="0" y="0" transform="translate(487.80 472.95) scale(1 1.35)" font-family="Liberation Sans" font-size="4.15" fill="#5a5a5a" stroke="#5a5a5a" stroke-width="0.08" text-anchor="end" xml:space="preserve">35000</text>
<line x1="488.30" y1="505.30" x2="489.5" y2="505.30" stroke="#c4c4c4" stroke-width="0.5"/>
<text x="0" y="0" transform="translate(487.80 506.85) scale(1 1.35)" font-family="Liberation Sans" font-size="4.15" fill="#5a5a5a" stroke="#5a5a5a" stroke-width="0.08" text-anchor="end" xml:space="preserve">30000</text>
<text x="484.35" y="357.80" font-family="Liberation Sans" font-size="5.5" fill="#111" stroke="#111" stroke-width="0.2" font-weight="bold" textLength="171.50" lengthAdjust="spacingAndGlyphs" xml:space="preserve">Correlation between Temporal Lobe Volume and Serum IL1b Level</text>
<text x="0" y="0" transform="translate(570.00 363.15) scale(1 1.15)" font-family="Liberation Sans" font-size="3.66" fill="#333" stroke="#333" stroke-width="0.08" text-anchor="middle" xml:space="preserve">PC Group (n=43) vs. NC Control (n=20)</text>
<text x="0" y="0" transform="translate(569.50 523.60) scale(1 1.12)" font-family="Liberation Sans" font-size="6.1" fill="#111" stroke="#111" stroke-width="0.25" font-weight="bold" text-anchor="middle" textLength="71.30" lengthAdjust="spacingAndGlyphs" xml:space="preserve">Serum IL1b Level(pg/ml)</text>
<text x="0" y="0" transform="translate(474.16 439.30) rotate(-90) scale(1 1.12)" font-family="Liberation Sans" font-size="6.1" fill="#111" stroke="#111" stroke-width="0.18" font-weight="bold" text-anchor="middle" xml:space="preserve">Temporal Lobe Volume(mm3)</text>
<text x="0" y="0" transform="translate(655.40 435.15) scale(1 1.1)" font-family="Liberation Sans" font-size="5.95" fill="#111" stroke="#111" stroke-width="0.2" font-weight="bold" xml:space="preserve">Group</text>
<rect x="654.80" y="437.55" width="5.5" height="10.0" fill="#e4e4e4"/>
<line x1="655.10" y1="440.45" x2="660.00" y2="440.45" stroke="#30f818" stroke-width="0.9"/>
<circle cx="657.55" cy="440.45" r="1.2" fill="#30f818"/>
<text x="0" y="0" transform="translate(662.10 442.55) scale(1 1.12)" font-family="Liberation Sans" font-size="4.8" fill="#333" stroke="#333" stroke-width="0.08" xml:space="preserve">NC group</text>
<line x1="655.10" y1="445.55" x2="660.00" y2="445.55" stroke="#f81818" stroke-width="0.9"/>
<circle cx="657.55" cy="445.55" r="1.2" fill="#f81818"/>
<text x="0" y="0" transform="translate(662.10 447.65) scale(1 1.12)" font-family="Liberation Sans" font-size="4.8" fill="#333" stroke="#333" stroke-width="0.08" xml:space="preserve">PC group</text>
<text x="467.90" y="370.35" font-family="Liberation Serif" font-size="15" fill="#000" font-weight="bold" xml:space="preserve">i</text>
<clipPath id="clipj"><rect x="23.4" y="542.4" width="163.20" height="146.70"/></clipPath>
<line x1="52.70" y1="542.4" x2="52.70" y2="689.1" stroke="#f5f5f5" stroke-width="0.4"/><line x1="100.20" y1="542.4" x2="100.20" y2="689.1" stroke="#f5f5f5" stroke-width="0.4"/><line x1="147.55" y1="542.4" x2="147.55" y2="689.1" stroke="#f5f5f5" stroke-width="0.4"/><line x1="23.4" y1="574.00" x2="186.6" y2="574.00" stroke="#f5f5f5" stroke-width="0.4"/><line x1="23.4" y1="614.50" x2="186.6" y2="614.50" stroke="#f5f5f5" stroke-width="0.4"/><line x1="23.4" y1="654.85" x2="186.6" y2="654.85" stroke="#f5f5f5" stroke-width="0.4"/><line x1="28.80" y1="542.4" x2="28.80" y2="689.1" stroke="#efefef" stroke-width="0.45"/><line x1="76.60" y1="542.4" x2="76.60" y2="689.1" stroke="#efefef" stroke-width="0.45"/><line x1="123.80" y1="542.4" x2="123.80" y2="689.1" stroke="#efefef" stroke-width="0.45"/><line x1="171.30" y1="542.4" x2="171.30" y2="689.1" stroke="#efefef" stroke-width="0.45"/><line x1="23.4" y1="553.60" x2="186.6" y2="553.60" stroke="#efefef" stroke-width="0.45"/><line x1="23.4" y1="594.40" x2="186.6" y2="594.40" stroke="#efefef" stroke-width="0.45"/><line x1="23.4" y1="634.60" x2="186.6" y2="634.60" stroke="#efefef" stroke-width="0.45"/><line x1="23.4" y1="675.10" x2="186.6" y2="675.10" stroke="#efefef" stroke-width="0.45"/>
<g clip-path="url(#clipj)">
<rect x="114.8" y="672.6" width="69.74" height="15.20" fill="#fff" stroke="#c8c8c8" stroke-width="0.5"/>
<text x="116.40" y="679.10" font-family="Liberation Serif" font-size="5.6" fill="#000" stroke="#000" stroke-width="0.25" font-weight="bold" xml:space="preserve">NC Group:R=0.2  P=0.39</text>
<text x="116.40" y="685.80" font-family="Liberation Serif" font-size="5.6" fill="#000" stroke="#000" stroke-width="0.25" font-weight="bold" xml:space="preserve">PC Group:R=0.36  P=0.017</text>
<circle cx="103.82" cy="554.44" r="1.3" fill="#30f818"/>
<circle cx="99.87" cy="562.85" r="1.3" fill="#30f818"/>
<circle cx="75.70" cy="567.58" r="1.3" fill="#30f818"/>
<circle cx="164.78" cy="575.98" r="1.3" fill="#30f818"/>
<circle cx="130.62" cy="583.08" r="1.3" fill="#30f818"/>
<circle cx="76.75" cy="596.74" r="1.3" fill="#30f818"/>
<circle cx="102.24" cy="599.63" r="1.3" fill="#30f818"/>
<circle cx="98.04" cy="611.98" r="1.3" fill="#30f818"/>
<circle cx="174.76" cy="607.78" r="1.3" fill="#30f818"/>
<circle cx="67.03" cy="623.81" r="1.3" fill="#30f818"/>
<circle cx="91.20" cy="624.07" r="1.3" fill="#30f818"/>
<circle cx="125.36" cy="625.65" r="1.3" fill="#30f818"/>
<circle cx="51.00" cy="629.85" r="1.3" fill="#30f818"/>
<circle cx="30.24" cy="643.52" r="1.3" fill="#30f818"/>
<circle cx="167.41" cy="627.23" r="1.3" fill="#30f818"/>
<circle cx="116.69" cy="642.99" r="1.3" fill="#30f818"/>
<circle cx="62.56" cy="654.29" r="1.3" fill="#30f818"/>
<circle cx="106.44" cy="654.03" r="1.3" fill="#30f818"/>
<circle cx="118.01" cy="653.24" r="1.3" fill="#30f818"/>
<circle cx="97.51" cy="661.65" r="1.3" fill="#30f818"/>
<circle cx="173.98" cy="548.92" r="1.3" fill="#f81818"/>
<circle cx="127.47" cy="571.25" r="1.3" fill="#f81818"/>
<circle cx="148.49" cy="574.15" r="1.3" fill="#f81818"/>
<circle cx="137.19" cy="579.66" r="1.3" fill="#f81818"/>
<circle cx="147.96" cy="585.97" r="1.3" fill="#f81818"/>
<circle cx="152.43" cy="589.39" r="1.3" fill="#f81818"/>
<circle cx="150.85" cy="593.59" r="1.3" fill="#f81818"/>
<circle cx="117.48" cy="596.48" r="1.3" fill="#f81818"/>
<circle cx="111.96" cy="600.95" r="1.3" fill="#f81818"/>
<circle cx="132.98" cy="600.42" r="1.3" fill="#f81818"/>
<circle cx="156.63" cy="599.63" r="1.3" fill="#f81818"/>
<circle cx="162.94" cy="597.79" r="1.3" fill="#f81818"/>
<circle cx="97.25" cy="603.05" r="1.3" fill="#f81818"/>
<circle cx="151.90" cy="604.63" r="1.3" fill="#f81818"/>
<circle cx="113.28" cy="607.78" r="1.3" fill="#f81818"/>
<circle cx="118.79" cy="608.83" r="1.3" fill="#f81818"/>
<circle cx="146.91" cy="608.31" r="1.3" fill="#f81818"/>
<circle cx="70.18" cy="616.19" r="1.3" fill="#f81818"/>
<circle cx="93.57" cy="619.08" r="1.3" fill="#f81818"/>
<circle cx="97.77" cy="618.03" r="1.3" fill="#f81818"/>
<circle cx="121.68" cy="615.40" r="1.3" fill="#f81818"/>
<circle cx="145.33" cy="617.50" r="1.3" fill="#f81818"/>
<circle cx="149.80" cy="615.40" r="1.3" fill="#f81818"/>
<circle cx="150.85" cy="620.13" r="1.3" fill="#f81818"/>
<circle cx="115.12" cy="621.97" r="1.3" fill="#f81818"/>
<circle cx="69.66" cy="622.50" r="1.3" fill="#f81818"/>
<circle cx="178.71" cy="618.29" r="1.3" fill="#f81818"/>
<circle cx="67.82" cy="633.79" r="1.3" fill="#f81818"/>
<circle cx="113.80" cy="633.79" r="1.3" fill="#f81818"/>
<circle cx="143.23" cy="636.42" r="1.3" fill="#f81818"/>
<circle cx="161.10" cy="635.37" r="1.3" fill="#f81818"/>
<circle cx="105.92" cy="638.52" r="1.3" fill="#f81818"/>
<circle cx="155.06" cy="641.94" r="1.3" fill="#f81818"/>
<circle cx="123.26" cy="645.09" r="1.3" fill="#f81818"/>
<circle cx="146.39" cy="647.46" r="1.3" fill="#f81818"/>
<circle cx="115.64" cy="652.19" r="1.3" fill="#f81818"/>
<circle cx="116.96" cy="650.87" r="1.3" fill="#f81818"/>
<circle cx="120.63" cy="656.39" r="1.3" fill="#f81818"/>
<circle cx="99.87" cy="656.92" r="1.3" fill="#f81818"/>
<circle cx="100.40" cy="668.22" r="1.3" fill="#f81818"/>
<circle cx="109.07" cy="682.93" r="1.3" fill="#f81818"/>
<path d="M30.90,628.50 C31.97,627.92 35.25,626.07 37.30,625.00 C39.35,623.93 41.25,623.07 43.20,622.10 C45.15,621.13 47.05,620.17 49.00,619.20 C50.95,618.23 52.95,617.27 54.90,616.30 C56.85,615.33 58.77,614.38 60.70,613.40 C62.63,612.42 64.55,611.38 66.50,610.40 C68.45,609.42 70.45,608.33 72.40,607.50 C74.35,606.67 76.25,605.92 78.20,605.40 C80.15,604.88 82.15,604.60 84.10,604.40 C86.05,604.20 87.97,604.17 89.90,604.20 C91.83,604.23 93.75,604.37 95.70,604.60 C97.65,604.83 98.82,605.20 101.60,605.60 C104.38,606.00 108.53,606.83 112.40,607.00 C116.27,607.17 120.67,606.98 124.80,606.60 C128.93,606.22 133.07,605.53 137.20,604.70 C141.33,603.87 145.47,602.93 149.60,601.60 C153.73,600.27 157.75,598.90 162.00,596.70 C166.25,594.50 172.92,589.78 175.10,588.40 L175.10,618.40 C172.92,618.35 166.25,618.20 162.00,618.10 C157.75,618.00 153.73,617.75 149.60,617.80 C145.47,617.85 141.33,618.10 137.20,618.40 C133.07,618.70 128.93,619.28 124.80,619.60 C120.67,619.92 116.27,620.27 112.40,620.30 C108.53,620.33 104.38,619.98 101.60,619.80 C98.82,619.62 97.65,619.33 95.70,619.20 C93.75,619.07 91.83,618.97 89.90,619.00 C87.97,619.03 86.05,619.08 84.10,619.40 C82.15,619.72 80.15,620.15 78.20,620.90 C76.25,621.65 74.35,622.87 72.40,623.90 C70.45,624.93 68.45,625.83 66.50,627.10 C64.55,628.37 62.63,629.90 60.70,631.50 C58.77,633.10 56.85,634.77 54.90,636.70 C52.95,638.63 50.95,640.77 49.00,643.10 C47.05,645.43 45.15,647.87 43.20,650.70 C41.25,653.53 39.35,657.27 37.30,660.10 C35.25,662.93 31.97,666.43 30.90,667.70 Z" fill="#999" fill-opacity="0.38"/>
<path d="M67.70,615.70 C68.87,616.67 72.55,620.13 74.70,621.50 C76.85,622.87 78.65,623.22 80.60,623.90 C82.55,624.58 84.47,625.12 86.40,625.60 C88.33,626.08 90.25,626.55 92.20,626.80 C94.15,627.05 96.15,627.23 98.10,627.10 C100.05,626.97 101.52,626.42 103.90,626.00 C106.28,625.58 109.95,625.52 112.40,624.60 C114.85,623.68 116.53,622.05 118.60,620.50 C120.67,618.95 122.73,616.72 124.80,615.30 C126.87,613.88 128.93,612.93 131.00,612.00 C133.07,611.07 134.10,610.92 137.20,609.70 C140.30,608.48 145.47,606.57 149.60,604.70 C153.73,602.83 157.13,600.77 162.00,598.50 C166.87,596.23 176.00,592.33 178.80,591.10 L178.80,611.60 C176.00,611.50 166.87,610.80 162.00,611.00 C157.13,611.20 153.73,611.82 149.60,612.80 C145.47,613.78 140.30,615.73 137.20,616.90 C134.10,618.07 133.07,618.72 131.00,619.80 C128.93,620.88 126.87,622.12 124.80,623.40 C122.73,624.68 120.67,626.23 118.60,627.50 C116.53,628.77 114.85,629.92 112.40,631.00 C109.95,632.08 106.28,633.25 103.90,634.00 C101.52,634.75 100.05,635.20 98.10,635.50 C96.15,635.80 94.15,635.75 92.20,635.80 C90.25,635.85 88.33,635.85 86.40,635.80 C84.47,635.75 82.55,635.63 80.60,635.50 C78.65,635.37 76.85,635.00 74.70,635.00 C72.55,635.00 68.87,635.42 67.70,635.50 Z" fill="#999" fill-opacity="0.38"/>
<path d="M30.90,648.40 C31.97,647.23 35.25,643.55 37.30,641.40 C39.35,639.25 41.25,637.35 43.20,635.50 C45.15,633.65 47.05,631.95 49.00,630.30 C50.95,628.65 52.95,627.10 54.90,625.60 C56.85,624.10 58.77,622.67 60.70,621.30 C62.63,619.93 64.55,618.53 66.50,617.40 C68.45,616.27 70.45,615.32 72.40,614.50 C74.35,613.68 76.25,612.98 78.20,612.50 C80.15,612.02 82.15,611.78 84.10,611.60 C86.05,611.42 87.97,611.40 89.90,611.40 C91.83,611.40 93.75,611.40 95.70,611.60 C97.65,611.80 98.82,612.25 101.60,612.60 C104.38,612.95 108.53,613.52 112.40,613.70 C116.27,613.88 120.67,613.95 124.80,613.70 C128.93,613.45 133.07,612.97 137.20,612.20 C141.33,611.43 145.47,610.13 149.60,609.10 C153.73,608.07 157.75,607.10 162.00,606.00 C166.25,604.90 172.92,603.08 175.10,602.50" fill="none" stroke="#30f818" stroke-width="1.1"/>
<path d="M67.70,625.00 C68.87,625.50 72.55,627.22 74.70,628.00 C76.85,628.78 78.65,629.22 80.60,629.70 C82.55,630.18 84.47,630.60 86.40,630.90 C88.33,631.20 90.25,631.42 92.20,631.50 C94.15,631.58 96.15,631.60 98.10,631.40 C100.05,631.20 101.52,630.92 103.90,630.30 C106.28,629.68 109.95,628.65 112.40,627.70 C114.85,626.75 116.53,625.95 118.60,624.60 C120.67,623.25 122.73,621.08 124.80,619.60 C126.87,618.12 128.93,616.83 131.00,615.70 C133.07,614.57 134.10,614.00 137.20,612.80 C140.30,611.60 145.47,609.85 149.60,608.50 C153.73,607.15 157.13,605.90 162.00,604.70 C166.87,603.50 176.00,601.87 178.80,601.30" fill="none" stroke="#f81818" stroke-width="1.1"/>
</g>
<rect x="23.4" y="542.4" width="163.20" height="146.70" fill="none" stroke="#d2d2d2" stroke-width="0.7"/>
<line x1="28.80" y1="689.1" x2="28.80" y2="690.30" stroke="#c4c4c4" stroke-width="0.5"/>
<text x="0" y="0" transform="translate(28.80 694.30) scale(1 1.35)" font-family="Liberation Sans" font-size="4.15" fill="#5a5a5a" stroke="#5a5a5a" stroke-width="0.08" text-anchor="middle" xml:space="preserve">20</text>
<line x1="76.60" y1="689.1" x2="76.60" y2="690.30" stroke="#c4c4c4" stroke-width="0.5"/>
<text x="0" y="0" transform="translate(76.60 694.30) scale(1 1.35)" font-family="Liberation Sans" font-size="4.15" fill="#5a5a5a" stroke="#5a5a5a" stroke-width="0.08" text-anchor="middle" xml:space="preserve">30</text>
<line x1="123.80" y1="689.1" x2="123.80" y2="690.30" stroke="#c4c4c4" stroke-width="0.5"/>
<text x="0" y="0" transform="translate(123.80 694.30) scale(1 1.35)" font-family="Liberation Sans" font-size="4.15" fill="#5a5a5a" stroke="#5a5a5a" stroke-width="0.08" text-anchor="middle" xml:space="preserve">40</text>
<line x1="171.30" y1="689.1" x2="171.30" y2="690.30" stroke="#c4c4c4" stroke-width="0.5"/>
<text x="0" y="0" transform="translate(171.30 694.30) scale(1 1.35)" font-family="Liberation Sans" font-size="4.15" fill="#5a5a5a" stroke="#5a5a5a" stroke-width="0.08" text-anchor="middle" xml:space="preserve">50</text>
<line x1="22.20" y1="553.60" x2="23.4" y2="553.60" stroke="#c4c4c4" stroke-width="0.5"/>
<text x="0" y="0" transform="translate(21.70 555.15) scale(1 1.35)" font-family="Liberation Sans" font-size="4.15" fill="#5a5a5a" stroke="#5a5a5a" stroke-width="0.08" text-anchor="end" xml:space="preserve">6000</text>
<line x1="22.20" y1="594.40" x2="23.4" y2="594.40" stroke="#c4c4c4" stroke-width="0.5"/>
<text x="0" y="0" transform="translate(21.70 595.95) scale(1 1.35)" font-family="Liberation Sans" font-size="4.15" fill="#5a5a5a" stroke="#5a5a5a" stroke-width="0.08" text-anchor="end" xml:space="preserve">5000</text>
<line x1="22.20" y1="634.60" x2="23.4" y2="634.60" stroke="#c4c4c4" stroke-width="0.5"/>
<text x="0" y="0" transform="translate(21.70 636.15) scale(1 1.35)" font-family="Liberation Sans" font-size="4.15" fill="#5a5a5a" stroke="#5a5a5a" stroke-width="0.08" text-anchor="end" xml:space="preserve">4000</text>
<line x1="22.20" y1="675.10" x2="23.4" y2="675.10" stroke="#c4c4c4" stroke-width="0.5"/>
<text x="0" y="0" transform="translate(21.70 676.65) scale(1 1.35)" font-family="Liberation Sans" font-size="4.15" fill="#5a5a5a" stroke="#5a5a5a" stroke-width="0.08" text-anchor="end" xml:space="preserve">3000</text>
<text x="19.75" y="534.80" font-family="Liberation Sans" font-size="5.5" fill="#111" stroke="#111" stroke-width="0.2" font-weight="bold" textLength="170.40" lengthAdjust="spacingAndGlyphs" xml:space="preserve">Correlation between Occipital Lobe Volume and Serum IL1b Level</text>
<text x="0" y="0" transform="translate(104.85 540.15) scale(1 1.15)" font-family="Liberation Sans" font-size="3.66" fill="#333" stroke="#333" stroke-width="0.08" text-anchor="middle" xml:space="preserve">PC Group (n=43) vs. NC Control (n=20)</text>
<text x="0" y="0" transform="translate(104.90 700.30) scale(1 1.12)" font-family="Liberation Sans" font-size="6.1" fill="#111" stroke="#111" stroke-width="0.25" font-weight="bold" text-anchor="middle" textLength="71.00" lengthAdjust="spacingAndGlyphs" xml:space="preserve">Serum IL1b Level(pg/ml)</text>
<text x="0" y="0" transform="translate(10.37 616.15) rotate(-90) scale(1 1.12)" font-family="Liberation Sans" font-size="6.1" fill="#111" stroke="#111" stroke-width="0.18" font-weight="bold" text-anchor="middle" xml:space="preserve">Occipital Lobe Volume(mm3)</text>
<text x="0" y="0" transform="translate(192.00 612.00) scale(1 1.1)" font-family="Liberation Sans" font-size="5.95" fill="#111" stroke="#111" stroke-width="0.2" font-weight="bold" xml:space="preserve">Group</text>
<rect x="191.40" y="614.40" width="5.5" height="10.0" fill="#e4e4e4"/>
<line x1="191.70" y1="617.30" x2="196.60" y2="617.30" stroke="#30f818" stroke-width="0.9"/>
<circle cx="194.15" cy="617.30" r="1.2" fill="#30f818"/>
<text x="0" y="0" transform="translate(198.70 619.40) scale(1 1.12)" font-family="Liberation Sans" font-size="4.8" fill="#333" stroke="#333" stroke-width="0.08" xml:space="preserve">NC group</text>
<line x1="191.70" y1="622.40" x2="196.60" y2="622.40" stroke="#f81818" stroke-width="0.9"/>
<circle cx="194.15" cy="622.40" r="1.2" fill="#f81818"/>
<text x="0" y="0" transform="translate(198.70 624.50) scale(1 1.12)" font-family="Liberation Sans" font-size="4.8" fill="#333" stroke="#333" stroke-width="0.08" xml:space="preserve">PC group</text>
<text x="5.75" y="547.65" font-family="Liberation Serif" font-size="15" fill="#000" font-weight="bold" xml:space="preserve">j</text>
<clipPath id="clipk"><rect x="252.4" y="540.2" width="165.00" height="147.20"/></clipPath>
<line x1="282.05" y1="540.2" x2="282.05" y2="687.4" stroke="#f5f5f5" stroke-width="0.4"/><line x1="330.25" y1="540.2" x2="330.25" y2="687.4" stroke="#f5f5f5" stroke-width="0.4"/><line x1="378.60" y1="540.2" x2="378.60" y2="687.4" stroke="#f5f5f5" stroke-width="0.4"/><line x1="252.4" y1="562.35" x2="417.4" y2="562.35" stroke="#f5f5f5" stroke-width="0.4"/><line x1="252.4" y1="598.05" x2="417.4" y2="598.05" stroke="#f5f5f5" stroke-width="0.4"/><line x1="252.4" y1="633.80" x2="417.4" y2="633.80" stroke="#f5f5f5" stroke-width="0.4"/><line x1="252.4" y1="669.57" x2="417.4" y2="669.57" stroke="#f5f5f5" stroke-width="0.4"/><line x1="257.90" y1="540.2" x2="257.90" y2="687.4" stroke="#efefef" stroke-width="0.45"/><line x1="306.20" y1="540.2" x2="306.20" y2="687.4" stroke="#efefef" stroke-width="0.45"/><line x1="354.30" y1="540.2" x2="354.30" y2="687.4" stroke="#efefef" stroke-width="0.45"/><line x1="402.90" y1="540.2" x2="402.90" y2="687.4" stroke="#efefef" stroke-width="0.45"/><line x1="252.4" y1="544.50" x2="417.4" y2="544.50" stroke="#efefef" stroke-width="0.45"/><line x1="252.4" y1="580.20" x2="417.4" y2="580.20" stroke="#efefef" stroke-width="0.45"/><line x1="252.4" y1="615.90" x2="417.4" y2="615.90" stroke="#efefef" stroke-width="0.45"/><line x1="252.4" y1="651.70" x2="417.4" y2="651.70" stroke="#efefef" stroke-width="0.45"/>
<g clip-path="url(#clipk)">
<rect x="340.8" y="541.0" width="72.70" height="15.20" fill="#fff" stroke="#c8c8c8" stroke-width="0.5"/>
<text x="342.40" y="547.50" font-family="Liberation Serif" font-size="5.6" fill="#000" stroke="#000" stroke-width="0.25" font-weight="bold" xml:space="preserve">NC Group:R=-0.057  P=0.81</text>
<text x="342.40" y="554.20" font-family="Liberation Serif" font-size="5.6" fill="#000" stroke="#000" stroke-width="0.25" font-weight="bold" xml:space="preserve"> PC Group:R=0.41  P=6.9e-3</text>
<circle cx="306.74" cy="546.55" r="1.3" fill="#30f818"/>
<circle cx="333.81" cy="597.01" r="1.3" fill="#30f818"/>
<circle cx="328.29" cy="608.57" r="1.3" fill="#30f818"/>
<circle cx="331.97" cy="614.61" r="1.3" fill="#30f818"/>
<circle cx="305.43" cy="617.77" r="1.3" fill="#30f818"/>
<circle cx="321.20" cy="619.60" r="1.3" fill="#30f818"/>
<circle cx="336.70" cy="620.92" r="1.3" fill="#30f818"/>
<circle cx="360.87" cy="618.82" r="1.3" fill="#30f818"/>
<circle cx="259.97" cy="630.12" r="1.3" fill="#30f818"/>
<circle cx="405.81" cy="618.82" r="1.3" fill="#30f818"/>
<circle cx="346.16" cy="639.84" r="1.3" fill="#30f818"/>
<circle cx="330.13" cy="641.41" r="1.3" fill="#30f818"/>
<circle cx="355.62" cy="645.88" r="1.3" fill="#30f818"/>
<circle cx="297.28" cy="648.25" r="1.3" fill="#30f818"/>
<circle cx="292.55" cy="651.93" r="1.3" fill="#30f818"/>
<circle cx="280.73" cy="654.29" r="1.3" fill="#30f818"/>
<circle cx="395.56" cy="641.41" r="1.3" fill="#30f818"/>
<circle cx="397.66" cy="644.04" r="1.3" fill="#30f818"/>
<circle cx="348.52" cy="674.79" r="1.3" fill="#30f818"/>
<circle cx="327.50" cy="680.83" r="1.3" fill="#30f818"/>
<circle cx="404.23" cy="596.22" r="1.3" fill="#f81818"/>
<circle cx="377.43" cy="599.11" r="1.3" fill="#f81818"/>
<circle cx="397.93" cy="599.63" r="1.3" fill="#f81818"/>
<circle cx="383.21" cy="605.68" r="1.3" fill="#f81818"/>
<circle cx="381.37" cy="608.83" r="1.3" fill="#f81818"/>
<circle cx="382.68" cy="612.25" r="1.3" fill="#f81818"/>
<circle cx="378.48" cy="615.93" r="1.3" fill="#f81818"/>
<circle cx="409.49" cy="611.46" r="1.3" fill="#f81818"/>
<circle cx="393.20" cy="604.36" r="1.3" fill="#f81818"/>
<circle cx="300.17" cy="616.71" r="1.3" fill="#f81818"/>
<circle cx="329.60" cy="616.19" r="1.3" fill="#f81818"/>
<circle cx="347.21" cy="614.87" r="1.3" fill="#f81818"/>
<circle cx="345.37" cy="619.60" r="1.3" fill="#f81818"/>
<circle cx="351.94" cy="618.03" r="1.3" fill="#f81818"/>
<circle cx="357.20" cy="621.71" r="1.3" fill="#f81818"/>
<circle cx="323.56" cy="624.07" r="1.3" fill="#f81818"/>
<circle cx="391.62" cy="626.70" r="1.3" fill="#f81818"/>
<circle cx="382.16" cy="629.06" r="1.3" fill="#f81818"/>
<circle cx="377.69" cy="632.22" r="1.3" fill="#f81818"/>
<circle cx="326.98" cy="634.06" r="1.3" fill="#f81818"/>
<circle cx="330.92" cy="636.16" r="1.3" fill="#f81818"/>
<circle cx="363.76" cy="637.21" r="1.3" fill="#f81818"/>
<circle cx="385.84" cy="633.27" r="1.3" fill="#f81818"/>
<circle cx="344.58" cy="639.31" r="1.3" fill="#f81818"/>
<circle cx="339.33" cy="641.15" r="1.3" fill="#f81818"/>
<circle cx="343.01" cy="639.84" r="1.3" fill="#f81818"/>
<circle cx="353.52" cy="640.63" r="1.3" fill="#f81818"/>
<circle cx="342.74" cy="643.52" r="1.3" fill="#f81818"/>
<circle cx="387.15" cy="644.83" r="1.3" fill="#f81818"/>
<circle cx="375.59" cy="646.67" r="1.3" fill="#f81818"/>
<circle cx="343.53" cy="650.87" r="1.3" fill="#f81818"/>
<circle cx="381.37" cy="650.87" r="1.3" fill="#f81818"/>
<circle cx="348.52" cy="655.34" r="1.3" fill="#f81818"/>
<circle cx="367.71" cy="656.13" r="1.3" fill="#f81818"/>
<circle cx="297.28" cy="659.55" r="1.3" fill="#f81818"/>
<circle cx="300.17" cy="662.70" r="1.3" fill="#f81818"/>
<circle cx="351.41" cy="661.91" r="1.3" fill="#f81818"/>
<circle cx="327.50" cy="666.64" r="1.3" fill="#f81818"/>
<circle cx="335.91" cy="666.64" r="1.3" fill="#f81818"/>
<circle cx="347.21" cy="666.64" r="1.3" fill="#f81818"/>
<circle cx="380.32" cy="668.74" r="1.3" fill="#f81818"/>
<circle cx="374.01" cy="670.58" r="1.3" fill="#f81818"/>
<circle cx="376.38" cy="635.11" r="1.3" fill="#f81818"/>
<path d="M259.90,627.40 C261.03,627.02 264.60,625.77 266.70,625.10 C268.80,624.43 270.55,623.98 272.50,623.40 C274.45,622.82 276.45,622.18 278.40,621.60 C280.35,621.02 282.27,620.42 284.20,619.90 C286.13,619.38 288.05,618.93 290.00,618.50 C291.95,618.07 293.95,617.62 295.90,617.30 C297.85,616.98 299.75,616.80 301.70,616.60 C303.65,616.40 305.65,616.23 307.60,616.10 C309.55,615.97 311.47,615.80 313.40,615.80 C315.33,615.80 317.25,615.92 319.20,616.10 C321.15,616.28 323.22,616.38 325.10,616.90 C326.98,617.42 328.65,618.27 330.50,619.20 C332.35,620.13 334.22,621.47 336.20,622.50 C338.18,623.53 339.30,624.45 342.40,625.40 C345.50,626.35 350.67,627.52 354.80,628.20 C358.93,628.88 363.07,629.35 367.20,629.50 C371.33,629.65 375.47,629.68 379.60,629.10 C383.73,628.52 387.65,627.65 392.00,626.00 C396.35,624.35 403.42,620.33 405.70,619.20 L405.70,646.50 C403.42,646.35 396.35,645.97 392.00,645.60 C387.65,645.23 383.73,644.78 379.60,644.30 C375.47,643.82 371.33,643.37 367.20,642.70 C363.07,642.03 358.93,641.22 354.80,640.30 C350.67,639.38 345.50,638.17 342.40,637.20 C339.30,636.23 338.18,635.37 336.20,634.50 C334.22,633.63 332.35,632.88 330.50,632.00 C328.65,631.12 326.98,629.77 325.10,629.20 C323.22,628.63 321.15,628.60 319.20,628.60 C317.25,628.60 315.33,629.00 313.40,629.20 C311.47,629.40 309.55,629.60 307.60,629.80 C305.65,630.00 303.65,630.15 301.70,630.40 C299.75,630.65 297.85,630.82 295.90,631.30 C293.95,631.78 291.95,632.48 290.00,633.30 C288.05,634.12 286.13,634.93 284.20,636.20 C282.27,637.47 280.35,639.15 278.40,640.90 C276.45,642.65 274.45,644.47 272.50,646.70 C270.55,648.93 268.80,651.57 266.70,654.30 C264.60,657.03 261.03,661.63 259.90,663.10 Z" fill="#999" fill-opacity="0.38"/>
<path d="M297.30,637.10 C299.02,637.43 303.95,638.67 307.60,639.10 C311.25,639.53 315.38,639.62 319.20,639.70 C323.02,639.78 326.63,639.72 330.50,639.60 C334.37,639.48 338.35,639.03 342.40,639.00 C346.45,638.97 351.70,639.57 354.80,639.40 C357.90,639.23 358.93,638.68 361.00,638.00 C363.07,637.32 365.13,636.38 367.20,635.30 C369.27,634.22 371.33,632.85 373.40,631.50 C375.47,630.15 377.53,629.03 379.60,627.20 C381.67,625.37 383.73,622.87 385.80,620.50 C387.87,618.13 389.93,615.58 392.00,613.00 C394.07,610.42 396.12,607.60 398.20,605.00 C400.28,602.40 402.63,599.80 404.50,597.40 C406.37,595.00 408.58,591.73 409.40,590.60 L409.40,603.60 C408.58,604.23 406.37,605.58 404.50,607.40 C402.63,609.22 400.28,612.13 398.20,614.50 C396.12,616.87 394.07,619.35 392.00,621.60 C389.93,623.85 387.87,625.93 385.80,628.00 C383.73,630.07 381.67,632.33 379.60,634.00 C377.53,635.67 375.47,636.82 373.40,638.00 C371.33,639.18 369.27,640.18 367.20,641.10 C365.13,642.02 363.07,642.97 361.00,643.50 C358.93,644.03 357.90,644.32 354.80,644.30 C351.70,644.28 346.45,643.20 342.40,643.40 C338.35,643.60 334.37,644.75 330.50,645.50 C326.63,646.25 323.02,647.22 319.20,647.90 C315.38,648.58 311.25,648.92 307.60,649.60 C303.95,650.28 299.02,651.60 297.30,652.00 Z" fill="#999" fill-opacity="0.38"/>
<path d="M259.90,645.00 C261.03,644.02 264.60,640.85 266.70,639.10 C268.80,637.35 270.55,635.92 272.50,634.50 C274.45,633.08 276.45,631.72 278.40,630.60 C280.35,629.48 282.27,628.62 284.20,627.80 C286.13,626.98 288.05,626.25 290.00,625.70 C291.95,625.15 293.95,624.83 295.90,624.50 C297.85,624.17 299.75,623.93 301.70,623.70 C303.65,623.47 305.65,623.30 307.60,623.10 C309.55,622.90 311.47,622.65 313.40,622.50 C315.33,622.35 317.25,622.15 319.20,622.20 C321.15,622.25 323.22,622.30 325.10,622.80 C326.98,623.30 328.65,624.25 330.50,625.20 C332.35,626.15 334.22,627.55 336.20,628.50 C338.18,629.45 339.30,629.92 342.40,630.90 C345.50,631.88 350.67,633.52 354.80,634.40 C358.93,635.28 363.07,635.78 367.20,636.20 C371.33,636.62 375.47,636.90 379.60,636.90 C383.73,636.90 387.65,636.95 392.00,636.20 C396.35,635.45 403.42,633.03 405.70,632.40" fill="none" stroke="#30f818" stroke-width="1.1"/>
<path d="M297.30,644.40 C299.02,644.33 303.95,644.20 307.60,644.00 C311.25,643.80 315.38,643.47 319.20,643.20 C323.02,642.93 326.63,642.68 330.50,642.40 C334.37,642.12 338.35,641.55 342.40,641.50 C346.45,641.45 351.70,642.17 354.80,642.10 C357.90,642.03 358.93,641.72 361.00,641.10 C363.07,640.48 365.13,639.37 367.20,638.40 C369.27,637.43 371.33,636.65 373.40,635.30 C375.47,633.95 377.53,632.17 379.60,630.30 C381.67,628.43 383.73,626.27 385.80,624.10 C387.87,621.93 389.93,619.67 392.00,617.30 C394.07,614.93 396.12,612.28 398.20,609.90 C400.28,607.52 402.63,605.08 404.50,603.00 C406.37,600.92 408.58,598.33 409.40,597.40" fill="none" stroke="#f81818" stroke-width="1.1"/>
</g>
<rect x="252.4" y="540.2" width="165.00" height="147.20" fill="none" stroke="#d2d2d2" stroke-width="0.7"/>
<line x1="257.90" y1="687.4" x2="257.90" y2="688.60" stroke="#c4c4c4" stroke-width="0.5"/>
<text x="0" y="0" transform="translate(257.90 692.60) scale(1 1.35)" font-family="Liberation Sans" font-size="4.15" fill="#5a5a5a" stroke="#5a5a5a" stroke-width="0.08" text-anchor="middle" xml:space="preserve">20</text>
<line x1="306.20" y1="687.4" x2="306.20" y2="688.60" stroke="#c4c4c4" stroke-width="0.5"/>
<text x="0" y="0" transform="translate(306.20 692.60) scale(1 1.35)" font-family="Liberation Sans" font-size="4.15" fill="#5a5a5a" stroke="#5a5a5a" stroke-width="0.08" text-anchor="middle" xml:space="preserve">30</text>
<line x1="354.30" y1="687.4" x2="354.30" y2="688.60" stroke="#c4c4c4" stroke-width="0.5"/>
<text x="0" y="0" transform="translate(354.30 692.60) scale(1 1.35)" font-family="Liberation Sans" font-size="4.15" fill="#5a5a5a" stroke="#5a5a5a" stroke-width="0.08" text-anchor="middle" xml:space="preserve">40</text>
<line x1="402.90" y1="687.4" x2="402.90" y2="688.60" stroke="#c4c4c4" stroke-width="0.5"/>
<text x="0" y="0" transform="translate(402.90 692.60) scale(1 1.35)" font-family="Liberation Sans" font-size="4.15" fill="#5a5a5a" stroke="#5a5a5a" stroke-width="0.08" text-anchor="middle" xml:space="preserve">50</text>
<line x1="251.20" y1="544.50" x2="252.4" y2="544.50" stroke="#c4c4c4" stroke-width="0.5"/>
<text x="0" y="0" transform="translate(250.70 546.05) scale(1 1.35)" font-family="Liberation Sans" font-size="4.15" fill="#5a5a5a" stroke="#5a5a5a" stroke-width="0.08" text-anchor="end" xml:space="preserve">18000</text>
<line x1="251.20" y1="580.20" x2="252.4" y2="580.20" stroke="#c4c4c4" stroke-width="0.5"/>
<text x="0" y="0" transform="translate(250.70 581.75) scale(1 1.35)" font-family="Liberation Sans" font-size="4.15" fill="#5a5a5a" stroke="#5a5a5a" stroke-width="0.08" text-anchor="end" xml:space="preserve">16000</text>
<line x1="251.20" y1="615.90" x2="252.4" y2="615.90" stroke="#c4c4c4" stroke-width="0.5"/>
<text x="0" y="0" transform="translate(250.70 617.45) scale(1 1.35)" font-family="Liberation Sans" font-size="4.15" fill="#5a5a5a" stroke="#5a5a5a" stroke-width="0.08" text-anchor="end" xml:space="preserve">14000</text>
<line x1="251.20" y1="651.70" x2="252.4" y2="651.70" stroke="#c4c4c4" stroke-width="0.5"/>
<text x="0" y="0" transform="translate(250.70 653.25) scale(1 1.35)" font-family="Liberation Sans" font-size="4.15" fill="#5a5a5a" stroke="#5a5a5a" stroke-width="0.08" text-anchor="end" xml:space="preserve">12000</text>
<text x="250.25" y="532.60" font-family="Liberation Sans" font-size="5.5" fill="#111" stroke="#111" stroke-width="0.2" font-weight="bold" textLength="168.90" lengthAdjust="spacingAndGlyphs" xml:space="preserve">Correlation between Insular Lobe Volume and Serum IL1b Level</text>
<text x="0" y="0" transform="translate(334.60 537.95) scale(1 1.15)" font-family="Liberation Sans" font-size="3.66" fill="#333" stroke="#333" stroke-width="0.08" text-anchor="middle" xml:space="preserve">PC Group (n=43) vs. NC Control (n=20)</text>
<text x="0" y="0" transform="translate(334.90 698.60) scale(1 1.12)" font-family="Liberation Sans" font-size="6.1" fill="#111" stroke="#111" stroke-width="0.25" font-weight="bold" text-anchor="middle" textLength="73.10" lengthAdjust="spacingAndGlyphs" xml:space="preserve">Serum IL1b Level(pg/ml)</text>
<text x="0" y="0" transform="translate(237.06 614.20) rotate(-90) scale(1 1.12)" font-family="Liberation Sans" font-size="6.1" fill="#111" stroke="#111" stroke-width="0.18" font-weight="bold" text-anchor="middle" xml:space="preserve">Insular Lobe Volume(mm3)</text>
<text x="0" y="0" transform="translate(422.80 610.05) scale(1 1.1)" font-family="Liberation Sans" font-size="5.95" fill="#111" stroke="#111" stroke-width="0.2" font-weight="bold" xml:space="preserve">Group</text>
<rect x="422.20" y="612.45" width="5.5" height="10.0" fill="#e4e4e4"/>
<line x1="422.50" y1="615.35" x2="427.40" y2="615.35" stroke="#30f818" stroke-width="0.9"/>
<circle cx="424.95" cy="615.35" r="1.2" fill="#30f818"/>
<text x="0" y="0" transform="translate(429.50 617.45) scale(1 1.12)" font-family="Liberation Sans" font-size="4.8" fill="#333" stroke="#333" stroke-width="0.08" xml:space="preserve">NC group</text>
<line x1="422.50" y1="620.45" x2="427.40" y2="620.45" stroke="#f81818" stroke-width="0.9"/>
<circle cx="424.95" cy="620.45" r="1.2" fill="#f81818"/>
<text x="0" y="0" transform="translate(429.50 622.55) scale(1 1.12)" font-family="Liberation Sans" font-size="4.8" fill="#333" stroke="#333" stroke-width="0.08" xml:space="preserve">PC group</text>
<text x="229.20" y="549.25" font-family="Liberation Serif" font-size="15" fill="#000" font-weight="bold" xml:space="preserve">k</text>
<clipPath id="clipl"><rect x="490.5" y="539.4" width="161.00" height="147.50"/></clipPath>
<line x1="519.70" y1="539.4" x2="519.70" y2="686.9" stroke="#f5f5f5" stroke-width="0.4"/><line x1="566.75" y1="539.4" x2="566.75" y2="686.9" stroke="#f5f5f5" stroke-width="0.4"/><line x1="613.75" y1="539.4" x2="613.75" y2="686.9" stroke="#f5f5f5" stroke-width="0.4"/><line x1="490.5" y1="564.45" x2="651.5" y2="564.45" stroke="#f5f5f5" stroke-width="0.4"/><line x1="490.5" y1="600.70" x2="651.5" y2="600.70" stroke="#f5f5f5" stroke-width="0.4"/><line x1="490.5" y1="637.05" x2="651.5" y2="637.05" stroke="#f5f5f5" stroke-width="0.4"/><line x1="490.5" y1="673.47" x2="651.5" y2="673.47" stroke="#f5f5f5" stroke-width="0.4"/><line x1="496.30" y1="539.4" x2="496.30" y2="686.9" stroke="#efefef" stroke-width="0.45"/><line x1="543.10" y1="539.4" x2="543.10" y2="686.9" stroke="#efefef" stroke-width="0.45"/><line x1="590.40" y1="539.4" x2="590.40" y2="686.9" stroke="#efefef" stroke-width="0.45"/><line x1="637.10" y1="539.4" x2="637.10" y2="686.9" stroke="#efefef" stroke-width="0.45"/><line x1="490.5" y1="546.30" x2="651.5" y2="546.30" stroke="#efefef" stroke-width="0.45"/><line x1="490.5" y1="582.60" x2="651.5" y2="582.60" stroke="#efefef" stroke-width="0.45"/><line x1="490.5" y1="618.80" x2="651.5" y2="618.80" stroke="#efefef" stroke-width="0.45"/><line x1="490.5" y1="655.30" x2="651.5" y2="655.30" stroke="#efefef" stroke-width="0.45"/>
<g clip-path="url(#clipl)">
<rect x="581.3" y="669.2" width="66.94" height="15.20" fill="#fff" stroke="#c8c8c8" stroke-width="0.5"/>
<text x="582.90" y="675.70" font-family="Liberation Serif" font-size="5.6" fill="#000" stroke="#000" stroke-width="0.25" font-weight="bold" xml:space="preserve">NC Group:R=-0.24  P=0.3</text>
<text x="582.90" y="682.40" font-family="Liberation Serif" font-size="5.6" fill="#000" stroke="#000" stroke-width="0.25" font-weight="bold" xml:space="preserve">PC Group:R=0.3  P=0.054</text>
<circle cx="570.13" cy="555.23" r="1.3" fill="#30f818"/>
<circle cx="542.01" cy="567.05" r="1.3" fill="#30f818"/>
<circle cx="564.61" cy="577.30" r="1.3" fill="#30f818"/>
<circle cx="566.19" cy="577.82" r="1.3" fill="#30f818"/>
<circle cx="582.48" cy="581.50" r="1.3" fill="#30f818"/>
<circle cx="596.41" cy="586.23" r="1.3" fill="#30f818"/>
<circle cx="591.41" cy="589.39" r="1.3" fill="#30f818"/>
<circle cx="557.78" cy="589.91" r="1.3" fill="#30f818"/>
<circle cx="518.36" cy="605.15" r="1.3" fill="#30f818"/>
<circle cx="529.93" cy="603.05" r="1.3" fill="#30f818"/>
<circle cx="497.61" cy="625.65" r="1.3" fill="#30f818"/>
<circle cx="543.33" cy="620.39" r="1.3" fill="#30f818"/>
<circle cx="572.50" cy="606.73" r="1.3" fill="#30f818"/>
<circle cx="584.06" cy="627.23" r="1.3" fill="#30f818"/>
<circle cx="563.56" cy="635.11" r="1.3" fill="#30f818"/>
<circle cx="568.55" cy="642.20" r="1.3" fill="#30f818"/>
<circle cx="534.39" cy="644.83" r="1.3" fill="#30f818"/>
<circle cx="632.93" cy="618.55" r="1.3" fill="#30f818"/>
<circle cx="630.04" cy="644.83" r="1.3" fill="#30f818"/>
<circle cx="640.55" cy="660.33" r="1.3" fill="#30f818"/>
<circle cx="612.70" cy="546.03" r="1.3" fill="#f81818"/>
<circle cx="613.49" cy="549.97" r="1.3" fill="#f81818"/>
<circle cx="581.43" cy="551.02" r="1.3" fill="#f81818"/>
<circle cx="589.31" cy="551.28" r="1.3" fill="#f81818"/>
<circle cx="615.06" cy="564.95" r="1.3" fill="#f81818"/>
<circle cx="612.17" cy="568.10" r="1.3" fill="#f81818"/>
<circle cx="616.90" cy="572.04" r="1.3" fill="#f81818"/>
<circle cx="639.24" cy="574.67" r="1.3" fill="#f81818"/>
<circle cx="643.97" cy="578.09" r="1.3" fill="#f81818"/>
<circle cx="593.25" cy="579.14" r="1.3" fill="#f81818"/>
<circle cx="565.93" cy="582.03" r="1.3" fill="#f81818"/>
<circle cx="560.41" cy="584.66" r="1.3" fill="#f81818"/>
<circle cx="587.47" cy="585.97" r="1.3" fill="#f81818"/>
<circle cx="579.85" cy="587.81" r="1.3" fill="#f81818"/>
<circle cx="581.17" cy="591.23" r="1.3" fill="#f81818"/>
<circle cx="614.01" cy="588.07" r="1.3" fill="#f81818"/>
<circle cx="610.86" cy="593.33" r="1.3" fill="#f81818"/>
<circle cx="602.98" cy="594.64" r="1.3" fill="#f81818"/>
<circle cx="621.90" cy="595.17" r="1.3" fill="#f81818"/>
<circle cx="632.67" cy="598.85" r="1.3" fill="#f81818"/>
<circle cx="616.12" cy="600.69" r="1.3" fill="#f81818"/>
<circle cx="563.56" cy="600.42" r="1.3" fill="#f81818"/>
<circle cx="566.98" cy="606.73" r="1.3" fill="#f81818"/>
<circle cx="536.76" cy="609.88" r="1.3" fill="#f81818"/>
<circle cx="628.20" cy="609.62" r="1.3" fill="#f81818"/>
<circle cx="617.69" cy="614.61" r="1.3" fill="#f81818"/>
<circle cx="618.22" cy="618.29" r="1.3" fill="#f81818"/>
<circle cx="583.27" cy="625.39" r="1.3" fill="#f81818"/>
<circle cx="578.28" cy="628.80" r="1.3" fill="#f81818"/>
<circle cx="575.91" cy="631.17" r="1.3" fill="#f81818"/>
<circle cx="582.74" cy="631.17" r="1.3" fill="#f81818"/>
<circle cx="599.30" cy="635.11" r="1.3" fill="#f81818"/>
<circle cx="616.12" cy="635.11" r="1.3" fill="#f81818"/>
<circle cx="608.76" cy="639.84" r="1.3" fill="#f81818"/>
<circle cx="584.58" cy="638.00" r="1.3" fill="#f81818"/>
<circle cx="579.33" cy="639.84" r="1.3" fill="#f81818"/>
<circle cx="564.09" cy="642.20" r="1.3" fill="#f81818"/>
<circle cx="620.58" cy="644.57" r="1.3" fill="#f81818"/>
<circle cx="626.36" cy="648.51" r="1.3" fill="#f81818"/>
<circle cx="537.02" cy="650.61" r="1.3" fill="#f81818"/>
<circle cx="571.97" cy="658.49" r="1.3" fill="#f81818"/>
<circle cx="586.16" cy="680.30" r="1.3" fill="#f81818"/>
<path d="M497.90,609.30 C498.53,609.23 500.10,609.10 501.70,608.90 C503.30,608.70 505.55,608.42 507.50,608.10 C509.45,607.78 511.45,607.45 513.40,607.00 C515.35,606.55 517.27,605.98 519.20,605.40 C521.13,604.82 523.05,604.17 525.00,603.50 C526.95,602.83 528.95,602.12 530.90,601.40 C532.85,600.68 534.75,599.83 536.70,599.20 C538.65,598.57 540.65,598.12 542.60,597.60 C544.55,597.08 546.47,596.60 548.40,596.10 C550.33,595.60 552.25,595.08 554.20,594.60 C556.15,594.12 558.30,593.57 560.10,593.20 C561.90,592.83 563.05,592.73 565.00,592.40 C566.95,592.07 569.55,591.28 571.80,591.20 C574.05,591.12 576.25,591.45 578.50,591.90 C580.75,592.35 583.05,593.12 585.30,593.90 C587.55,594.68 589.75,595.58 592.00,596.60 C594.25,597.62 596.55,598.75 598.80,600.00 C601.05,601.25 603.25,602.52 605.50,604.10 C607.75,605.68 610.03,607.60 612.30,609.50 C614.57,611.40 616.85,613.37 619.10,615.50 C621.35,617.63 623.55,619.93 625.80,622.30 C628.05,624.67 630.17,627.22 632.60,629.70 C635.03,632.18 639.10,635.95 640.40,637.20 L640.40,660.80 C639.10,658.88 635.03,652.78 632.60,649.30 C630.17,645.82 628.05,643.05 625.80,639.90 C623.55,636.75 621.35,633.33 619.10,630.40 C616.85,627.47 614.57,624.78 612.30,622.30 C610.03,619.82 607.75,617.53 605.50,615.50 C603.25,613.47 601.05,611.78 598.80,610.10 C596.55,608.42 594.25,606.63 592.00,605.40 C589.75,604.17 587.55,603.37 585.30,602.70 C583.05,602.03 580.75,601.52 578.50,601.40 C576.25,601.28 574.05,601.60 571.80,602.00 C569.55,602.40 566.95,603.28 565.00,603.80 C563.05,604.32 561.90,604.63 560.10,605.10 C558.30,605.57 556.15,606.05 554.20,606.60 C552.25,607.15 550.33,607.75 548.40,608.40 C546.47,609.05 544.55,609.77 542.60,610.50 C540.65,611.23 538.65,612.03 536.70,612.80 C534.75,613.57 532.85,614.25 530.90,615.10 C528.95,615.95 526.95,616.88 525.00,617.90 C523.05,618.92 521.13,619.97 519.20,621.20 C517.27,622.43 515.35,623.83 513.40,625.30 C511.45,626.77 509.45,628.30 507.50,630.00 C505.55,631.70 503.30,633.88 501.70,635.50 C500.10,637.12 498.53,639.00 497.90,639.70 Z" fill="#999" fill-opacity="0.38"/>
<path d="M534.40,620.00 C535.77,619.72 540.27,618.83 542.60,618.30 C544.93,617.77 546.47,617.33 548.40,616.80 C550.33,616.27 552.25,615.73 554.20,615.10 C556.15,614.47 558.30,613.60 560.10,613.00 C561.90,612.40 563.05,612.25 565.00,611.50 C566.95,610.75 569.55,609.52 571.80,608.50 C574.05,607.48 576.25,606.32 578.50,605.40 C580.75,604.48 583.05,603.67 585.30,603.00 C587.55,602.33 589.75,601.98 592.00,601.40 C594.25,600.82 596.55,600.07 598.80,599.50 C601.05,598.93 603.25,598.58 605.50,598.00 C607.75,597.42 610.03,596.57 612.30,596.00 C614.57,595.43 616.85,595.27 619.10,594.60 C621.35,593.93 623.55,592.90 625.80,592.00 C628.05,591.10 629.67,591.13 632.60,589.20 C635.53,587.27 641.60,581.87 643.40,580.40 L643.40,605.40 C641.60,604.62 635.53,601.45 632.60,600.70 C629.67,599.95 628.05,600.78 625.80,600.90 C623.55,601.02 621.35,601.08 619.10,601.40 C616.85,601.72 614.57,602.28 612.30,602.80 C610.03,603.32 607.75,603.88 605.50,604.50 C603.25,605.12 601.05,605.78 598.80,606.50 C596.55,607.22 594.25,608.05 592.00,608.80 C589.75,609.55 587.55,610.15 585.30,611.00 C583.05,611.85 580.75,612.82 578.50,613.90 C576.25,614.98 574.05,616.32 571.80,617.50 C569.55,618.68 566.95,619.90 565.00,621.00 C563.05,622.10 561.90,622.93 560.10,624.10 C558.30,625.27 556.15,626.63 554.20,628.00 C552.25,629.37 550.33,630.70 548.40,632.30 C546.47,633.90 544.93,635.55 542.60,637.60 C540.27,639.65 535.77,643.43 534.40,644.60 Z" fill="#999" fill-opacity="0.38"/>
<path d="M497.90,625.30 C498.53,624.85 500.10,623.63 501.70,622.60 C503.30,621.57 505.55,620.22 507.50,619.10 C509.45,617.98 511.45,616.92 513.40,615.90 C515.35,614.88 517.27,613.90 519.20,613.00 C521.13,612.10 523.05,611.32 525.00,610.50 C526.95,609.68 528.95,608.85 530.90,608.10 C532.85,607.35 534.75,606.68 536.70,606.00 C538.65,605.32 540.65,604.62 542.60,604.00 C544.55,603.38 546.47,602.88 548.40,602.30 C550.33,601.72 552.25,601.05 554.20,600.50 C556.15,599.95 558.30,599.42 560.10,599.00 C561.90,598.58 563.05,598.40 565.00,598.00 C566.95,597.60 569.55,596.87 571.80,596.60 C574.05,596.33 576.25,596.22 578.50,596.40 C580.75,596.58 583.05,597.03 585.30,597.70 C587.55,598.37 589.75,599.33 592.00,600.40 C594.25,601.47 596.55,602.58 598.80,604.10 C601.05,605.62 603.25,607.60 605.50,609.50 C607.75,611.40 610.03,613.25 612.30,615.50 C614.57,617.75 616.85,620.40 619.10,623.00 C621.35,625.60 623.55,628.40 625.80,631.10 C628.05,633.80 630.17,636.17 632.60,639.20 C635.03,642.23 639.10,647.62 640.40,649.30" fill="none" stroke="#30f818" stroke-width="1.1"/>
<path d="M534.40,632.90 C535.77,632.12 540.27,629.57 542.60,628.20 C544.93,626.83 546.47,625.83 548.40,624.70 C550.33,623.57 552.25,622.47 554.20,621.40 C556.15,620.33 558.30,619.17 560.10,618.30 C561.90,617.43 563.05,617.12 565.00,616.20 C566.95,615.28 569.55,613.85 571.80,612.80 C574.05,611.75 576.25,610.83 578.50,609.90 C580.75,608.97 583.05,608.02 585.30,607.20 C587.55,606.38 589.75,605.68 592.00,605.00 C594.25,604.32 596.55,603.75 598.80,603.10 C601.05,602.45 603.25,601.73 605.50,601.10 C607.75,600.47 610.03,599.93 612.30,599.30 C614.57,598.67 616.85,597.93 619.10,597.30 C621.35,596.67 623.55,596.07 625.80,595.50 C628.05,594.93 629.67,594.43 632.60,593.90 C635.53,593.37 641.60,592.57 643.40,592.30" fill="none" stroke="#f81818" stroke-width="1.1"/>
</g>
<rect x="490.5" y="539.4" width="161.00" height="147.50" fill="none" stroke="#d2d2d2" stroke-width="0.7"/>
<line x1="496.30" y1="686.9" x2="496.30" y2="688.10" stroke="#c4c4c4" stroke-width="0.5"/>
<text x="0" y="0" transform="translate(496.30 692.10) scale(1 1.35)" font-family="Liberation Sans" font-size="4.15" fill="#5a5a5a" stroke="#5a5a5a" stroke-width="0.08" text-anchor="middle" xml:space="preserve">20</text>
<line x1="543.10" y1="686.9" x2="543.10" y2="688.10" stroke="#c4c4c4" stroke-width="0.5"/>
<text x="0" y="0" transform="translate(543.10 692.10) scale(1 1.35)" font-family="Liberation Sans" font-size="4.15" fill="#5a5a5a" stroke="#5a5a5a" stroke-width="0.08" text-anchor="middle" xml:space="preserve">30</text>
<line x1="590.40" y1="686.9" x2="590.40" y2="688.10" stroke="#c4c4c4" stroke-width="0.5"/>
<text x="0" y="0" transform="translate(590.40 692.10) scale(1 1.35)" font-family="Liberation Sans" font-size="4.15" fill="#5a5a5a" stroke="#5a5a5a" stroke-width="0.08" text-anchor="middle" xml:space="preserve">40</text>
<line x1="637.10" y1="686.9" x2="637.10" y2="688.10" stroke="#c4c4c4" stroke-width="0.5"/>
<text x="0" y="0" transform="translate(637.10 692.10) scale(1 1.35)" font-family="Liberation Sans" font-size="4.15" fill="#5a5a5a" stroke="#5a5a5a" stroke-width="0.08" text-anchor="middle" xml:space="preserve">50</text>
<line x1="489.30" y1="546.30" x2="490.5" y2="546.30" stroke="#c4c4c4" stroke-width="0.5"/>
<text x="0" y="0" transform="translate(488.80 547.85) scale(1 1.35)" font-family="Liberation Sans" font-size="4.15" fill="#5a5a5a" stroke="#5a5a5a" stroke-width="0.08" text-anchor="end" xml:space="preserve">25000</text>
<line x1="489.30" y1="582.60" x2="490.5" y2="582.60" stroke="#c4c4c4" stroke-width="0.5"/>
<text x="0" y="0" transform="translate(488.80 584.15) scale(1 1.35)" font-family="Liberation Sans" font-size="4.15" fill="#5a5a5a" stroke="#5a5a5a" stroke-width="0.08" text-anchor="end" xml:space="preserve">22500</text>
<line x1="489.30" y1="618.80" x2="490.5" y2="618.80" stroke="#c4c4c4" stroke-width="0.5"/>
<text x="0" y="0" transform="translate(488.80 620.35) scale(1 1.35)" font-family="Liberation Sans" font-size="4.15" fill="#5a5a5a" stroke="#5a5a5a" stroke-width="0.08" text-anchor="end" xml:space="preserve">20000</text>
<line x1="489.30" y1="655.30" x2="490.5" y2="655.30" stroke="#c4c4c4" stroke-width="0.5"/>
<text x="0" y="0" transform="translate(488.80 656.85) scale(1 1.35)" font-family="Liberation Sans" font-size="4.15" fill="#5a5a5a" stroke="#5a5a5a" stroke-width="0.08" text-anchor="end" xml:space="preserve">17500</text>
<text x="485.35" y="531.80" font-family="Liberation Sans" font-size="5.5" fill="#111" stroke="#111" stroke-width="0.2" font-weight="bold" textLength="172.20" lengthAdjust="spacingAndGlyphs" xml:space="preserve">Correlation between Cingulate Lobe Volume and Serum IL1b Level</text>
<text x="0" y="0" transform="translate(571.35 537.15) scale(1 1.15)" font-family="Liberation Sans" font-size="3.66" fill="#333" stroke="#333" stroke-width="0.08" text-anchor="middle" xml:space="preserve">PC Group (n=43) vs. NC Control (n=20)</text>
<text x="0" y="0" transform="translate(570.90 698.10) scale(1 1.12)" font-family="Liberation Sans" font-size="6.1" fill="#111" stroke="#111" stroke-width="0.25" font-weight="bold" text-anchor="middle" textLength="70.60" lengthAdjust="spacingAndGlyphs" xml:space="preserve">Serum IL1b Level(pg/ml)</text>
<text x="0" y="0" transform="translate(475.16 613.55) rotate(-90) scale(1 1.12)" font-family="Liberation Sans" font-size="6.1" fill="#111" stroke="#111" stroke-width="0.18" font-weight="bold" text-anchor="middle" xml:space="preserve">Cingulate Lobe Volume(mm3)</text>
<text x="0" y="0" transform="translate(656.90 609.40) scale(1 1.1)" font-family="Liberation Sans" font-size="5.95" fill="#111" stroke="#111" stroke-width="0.2" font-weight="bold" xml:space="preserve">Group</text>
<rect x="656.30" y="611.80" width="5.5" height="10.0" fill="#e4e4e4"/>
<line x1="656.60" y1="614.70" x2="661.50" y2="614.70" stroke="#30f818" stroke-width="0.9"/>
<circle cx="659.05" cy="614.70" r="1.2" fill="#30f818"/>
<text x="0" y="0" transform="translate(663.60 616.80) scale(1 1.12)" font-family="Liberation Sans" font-size="4.8" fill="#333" stroke="#333" stroke-width="0.08" xml:space="preserve">NC group</text>
<line x1="656.60" y1="619.80" x2="661.50" y2="619.80" stroke="#f81818" stroke-width="0.9"/>
<circle cx="659.05" cy="619.80" r="1.2" fill="#f81818"/>
<text x="0" y="0" transform="translate(663.60 621.90) scale(1 1.12)" font-family="Liberation Sans" font-size="4.8" fill="#333" stroke="#333" stroke-width="0.08" xml:space="preserve">PC group</text>
<text x="467.90" y="547.05" font-family="Liberation Serif" font-size="15" fill="#000" font-weight="bold" xml:space="preserve">l</text>
</svg></body></html>
